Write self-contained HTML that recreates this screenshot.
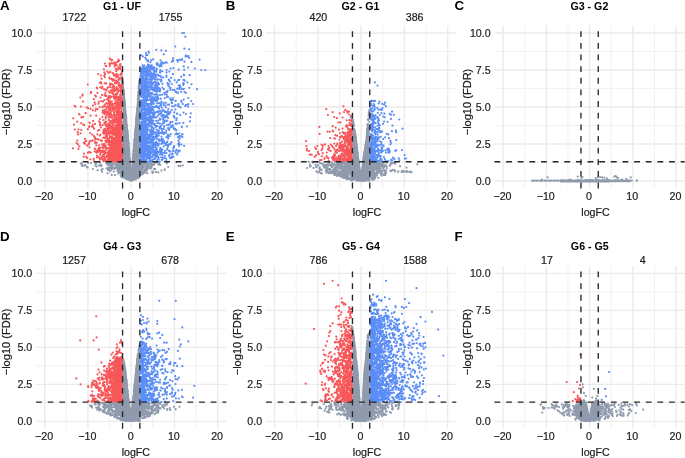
<!DOCTYPE html><html><head><meta charset="utf-8"><style>html,body{margin:0;padding:0;background:#fff;width:685px;height:458px;overflow:hidden}svg{display:block;will-change:transform;filter:blur(0.35px)}text{font-family:"Liberation Sans",sans-serif}</style></head><body>
<svg width="685" height="458" viewBox="0 0 685 458">
<rect width="685" height="458" fill="#fff"/>
<path d="M66.34 25.6V188.4M109.59 25.6V188.4M152.84 25.6V188.4M196.09 25.6V188.4M36.07 162.5H226.37M36.07 125.5H226.37M36.07 88.5H226.37M36.07 51.5H226.37" stroke="#EBEBEB" stroke-width="0.68" fill="none"/>
<path d="M44.72 25.6V188.4M87.97 25.6V188.4M131.22 25.6V188.4M174.47 25.6V188.4M217.72 25.6V188.4M36.07 181H226.37M36.07 144H226.37M36.07 107H226.37M36.07 70H226.37M36.07 33H226.37" stroke="#EBEBEB" stroke-width="1.35" fill="none"/>
<path d="M66.34 266V428.69M109.59 266V428.69M152.84 266V428.69M196.09 266V428.69M36.07 402.81H226.37M36.07 365.84H226.37M36.07 328.86H226.37M36.07 291.89H226.37" stroke="#EBEBEB" stroke-width="0.68" fill="none"/>
<path d="M44.72 266V428.69M87.97 266V428.69M131.22 266V428.69M174.47 266V428.69M217.72 266V428.69M36.07 421.3H226.37M36.07 384.32H226.37M36.07 347.35H226.37M36.07 310.38H226.37M36.07 273.4H226.37" stroke="#EBEBEB" stroke-width="1.35" fill="none"/>
<path d="M296.23 25.6V188.4M339.48 25.6V188.4M382.73 25.6V188.4M425.98 25.6V188.4M265.95 162.5H456.25M265.95 125.5H456.25M265.95 88.5H456.25M265.95 51.5H456.25" stroke="#EBEBEB" stroke-width="0.68" fill="none"/>
<path d="M274.6 25.6V188.4M317.85 25.6V188.4M361.1 25.6V188.4M404.35 25.6V188.4M447.6 25.6V188.4M265.95 181H456.25M265.95 144H456.25M265.95 107H456.25M265.95 70H456.25M265.95 33H456.25" stroke="#EBEBEB" stroke-width="1.35" fill="none"/>
<path d="M296.23 266V428.69M339.48 266V428.69M382.73 266V428.69M425.98 266V428.69M265.95 402.81H456.25M265.95 365.84H456.25M265.95 328.86H456.25M265.95 291.89H456.25" stroke="#EBEBEB" stroke-width="0.68" fill="none"/>
<path d="M274.6 266V428.69M317.85 266V428.69M361.1 266V428.69M404.35 266V428.69M447.6 266V428.69M265.95 421.3H456.25M265.95 384.32H456.25M265.95 347.35H456.25M265.95 310.38H456.25M265.95 273.4H456.25" stroke="#EBEBEB" stroke-width="1.35" fill="none"/>
<path d="M524.73 25.6V188.4M567.98 25.6V188.4M611.23 25.6V188.4M654.48 25.6V188.4M494.45 162.5H684.75M494.45 125.5H684.75M494.45 88.5H684.75M494.45 51.5H684.75" stroke="#EBEBEB" stroke-width="0.68" fill="none"/>
<path d="M503.1 25.6V188.4M546.35 25.6V188.4M589.6 25.6V188.4M632.85 25.6V188.4M676.1 25.6V188.4M494.45 181H684.75M494.45 144H684.75M494.45 107H684.75M494.45 70H684.75M494.45 33H684.75" stroke="#EBEBEB" stroke-width="1.35" fill="none"/>
<path d="M524.73 266V428.69M567.98 266V428.69M611.23 266V428.69M654.48 266V428.69M494.45 402.81H684.75M494.45 365.84H684.75M494.45 328.86H684.75M494.45 291.89H684.75" stroke="#EBEBEB" stroke-width="0.68" fill="none"/>
<path d="M503.1 266V428.69M546.35 266V428.69M589.6 266V428.69M632.85 266V428.69M676.1 266V428.69M494.45 421.3H684.75M494.45 384.32H684.75M494.45 347.35H684.75M494.45 310.38H684.75M494.45 273.4H684.75" stroke="#EBEBEB" stroke-width="1.35" fill="none"/>
<g><path d="M107.7 167.8h0M81.8 165.5h0M164.8 170.0h0M107.9 162.4h0M108.9 164.4h0M148.6 168.0h0M115.8 168.2h0M147.3 163.6h0M107.7 168.2h0M100.2 162.8h0M110.1 165.9h0M115.6 163.2h0M84.2 165.8h0M160.2 164.9h0M111.5 161.8h0M92.9 169.0h0M151.6 167.1h0M101.4 170.1h0M150.8 168.8h0M107.5 164.9h0M115.0 175.1h0M158.3 172.4h0M147.5 173.3h0M102.1 171.8h0M152.4 171.7h0M168.2 167.0h0M87.5 167.4h0M151.5 165.1h0M164.6 169.4h0M109.6 168.8h0M158.2 164.4h0M85.4 165.2h0M111.8 161.8h0M109.7 171.3h0M94.8 162.8h0M111.5 168.4h0M99.2 165.4h0M86.9 166.9h0M108.0 170.0h0M161.4 170.6h0M100.8 166.1h0M176.4 162.3h0M96.4 163.4h0M109.7 168.5h0M91.1 163.1h0M147.5 165.2h0M108.9 169.3h0M147.0 170.2h0M102.7 168.8h0M81.8 165.5h0M147.0 164.9h0M159.4 164.3h0M110.8 163.3h0M95.3 165.4h0M148.4 165.9h0M147.3 168.9h0M156.1 172.1h0M155.3 169.2h0M101.7 165.6h0M152.3 172.8h0M108.5 167.7h0M153.5 172.0h0M96.6 166.4h0M182.7 165.4h0M106.6 168.5h0M116.0 165.9h0M154.1 164.6h0M180.3 165.9h0M111.4 170.1h0M97.6 170.2h0M82.1 166.0h0M155.2 162.8h0M157.0 162.5h0M110.8 167.3h0M100.9 165.1h0M147.9 162.9h0M106.1 162.9h0M154.6 162.1h0M113.8 171.6h0M178.6 165.9h0M111.5 162.6h0M112.4 167.2h0M107.5 173.3h0M159.1 162.7h0M166.9 163.4h0M88.2 163.0h0M82.2 164.2h0M111.8 174.9h0M154.0 168.9h0M80.9 163.4h0" stroke="#8F9AAD" stroke-width="2.2" stroke-linecap="round" fill="none"/><path d="M125.7 177.7h0M121.8 171.5h0M128.5 169.7h0M141.5 171.2h0M124.3 168.7h0M129.4 174.4h0M129.5 179.4h0M136.0 162.5h0M128.8 168.0h0M130.4 176.6h0M141.7 165.5h0M146.2 163.6h0M143.7 173.1h0M107.3 163.9h0M129.9 167.6h0M130.3 170.9h0M136.3 177.8h0M134.3 178.9h0M126.4 166.6h0M134.4 172.5h0M127.6 164.8h0M127.1 178.8h0M126.3 178.7h0M137.9 176.4h0M151.7 165.6h0M127.8 169.2h0M127.9 172.9h0M120.4 170.5h0M110.6 165.4h0M143.0 171.5h0M127.0 167.4h0M141.3 172.4h0M129.3 167.0h0M137.3 168.3h0M124.1 175.3h0M136.2 166.8h0M142.1 164.9h0M130.0 178.0h0M141.7 166.2h0M132.4 167.7h0M129.4 173.9h0M132.4 171.5h0M135.0 162.9h0M139.4 171.6h0M129.2 163.1h0M129.6 165.5h0M119.6 169.3h0M141.0 174.8h0M133.1 168.6h0M123.0 164.4h0M124.4 169.6h0M128.2 168.2h0M132.9 170.8h0M128.2 170.7h0M129.2 163.8h0M126.7 174.8h0M147.7 167.8h0M140.5 168.1h0M153.7 164.8h0M146.1 164.2h0M135.3 171.5h0M133.4 175.9h0M109.4 163.0h0M126.8 164.9h0M156.1 162.0h0M149.5 167.6h0M123.6 174.3h0M129.0 178.0h0M122.9 177.5h0M145.2 169.1h0M133.2 171.8h0M135.8 165.1h0M129.4 170.4h0M119.9 171.8h0M125.6 173.6h0M128.2 169.4h0M128.4 174.0h0M138.7 177.9h0M116.2 163.1h0M133.4 166.8h0M148.3 168.2h0M143.9 171.5h0M137.5 174.4h0M130.9 180.0h0M127.4 162.1h0M142.7 167.5h0M137.1 163.4h0M128.4 162.1h0M130.5 177.7h0M134.6 167.6h0M114.0 164.6h0M144.0 165.9h0M152.0 164.0h0M137.9 176.1h0M142.1 169.9h0M140.9 172.2h0M133.2 164.6h0M135.0 168.5h0M150.8 166.8h0M120.2 168.2h0M147.8 164.5h0M127.9 177.8h0M130.5 171.6h0M127.0 163.9h0M127.4 177.6h0M128.7 162.9h0M123.3 173.4h0M144.5 169.7h0M139.2 177.1h0M141.6 173.0h0M124.2 166.0h0M148.6 163.7h0M143.4 161.9h0M132.0 178.0h0M139.5 171.4h0M128.0 170.7h0M112.8 168.4h0M126.8 168.8h0M136.0 162.5h0M138.2 162.7h0M133.4 166.6h0M132.5 179.0h0M116.8 164.4h0M125.0 165.3h0M130.7 180.7h0M132.1 172.3h0M118.0 170.8h0M127.8 173.5h0M134.9 176.6h0M146.7 170.6h0M118.5 172.1h0M125.6 176.0h0M118.2 171.6h0M125.6 170.6h0M133.6 173.4h0M123.7 176.5h0M126.8 176.3h0M135.1 175.9h0M113.0 168.2h0M130.3 173.8h0M134.4 178.3h0M126.5 167.2h0M132.2 170.9h0M142.5 174.2h0M124.7 169.0h0M152.7 163.5h0M136.3 167.0h0M122.1 168.0h0M127.8 173.2h0M123.2 177.7h0M139.7 166.3h0M136.1 174.1h0M130.0 177.2h0M132.8 164.7h0M136.9 162.9h0M126.7 167.0h0M121.7 169.0h0M120.8 168.5h0M131.8 174.2h0M128.7 167.0h0M131.0 173.1h0M120.9 172.4h0M139.4 162.2h0M129.2 164.1h0M140.7 173.9h0M127.1 167.1h0M127.8 162.5h0M129.0 166.7h0M134.9 175.8h0M140.3 172.3h0M120.7 175.7h0M127.0 164.5h0M126.9 164.4h0M112.4 166.4h0M123.3 170.7h0M128.8 172.8h0M139.6 168.5h0M132.9 173.1h0M137.8 170.1h0M135.9 163.2h0M133.0 172.2h0M126.8 163.3h0M136.4 165.2h0M125.6 171.4h0M141.3 173.1h0M138.1 169.4h0M125.5 172.4h0M118.2 165.8h0M135.4 178.9h0M127.7 165.9h0M124.9 169.5h0M137.8 168.9h0M121.5 163.1h0M135.9 169.3h0M128.4 169.3h0M129.5 178.1h0M121.5 176.4h0M123.8 174.1h0M133.4 169.5h0M132.6 165.1h0M119.7 170.2h0M118.5 169.2h0M118.4 173.7h0M120.4 170.5h0M136.4 174.1h0M135.8 175.1h0M127.4 171.1h0M118.1 168.6h0M132.5 165.0h0M116.1 163.8h0M132.3 169.7h0M115.4 162.9h0M127.1 169.8h0M132.8 161.9h0M125.9 167.6h0M132.4 170.9h0M133.3 170.0h0M128.5 168.3h0M118.8 168.6h0M130.5 176.7h0M121.6 172.6h0M116.8 166.2h0M118.7 171.7h0M130.5 172.1h0M112.4 162.1h0M125.8 168.4h0M125.6 168.6h0M128.8 174.2h0M132.7 167.6h0M126.9 177.7h0M126.5 173.5h0M132.9 172.6h0M127.9 178.0h0M132.7 178.4h0M133.2 177.3h0M128.9 162.8h0M119.4 166.1h0M129.6 178.1h0M132.1 180.5h0M140.2 164.9h0M129.2 170.3h0M114.4 167.7h0M129.8 165.7h0M135.5 171.9h0M133.6 172.6h0M121.2 167.3h0M130.4 174.9h0M126.9 170.2h0M126.4 172.3h0M146.1 167.2h0M126.5 170.1h0M143.7 163.5h0M134.2 163.6h0M136.2 167.3h0M130.1 177.8h0M135.5 168.2h0M150.2 165.9h0M140.9 173.8h0M146.7 161.8h0M114.9 167.8h0M150.3 163.7h0M122.1 177.4h0M126.4 162.7h0M137.7 171.3h0M136.3 163.4h0M127.7 164.0h0M126.9 173.6h0M114.5 169.0h0M132.0 180.3h0M131.9 177.5h0M136.0 176.9h0M125.1 174.1h0M132.5 165.3h0M136.1 166.2h0M134.3 170.0h0M128.6 176.7h0M140.2 171.1h0M133.7 178.8h0M129.0 178.3h0M128.8 166.6h0M128.6 167.5h0M121.5 171.2h0M129.8 170.9h0M125.8 166.9h0M141.2 164.6h0M112.0 164.7h0M128.6 169.5h0M118.8 165.3h0M108.6 163.8h0M136.2 175.9h0M127.9 166.5h0M130.0 175.6h0M144.9 163.6h0M128.9 170.0h0M144.7 171.2h0M143.0 163.3h0M135.4 167.3h0M134.4 170.0h0M132.5 176.8h0M135.3 177.9h0M136.6 174.0h0M118.7 173.1h0M128.2 170.3h0M128.3 176.2h0M136.6 172.5h0M140.8 173.5h0M134.5 173.3h0M139.5 167.4h0M134.3 178.1h0M136.1 173.0h0M135.8 164.5h0M121.5 176.9h0M136.2 162.3h0M142.4 169.7h0M138.8 177.7h0M116.4 166.2h0M125.9 171.0h0M127.7 172.4h0M132.9 161.8h0M124.3 166.9h0M129.9 173.0h0M126.6 171.1h0M132.3 173.2h0M139.6 168.8h0M129.4 162.5h0M123.9 177.4h0M143.0 171.8h0M123.0 171.6h0M128.6 173.5h0M139.6 173.1h0M122.0 174.0h0M147.1 167.2h0M129.0 165.8h0M145.4 167.3h0M138.1 173.9h0M128.8 169.5h0M126.0 174.2h0M124.4 174.0h0M139.1 165.1h0M121.0 171.5h0M135.3 164.2h0M126.1 165.5h0M138.3 171.5h0M126.0 178.4h0M133.3 168.5h0M111.5 166.4h0M116.3 167.7h0M129.4 164.2h0M117.3 171.0h0M145.7 172.6h0M126.7 172.3h0M127.4 168.8h0M133.0 169.0h0M133.7 168.8h0M112.7 164.1h0M132.5 176.4h0M130.0 176.1h0M140.4 173.0h0M123.5 165.0h0M136.3 164.3h0M134.3 172.3h0M132.7 162.8h0M126.8 165.8h0M107.8 164.2h0M146.4 169.4h0M133.8 171.1h0M134.8 162.1h0M146.0 170.4h0M122.4 173.0h0M122.7 165.5h0M138.8 175.7h0M117.9 170.0h0M134.5 165.9h0M143.7 163.3h0M121.2 166.1h0M136.8 163.3h0M130.0 177.6h0M130.8 173.8h0M129.6 165.4h0M133.7 167.6h0M133.7 177.4h0M116.4 168.1h0M139.5 167.4h0M137.3 168.1h0M137.0 161.8h0M135.1 164.2h0M151.4 163.0h0M138.0 177.0h0M113.1 162.3h0M126.1 173.7h0M122.2 167.5h0M111.7 162.9h0M127.6 166.3h0M143.1 165.9h0M130.1 168.8h0M139.8 166.3h0M126.5 179.0h0M141.1 167.5h0M116.9 166.8h0M132.6 175.0h0M141.5 173.1h0M122.6 172.7h0M128.5 163.9h0M133.8 177.8h0M129.6 178.4h0M134.9 164.3h0M119.6 168.6h0M126.3 174.1h0M135.9 162.1h0M127.2 169.8h0M127.9 178.6h0M132.8 177.5h0M134.5 166.3h0M122.5 168.2h0M125.2 165.7h0M127.4 167.3h0M133.6 169.5h0M125.5 164.6h0M128.8 166.0h0M135.0 173.5h0M136.4 171.3h0M135.8 167.0h0M146.5 167.7h0M128.7 161.8h0M134.8 175.1h0M148.3 163.8h0M133.7 174.7h0M137.9 163.1h0M137.3 163.2h0M119.5 165.3h0M140.3 170.0h0M118.6 167.6h0M126.2 178.5h0M145.4 163.6h0M133.4 166.4h0M134.1 171.5h0M121.4 172.6h0M127.7 177.4h0M128.6 176.6h0M144.9 171.0h0M129.6 170.3h0M126.5 170.5h0M132.0 179.8h0M146.8 166.3h0M122.7 162.0h0M123.7 166.2h0M131.0 176.0h0M129.3 171.3h0M129.2 175.6h0M129.9 172.3h0" stroke="#8F9AAD" stroke-width="2.2" stroke-linecap="round" fill="none"/><path d="M122.6 83.3L122.6 161.7L115.6 161.7L118.5 171.4L121.7 176.9L126.0 180.1L131.2 181.6L136.4 180.1L139.9 176.9L142.0 171.4L147.7 161.7L139.9 161.7L139.9 90.7L137.4 90.7L137.1 99.6L134.5 129.9L132.7 149.9L131.2 170.9L130.0 149.9L128.2 129.9L125.2 99.6L123.9 84.8L123.8 83.3Z" fill="#8F9AAD"/><path d="M124.0 103.6h0M129.2 166.5h0M129.5 164.1h0M124.5 117.2h0M129.2 152.3h0M129.0 158.2h0M124.9 113.5h0M129.1 158.6h0M126.1 129.5h0M129.3 169.8h0M125.1 110.2h0M127.0 131.5h0M127.1 137.2h0M128.7 156.9h0M123.7 95.0h0M125.7 124.7h0M128.8 151.3h0M125.5 131.0h0M128.6 168.1h0M122.3 78.2h0M124.9 104.9h0M126.7 127.8h0M123.3 96.5h0M121.7 74.0h0M124.3 108.7h0M129.4 159.9h0M127.8 143.5h0M126.9 129.0h0M122.5 82.6h0M123.4 95.5h0M121.9 76.7h0M122.9 83.0h0M122.9 92.0h0M128.9 148.1h0M129.7 166.8h0M128.0 156.1h0M122.1 80.9h0M122.5 85.5h0M124.3 101.3h0M128.1 136.5h0M125.1 113.3h0M127.7 145.7h0M128.7 150.9h0M128.9 146.5h0M129.2 159.7h0M125.8 127.2h0M125.9 115.6h0M129.2 170.0h0M124.8 113.5h0M127.8 146.3h0M127.7 140.7h0M125.0 110.5h0M126.3 118.2h0M129.9 165.8h0M129.9 168.1h0M128.4 154.7h0M123.4 95.0h0M124.7 101.5h0M125.1 107.0h0M125.7 125.5h0M129.1 149.3h0M121.8 87.5h0M128.3 153.9h0M128.7 143.4h0M126.3 124.6h0M121.5 81.1h0M124.0 93.9h0M125.3 110.2h0M121.0 86.1h0M124.5 109.9h0M122.8 87.9h0M130.3 170.1h0M124.1 106.1h0M129.6 158.8h0M125.0 106.8h0M126.2 126.8h0M124.2 98.8h0M121.9 82.2h0M127.7 134.3h0M123.9 92.9h0M124.6 110.6h0M123.6 92.5h0M127.7 131.8h0M127.6 133.9h0M122.2 87.4h0M127.0 137.4h0M123.2 93.2h0M123.4 90.2h0M125.9 115.0h0M124.5 101.6h0M125.7 115.9h0M128.3 146.2h0M124.2 106.2h0M127.1 134.0h0M129.5 160.8h0M125.7 114.7h0M127.1 138.6h0M129.4 154.1h0M122.2 80.1h0M125.6 117.5h0M124.2 108.7h0M126.7 126.6h0M128.8 161.0h0M123.9 104.8h0M128.0 143.8h0M128.6 157.6h0M123.7 90.7h0M122.3 81.7h0M123.5 90.8h0M122.8 81.6h0M127.1 131.4h0M129.8 160.2h0M124.9 107.6h0M129.9 170.9h0M123.5 90.4h0M129.5 163.8h0M129.3 163.3h0M123.2 90.9h0M127.5 131.2h0M127.0 131.9h0M123.8 93.1h0M128.1 136.4h0M124.6 101.8h0M128.4 164.3h0M120.7 74.1h0M128.2 152.1h0M126.5 128.6h0M126.7 125.0h0M122.3 81.8h0M124.9 103.5h0M126.6 126.9h0M129.6 162.1h0M127.9 135.0h0M127.6 131.3h0M124.2 101.6h0M122.9 100.6h0M122.1 81.1h0M125.6 115.9h0M129.4 165.0h0M122.5 90.8h0M128.3 139.7h0M129.2 158.3h0M127.8 145.8h0M123.3 98.2h0M126.2 131.0h0M129.6 157.8h0M125.4 121.3h0M125.4 116.1h0M126.8 126.2h0M129.9 169.4h0M122.3 90.9h0M123.3 92.2h0M124.6 107.8h0M123.2 99.5h0M127.2 137.3h0M122.7 94.6h0M129.2 161.5h0M129.8 169.4h0M122.1 81.3h0M124.0 96.9h0M122.8 84.0h0M124.5 115.0h0M124.5 100.3h0M121.8 84.6h0M134.5 151.7h0M138.0 95.9h0M138.9 86.4h0M139.1 104.4h0M136.9 123.5h0M139.0 88.1h0M133.9 144.2h0M133.1 159.4h0M138.7 87.3h0M139.4 107.9h0M139.2 83.3h0M139.4 89.2h0M138.6 92.3h0M134.5 143.7h0M134.9 145.7h0M137.1 115.9h0M136.0 122.0h0M137.0 108.9h0M135.3 131.7h0M135.5 131.4h0M134.1 153.9h0M137.6 114.0h0M133.2 169.4h0M133.6 158.3h0M134.7 141.2h0M138.4 101.3h0M133.7 155.1h0M139.3 84.1h0M134.0 144.5h0M137.5 114.4h0M137.6 118.4h0M138.0 101.0h0M136.9 117.4h0M133.4 155.7h0M136.1 119.6h0M135.3 133.0h0M138.4 98.4h0M136.4 119.2h0M140.7 82.2h0M136.3 118.3h0M133.9 151.5h0M134.3 152.6h0M139.1 94.9h0M132.7 166.7h0M136.4 118.0h0M139.1 87.7h0M135.9 136.2h0M137.4 108.6h0M133.1 163.9h0M138.6 101.6h0M134.5 144.7h0M136.6 115.3h0M136.9 116.5h0M139.6 81.8h0M134.1 152.0h0M134.0 151.2h0M136.7 118.1h0M138.5 105.4h0M137.4 112.9h0M135.0 143.6h0M134.8 134.2h0M133.2 158.6h0M132.9 169.0h0M138.4 100.3h0M135.7 147.5h0M136.7 115.6h0M139.7 84.7h0M137.1 112.3h0M133.6 151.4h0M135.5 128.4h0M133.3 169.9h0M137.7 112.3h0M134.8 135.7h0M132.3 168.8h0M138.9 100.5h0M139.1 101.8h0M138.3 107.3h0M133.8 156.8h0M135.0 138.1h0M137.3 129.2h0M135.7 129.7h0M136.0 121.6h0M138.0 100.1h0M138.5 103.8h0M139.1 89.3h0M137.9 106.5h0M139.5 81.8h0M133.3 154.7h0M136.2 118.2h0M134.6 144.5h0M135.5 141.4h0M132.8 160.7h0M135.7 149.5h0M137.6 110.7h0M138.7 100.1h0M133.4 164.9h0M136.0 122.2h0M138.2 98.2h0M134.6 159.5h0M134.7 140.2h0M133.2 168.3h0M137.2 113.2h0M132.3 167.0h0M136.4 123.5h0M132.5 169.5h0M133.9 146.5h0M134.0 152.7h0M137.0 125.0h0M134.3 141.4h0M133.1 169.0h0M139.1 102.1h0M133.6 153.8h0M139.5 81.5h0M135.9 128.4h0M138.2 107.6h0M134.6 143.2h0M134.3 139.6h0M132.9 159.4h0M134.9 138.3h0M136.2 134.8h0M139.7 79.9h0M137.0 117.8h0M134.1 148.6h0M135.2 130.7h0M133.9 149.7h0M134.8 140.3h0M133.4 157.4h0M136.3 121.9h0M133.8 158.0h0M135.8 147.6h0M137.9 112.8h0M133.9 157.0h0M132.6 164.8h0M138.6 86.6h0M136.0 137.5h0M135.3 139.5h0M137.4 108.6h0M137.0 118.2h0M139.1 96.5h0M133.5 156.8h0M138.6 88.9h0M139.8 80.3h0M133.6 153.9h0M134.7 142.6h0M139.0 84.7h0M139.1 90.9h0M133.8 165.4h0M137.8 99.1h0M134.6 144.0h0M136.5 127.3h0M132.8 169.2h0M136.5 115.7h0M139.2 88.2h0M139.2 81.4h0" stroke="#8F9AAD" stroke-width="2.2" stroke-linecap="round" fill="none"/><path d="M116.5 87.0h0M120.3 144.7h0M114.1 118.0h0M120.0 120.1h0M113.2 149.9h0M116.6 65.1h0M117.5 107.2h0M117.4 141.7h0M105.7 152.7h0M98.9 157.1h0M100.0 82.8h0M116.0 158.9h0M116.8 154.5h0M118.8 97.2h0M118.6 148.6h0M116.8 120.3h0M80.9 106.6h0M94.6 102.3h0M118.5 91.0h0M115.2 134.7h0M104.8 95.7h0M118.7 141.8h0M90.1 133.0h0M112.4 154.8h0M83.2 116.8h0M100.5 153.4h0M108.3 114.2h0M99.7 151.3h0M121.7 138.2h0M112.6 142.8h0M119.5 122.6h0M92.9 110.3h0M111.6 132.3h0M114.4 158.1h0M113.3 151.6h0M121.2 153.8h0M114.5 150.2h0M118.6 159.3h0M113.9 97.9h0M104.2 110.2h0M120.4 160.0h0M120.8 130.3h0M113.1 148.2h0M119.9 100.5h0M113.0 144.6h0M106.0 113.0h0M121.0 158.0h0M116.0 107.6h0M91.2 92.1h0M113.6 87.4h0M121.5 129.6h0M111.6 130.2h0M121.9 130.8h0M110.6 125.1h0M121.9 146.2h0M119.7 147.8h0M107.2 126.4h0M118.3 68.6h0M103.8 154.7h0M121.6 126.2h0M78.4 129.5h0M95.9 108.8h0M104.1 143.8h0M108.4 151.7h0M114.4 151.8h0M117.1 108.1h0M118.2 103.7h0M111.2 63.4h0M102.7 112.7h0M119.9 122.7h0M118.3 148.1h0M121.8 106.5h0M111.4 91.8h0M110.8 141.4h0M110.9 137.2h0M122.0 156.6h0M121.8 136.1h0M115.5 146.1h0M120.6 148.6h0M93.9 161.1h0M116.4 152.4h0M108.0 87.4h0M117.2 152.5h0M101.5 78.7h0M118.5 139.4h0M112.9 130.0h0M113.2 158.3h0M120.6 153.1h0M118.6 161.5h0M115.2 83.4h0M111.1 150.0h0M121.2 158.5h0M83.1 101.6h0M112.2 158.1h0M119.6 141.2h0M116.6 143.6h0M117.6 150.8h0M121.6 99.3h0M116.0 161.3h0M115.3 118.9h0M118.6 156.1h0M119.5 148.6h0M121.3 106.2h0M121.1 156.8h0M118.4 160.4h0M116.0 144.7h0M116.8 161.0h0M115.4 65.4h0M121.4 74.2h0M121.3 100.9h0M110.5 142.0h0M112.8 144.8h0M112.9 125.6h0M120.5 153.5h0M116.8 139.9h0M119.8 149.1h0M110.0 78.4h0M121.7 159.3h0M79.5 114.5h0M117.3 141.6h0M120.9 147.2h0M111.6 60.6h0M121.2 130.2h0M115.3 97.6h0M111.9 101.7h0M117.2 123.4h0M113.6 147.4h0M117.6 147.1h0M112.7 131.6h0M115.7 128.3h0M121.8 152.3h0M108.9 145.0h0M117.5 145.7h0M110.9 160.3h0M120.0 152.0h0M96.2 115.7h0M104.1 132.1h0M110.3 159.4h0M121.4 97.4h0M121.4 126.7h0M108.9 96.4h0M89.1 127.1h0M120.1 159.7h0M113.2 145.3h0M120.2 160.0h0M114.8 134.3h0M118.8 150.8h0M99.5 149.1h0M120.6 119.7h0M114.1 159.7h0M117.0 156.5h0M120.3 89.7h0M118.4 134.0h0M120.0 138.9h0M121.2 147.4h0M113.9 109.4h0M118.8 154.4h0M118.3 137.6h0M121.5 90.5h0M116.5 112.4h0M115.6 157.9h0M118.7 99.2h0M114.9 159.8h0M119.8 137.4h0M122.0 153.9h0M113.9 160.9h0M113.6 158.8h0M115.6 133.4h0M121.9 155.9h0M120.1 139.8h0M107.4 111.8h0M112.9 124.7h0M112.6 154.3h0M107.1 135.9h0M95.9 139.2h0M87.2 145.7h0M114.7 149.4h0M112.7 129.9h0M97.5 92.8h0M111.4 147.4h0M116.6 130.4h0M121.0 139.6h0M110.9 154.0h0M120.7 159.2h0M121.6 151.6h0M90.8 152.5h0M120.5 161.1h0M88.1 108.3h0M121.9 84.9h0M119.8 148.0h0M121.1 89.0h0M106.0 148.4h0M115.7 131.1h0M118.2 139.3h0M121.5 161.7h0M121.3 104.0h0M110.7 103.8h0M105.0 153.8h0M119.7 145.3h0M118.2 160.1h0M78.4 148.9h0M121.4 111.3h0M116.3 153.0h0M113.6 144.5h0M116.7 138.0h0M100.1 122.6h0M120.7 143.5h0M81.3 130.0h0M87.8 84.5h0M86.1 156.8h0M84.6 142.2h0M115.6 74.6h0M121.1 158.8h0M119.1 157.3h0M118.6 128.8h0M118.4 157.2h0M107.0 106.5h0M111.1 126.9h0M121.6 158.5h0M119.0 117.6h0M111.3 153.0h0M87.3 158.1h0M116.2 120.5h0M120.0 143.5h0M121.1 157.5h0M100.7 147.5h0M119.4 127.9h0M103.9 156.2h0M117.9 134.2h0M120.7 158.6h0M110.3 147.4h0M106.6 95.9h0M103.2 159.3h0M95.3 104.2h0M119.1 151.2h0M120.3 125.8h0M117.4 132.3h0M109.7 135.8h0M121.2 150.1h0M119.3 160.6h0M99.9 159.7h0M113.0 129.0h0M121.8 132.8h0M109.0 101.5h0M121.6 77.4h0M114.2 113.0h0M116.6 159.0h0M121.0 148.7h0M112.7 160.1h0M121.0 145.4h0M106.9 130.0h0M118.0 97.8h0M120.3 159.7h0M116.9 107.4h0M119.5 133.0h0M120.9 91.2h0M119.3 137.4h0M115.9 155.0h0M119.4 137.7h0M116.8 160.6h0M112.0 59.9h0M120.2 147.2h0M121.0 121.5h0M72.9 148.3h0M121.2 142.4h0M116.3 140.6h0M84.0 153.6h0M120.1 137.6h0M117.4 147.5h0M108.5 144.4h0M117.2 122.5h0M112.0 121.5h0M105.0 159.2h0M120.0 78.7h0M120.1 159.2h0M117.4 92.9h0M114.9 148.1h0M117.3 121.0h0M113.8 115.4h0M118.6 161.5h0M115.7 136.9h0M118.3 148.9h0M116.9 118.1h0M113.8 107.2h0M119.5 154.8h0M106.2 109.2h0M113.4 120.2h0M117.6 144.2h0M107.6 138.5h0M110.0 127.8h0M102.7 144.9h0M112.5 138.9h0M89.2 126.4h0M108.8 119.9h0M118.2 120.2h0M120.8 122.1h0M118.2 144.3h0M119.3 154.8h0M112.1 117.8h0M117.6 126.9h0M105.0 131.1h0M95.1 149.1h0M99.0 147.8h0M112.3 137.4h0M116.0 116.3h0M118.0 150.3h0M111.6 127.7h0M113.1 160.5h0M105.6 123.9h0M119.4 100.7h0M116.8 157.3h0M120.0 146.6h0M118.8 128.3h0M117.5 153.9h0M121.2 139.4h0M120.1 148.8h0M118.2 145.9h0M118.0 150.8h0M121.9 144.5h0M106.2 142.5h0M116.3 145.4h0M108.7 153.5h0M119.3 160.4h0M119.8 140.6h0M113.0 129.3h0M113.2 133.2h0M121.1 153.6h0M109.2 133.4h0M117.7 132.7h0M118.4 107.4h0M109.5 158.1h0M113.4 150.0h0M110.8 110.3h0M119.0 110.0h0M116.0 130.8h0M121.2 142.2h0M120.1 161.2h0M114.6 159.4h0M117.3 139.1h0M110.9 117.0h0M113.0 93.9h0M121.7 143.8h0M109.4 133.7h0M96.5 152.7h0M101.9 157.4h0M119.9 141.2h0M113.4 130.6h0M110.1 155.0h0M101.0 152.4h0M121.1 153.5h0M103.3 132.3h0M115.3 122.3h0M90.8 93.1h0M119.8 138.2h0M121.1 160.6h0M109.3 131.6h0M116.4 158.8h0M119.7 137.7h0M120.5 128.9h0M114.3 155.2h0M100.6 140.3h0M121.7 144.5h0M118.8 147.1h0M120.3 145.2h0M113.6 147.6h0M121.9 157.6h0M119.4 154.2h0M116.8 159.3h0M116.9 154.6h0M109.3 77.7h0M82.4 95.7h0M109.9 137.5h0M77.7 132.2h0M121.6 149.9h0M119.6 112.3h0M117.4 102.3h0M104.9 77.3h0M114.6 129.5h0M119.0 147.9h0M121.6 73.1h0M112.3 132.9h0M119.1 129.3h0M104.3 123.0h0M115.9 140.0h0M116.2 158.1h0M120.8 133.4h0M120.9 95.2h0M121.6 138.1h0M118.9 98.9h0M119.7 112.8h0M112.6 147.2h0M120.2 123.2h0M119.2 128.1h0M117.4 155.2h0M119.6 161.4h0M121.4 140.1h0M83.6 156.7h0M121.2 84.6h0M115.4 63.7h0M113.7 144.1h0M117.1 62.1h0M121.2 84.9h0M118.4 149.1h0M121.0 118.2h0M118.7 147.1h0M114.3 154.3h0M116.7 141.5h0M108.4 103.2h0M108.9 106.0h0M121.6 158.3h0M116.9 126.0h0M118.9 136.3h0M112.1 121.7h0M118.5 118.3h0M107.4 138.0h0M117.8 99.8h0M117.4 143.0h0M112.8 143.2h0M119.9 128.4h0M113.4 104.1h0M121.0 143.0h0M117.9 146.2h0M119.5 147.7h0M87.8 129.2h0M121.3 110.9h0M120.4 108.1h0M118.5 124.2h0M109.8 104.7h0M107.4 140.3h0M114.9 150.9h0M112.8 127.3h0M109.6 100.5h0M116.5 105.7h0M117.1 149.0h0M119.8 132.2h0M114.3 142.8h0M90.5 115.7h0M119.5 134.1h0M112.3 153.1h0M110.1 58.9h0M120.7 143.6h0M120.7 157.8h0M122.0 157.1h0M117.0 126.0h0M118.6 109.6h0M112.9 154.8h0M96.8 87.7h0M112.4 120.2h0M121.6 122.9h0M120.2 156.3h0M115.6 105.9h0M109.3 150.9h0M105.7 145.6h0M121.8 149.7h0M117.4 142.4h0M104.0 112.9h0M119.1 150.9h0M115.8 155.4h0M120.3 159.0h0M120.6 123.7h0M88.8 144.1h0M104.8 104.7h0M120.9 161.3h0M119.6 131.4h0M118.6 117.0h0M114.6 155.7h0M114.9 127.8h0M106.4 147.9h0M118.1 152.0h0M117.1 139.0h0M117.3 134.3h0M119.6 146.6h0M97.8 149.5h0M112.8 122.3h0M120.1 75.0h0M116.6 149.7h0M118.8 121.2h0M104.6 152.3h0M117.0 124.7h0M116.9 152.2h0M121.3 114.2h0M121.4 152.0h0M120.5 140.9h0M113.9 161.2h0M77.2 121.7h0M106.3 83.3h0M115.6 144.5h0M106.9 99.5h0M114.3 160.5h0M119.6 125.3h0M117.0 74.0h0M118.4 115.6h0M107.3 140.3h0M119.9 157.5h0M115.8 130.5h0M114.6 89.1h0M114.1 156.3h0M116.4 125.4h0M97.1 150.8h0M115.9 101.7h0M115.0 154.2h0M113.7 111.8h0M118.9 152.2h0M104.3 147.2h0M87.8 152.8h0M121.4 98.2h0M121.0 159.6h0M117.0 143.5h0M118.9 157.4h0M108.0 99.9h0M119.7 159.7h0M120.3 159.8h0M116.9 134.3h0M78.1 134.4h0M119.9 145.1h0M121.7 130.5h0M108.5 148.0h0M120.1 161.7h0M120.8 124.1h0M114.0 132.5h0M119.9 137.0h0M115.5 127.5h0M118.2 146.5h0M120.9 141.6h0M112.0 146.8h0M121.2 150.7h0M122.0 155.0h0M120.1 151.7h0M118.6 127.5h0M115.1 139.8h0M120.2 161.3h0M116.9 146.7h0M120.8 120.3h0M115.4 133.2h0M119.4 105.2h0M118.9 103.0h0M81.7 117.3h0M113.8 86.5h0M111.9 140.3h0M120.6 152.9h0M106.3 109.4h0M107.5 128.8h0M120.7 123.2h0M121.1 112.9h0M120.2 145.5h0M114.1 138.0h0M111.4 156.3h0M117.3 133.7h0M111.0 154.8h0M109.0 133.7h0M116.2 157.8h0M107.7 87.8h0M111.2 157.9h0M109.9 155.4h0M114.5 147.8h0M83.3 124.7h0M121.3 139.6h0M115.9 133.2h0M120.1 148.6h0M118.1 135.3h0M121.2 158.6h0M114.5 143.0h0M105.6 125.5h0M104.3 145.7h0M96.0 96.4h0M99.9 119.0h0M113.7 159.7h0M121.0 144.2h0M121.0 157.9h0M108.6 130.4h0M102.4 116.9h0M111.1 132.9h0M102.1 144.3h0M119.9 160.1h0M102.4 156.0h0M112.3 144.4h0M119.3 159.4h0M111.0 148.7h0M119.2 146.5h0M111.7 84.1h0M110.7 137.7h0M118.9 152.8h0M116.5 155.1h0M120.6 151.2h0M74.0 124.6h0M109.7 58.5h0M118.0 112.9h0M115.6 134.8h0M120.8 151.5h0M114.2 90.4h0M80.6 133.3h0M92.3 134.6h0M103.1 132.7h0M120.3 157.5h0M116.2 80.9h0M113.6 155.4h0M119.6 125.4h0M121.2 140.9h0M117.2 123.2h0M114.9 137.9h0M104.3 145.3h0M104.8 153.0h0M116.8 96.4h0M110.4 146.1h0M117.3 146.4h0M97.4 151.2h0M118.4 100.4h0M110.4 147.5h0M100.3 124.4h0M113.7 153.6h0M74.9 129.5h0M118.2 134.1h0M115.9 158.4h0M92.1 140.9h0M102.3 107.3h0M111.9 116.2h0M117.5 126.3h0M113.3 155.9h0M120.4 64.1h0M110.7 137.2h0M120.2 157.5h0M121.8 155.2h0M117.7 75.2h0M121.1 154.0h0M114.2 87.5h0M115.6 154.0h0M92.7 140.4h0M117.3 130.6h0M121.2 145.1h0M118.7 155.1h0M115.2 120.5h0M114.4 95.4h0M118.7 127.7h0M108.4 160.2h0M109.8 131.2h0M109.1 150.7h0M120.3 94.4h0M105.4 125.2h0M88.3 144.5h0M119.2 155.0h0M121.3 125.0h0M114.7 142.2h0M115.5 115.3h0M114.7 153.0h0M83.9 142.9h0M115.3 144.0h0M90.2 152.6h0M114.1 142.2h0M85.0 138.9h0M121.0 92.3h0M117.8 161.0h0M120.5 143.8h0M117.5 156.0h0M114.0 153.5h0M96.3 152.1h0M121.7 149.5h0M115.5 110.4h0M119.7 155.5h0M121.8 148.9h0M116.6 125.2h0M105.8 116.9h0M119.7 149.0h0M107.7 157.6h0M111.1 97.0h0M119.5 143.3h0M108.3 154.5h0M116.0 131.7h0M115.9 153.0h0M116.5 93.8h0M117.8 146.2h0M117.1 146.7h0M121.8 71.0h0M118.0 123.7h0M84.2 125.1h0M116.9 103.8h0M103.5 130.7h0M108.3 129.2h0M117.1 94.2h0M115.6 139.3h0M122.0 155.2h0M113.3 153.0h0M120.5 159.0h0M113.3 144.0h0M120.5 154.1h0M119.2 157.7h0M117.0 149.2h0M95.3 143.0h0M99.0 145.3h0M119.1 144.1h0M110.2 103.1h0M121.8 152.4h0M118.9 133.6h0M108.5 142.3h0M108.2 152.2h0M109.2 131.9h0M114.5 122.8h0M116.5 119.0h0M115.4 108.3h0M119.3 144.5h0M112.8 160.9h0M118.1 122.4h0M103.6 111.3h0M119.9 96.0h0M111.0 122.4h0M116.9 82.8h0M119.6 161.2h0M119.9 64.9h0M121.0 128.2h0M97.4 134.3h0M113.9 145.0h0M119.8 154.1h0M92.7 124.6h0M108.0 126.2h0M120.7 90.2h0M121.7 86.0h0M102.9 152.2h0M118.0 145.5h0M118.0 153.7h0M118.5 157.8h0M110.4 152.3h0M114.9 115.0h0M117.0 125.3h0M93.9 99.1h0M117.2 141.6h0M120.1 129.4h0M119.0 154.8h0M121.4 158.2h0M113.3 91.4h0M112.4 137.1h0M121.0 159.1h0M109.2 160.5h0M110.0 157.8h0M116.0 140.5h0M111.9 78.8h0M121.8 112.2h0M88.9 152.2h0M120.3 111.7h0M116.5 115.8h0M105.3 140.6h0M113.0 87.0h0M120.9 119.8h0M99.3 148.0h0M109.9 151.4h0M104.1 89.3h0M113.3 80.4h0M106.2 134.2h0M118.1 128.2h0M116.6 132.6h0M118.6 154.3h0M113.8 85.9h0M109.6 115.2h0M115.8 148.6h0M114.0 113.8h0M118.5 159.5h0M118.1 159.6h0M114.5 62.3h0M119.1 149.4h0M86.2 140.9h0M117.1 154.1h0M120.3 158.4h0M121.0 131.0h0M119.2 84.9h0M120.9 88.1h0M118.0 150.2h0M121.7 135.8h0M103.2 148.2h0M117.5 150.3h0M121.9 160.2h0M110.5 148.8h0M120.7 86.3h0M121.6 161.0h0M119.7 127.4h0M101.9 141.1h0M118.8 141.1h0M109.6 92.8h0M107.5 104.1h0M121.7 152.3h0M114.2 157.1h0M115.7 146.4h0M122.0 116.4h0M118.9 124.1h0M112.2 150.6h0M121.5 135.2h0M114.9 143.5h0M121.0 151.6h0M119.6 129.7h0M121.5 73.7h0M108.4 140.9h0M105.5 136.1h0M89.3 142.2h0M114.4 122.3h0M100.9 75.5h0M105.3 151.0h0M119.0 111.0h0M115.5 129.4h0M109.3 157.9h0M118.2 146.2h0M110.7 144.0h0M115.6 142.6h0M115.8 134.2h0M121.8 154.1h0M97.0 157.5h0M120.7 123.4h0M119.0 154.1h0M110.4 126.5h0M122.0 161.0h0M97.0 155.7h0M99.3 130.0h0M116.5 88.5h0M116.1 157.7h0M118.8 147.3h0M108.8 97.3h0M111.7 105.7h0M107.7 128.5h0M118.4 122.6h0M120.1 152.8h0M121.2 147.3h0M114.8 145.0h0M114.0 142.8h0M111.4 148.7h0M118.0 61.4h0M116.9 153.8h0M106.4 103.0h0M119.5 161.7h0M121.3 154.0h0M121.5 140.0h0M120.6 154.5h0M117.1 135.5h0M121.8 147.1h0M118.7 112.4h0M117.4 149.9h0M115.9 134.6h0M95.1 95.5h0M109.5 115.9h0M99.7 135.6h0M108.7 156.1h0M119.9 114.3h0M115.0 96.9h0M120.7 133.1h0M113.0 146.5h0M119.6 118.7h0M76.5 142.8h0M118.8 137.1h0M118.6 128.5h0M118.1 130.9h0M86.7 107.4h0M115.3 80.7h0M117.1 143.9h0M119.6 156.1h0M113.8 90.9h0M117.5 145.9h0M106.9 115.2h0M117.7 151.4h0M120.4 140.9h0M118.4 133.4h0M113.2 149.1h0M120.3 146.9h0M120.8 159.6h0M119.0 160.6h0M75.4 106.7h0M120.2 107.9h0M106.1 130.6h0M119.6 99.7h0M120.3 129.1h0M111.1 160.2h0M118.4 130.5h0M115.6 158.3h0M115.2 146.3h0M100.3 87.3h0M110.2 144.2h0M116.1 144.0h0M115.9 133.0h0M109.4 101.4h0M117.9 134.0h0M116.9 104.4h0M119.5 158.4h0M117.6 146.6h0M115.2 154.3h0M120.4 117.7h0M104.5 122.8h0M106.7 112.0h0M120.9 139.3h0M93.0 126.8h0M120.4 156.8h0M109.4 140.7h0M118.6 112.2h0M120.6 157.7h0M121.6 125.4h0M119.3 129.2h0M102.4 157.2h0M121.8 116.2h0M106.2 66.1h0M120.1 148.0h0M109.7 106.7h0M120.7 154.9h0M117.6 150.6h0M121.3 114.0h0M102.4 86.7h0M109.5 148.6h0M113.6 161.4h0M109.0 91.6h0M120.3 148.7h0M115.3 138.4h0M119.4 86.5h0M110.7 112.1h0M115.7 137.9h0M100.9 150.5h0M120.5 140.9h0M118.6 159.0h0M115.6 116.5h0M112.0 93.0h0M105.2 128.6h0M109.7 126.0h0M118.9 121.8h0M115.5 116.9h0M120.4 134.4h0M102.2 159.3h0M104.4 72.4h0M113.3 96.5h0M120.1 159.0h0M111.9 126.5h0M108.4 111.1h0M90.0 140.8h0M121.7 140.2h0M105.8 157.3h0M113.3 149.2h0M111.2 149.4h0M120.2 98.3h0M113.7 158.2h0M120.2 159.3h0M93.1 120.9h0M120.7 144.7h0M104.5 114.3h0M90.4 159.3h0M119.4 136.5h0M117.6 160.5h0M109.2 159.2h0M114.0 150.8h0M105.4 147.9h0M115.6 157.6h0M121.8 144.5h0M116.6 148.2h0M121.5 149.5h0M107.7 153.2h0M120.6 119.8h0M118.4 122.3h0M117.3 159.8h0M104.7 83.4h0M115.7 161.2h0M107.3 141.6h0M117.8 159.1h0M114.6 160.3h0M121.2 147.1h0M121.3 146.4h0M104.8 111.4h0M120.2 137.7h0M104.7 137.9h0M100.9 82.0h0M101.3 151.2h0M119.5 159.7h0M121.6 155.2h0M114.0 121.5h0M96.0 138.9h0M118.9 132.9h0M121.1 134.4h0M109.9 154.1h0M118.7 136.4h0M99.1 121.4h0M107.1 130.8h0M113.9 75.7h0M109.8 64.3h0M109.9 142.5h0M117.2 156.7h0M115.8 97.6h0M114.4 130.0h0M117.9 149.0h0M113.4 128.2h0M117.6 120.1h0M112.2 105.9h0M119.7 156.0h0M107.7 141.7h0M121.3 117.4h0M103.5 120.1h0M115.4 154.2h0M118.8 125.8h0M120.8 139.2h0M117.7 122.0h0M117.8 147.5h0M120.8 141.8h0M112.2 104.0h0M117.4 143.6h0M82.8 94.5h0M102.8 159.9h0M116.1 159.6h0M121.8 138.0h0M120.5 144.1h0M112.2 158.7h0M122.0 134.2h0M120.5 146.9h0M116.5 160.5h0M97.9 139.1h0M121.3 105.8h0M120.7 146.3h0M106.7 107.8h0M97.7 150.6h0M117.7 147.8h0M120.7 157.4h0M120.8 123.4h0M110.7 102.0h0M113.0 160.4h0M116.7 112.4h0M110.1 133.2h0M98.1 151.9h0M121.1 133.8h0M89.7 122.8h0M119.0 156.4h0M120.6 155.9h0M108.8 154.8h0M110.3 144.1h0M108.8 108.1h0M112.1 79.8h0M119.7 157.8h0M110.2 121.2h0M112.9 63.4h0M119.9 153.6h0M111.0 90.4h0M112.6 84.6h0M98.8 101.5h0M88.9 143.8h0M121.3 144.0h0M103.7 161.2h0M114.2 115.7h0M122.0 154.0h0M110.7 113.1h0M119.9 136.3h0M106.1 95.8h0M120.4 125.0h0M113.7 156.2h0M120.0 137.5h0M105.6 152.9h0M116.8 118.9h0M73.3 118.3h0M118.4 130.4h0M108.7 130.4h0M118.3 154.4h0M118.6 123.6h0M114.8 148.0h0M121.4 127.8h0M89.5 147.3h0M106.4 121.7h0M114.4 130.5h0M117.6 142.7h0M115.4 151.5h0M121.2 103.2h0M121.6 159.9h0M114.4 158.1h0M121.0 148.3h0M110.7 153.9h0M116.7 137.8h0M112.7 159.1h0M119.7 127.9h0M121.7 113.2h0M121.5 126.3h0M107.3 126.0h0M122.0 118.2h0M103.8 133.8h0M105.1 74.4h0M121.6 158.1h0M116.6 150.4h0M114.7 159.7h0M119.6 116.8h0M115.2 142.2h0M118.7 116.9h0M117.0 156.0h0M119.7 161.6h0M114.5 66.3h0M118.2 111.8h0M118.3 151.6h0M109.7 135.8h0M121.3 153.6h0M108.6 124.8h0M106.6 147.9h0M112.2 156.8h0M120.6 106.1h0M107.8 159.8h0M119.9 156.8h0M119.8 87.1h0M94.8 151.4h0M121.5 114.8h0M109.1 109.1h0M120.5 116.4h0M114.9 155.5h0M98.2 151.1h0M121.4 132.6h0M118.3 146.8h0M117.1 160.8h0M119.0 100.1h0M100.3 154.8h0M119.5 85.9h0M113.6 161.1h0M110.8 145.5h0M119.3 141.3h0M118.6 155.4h0M111.9 150.5h0M112.4 154.0h0M120.6 116.6h0M116.4 77.5h0M121.8 125.3h0M118.6 151.5h0M115.6 158.5h0M116.9 62.2h0M121.6 160.2h0M115.6 143.1h0M118.9 161.0h0M120.2 105.6h0M121.6 127.8h0M108.6 112.9h0M116.7 159.6h0M119.7 144.2h0M117.1 148.2h0M119.4 97.2h0M122.0 152.4h0M104.9 63.6h0M122.0 157.2h0M112.6 72.9h0M121.0 160.9h0M85.8 113.3h0M117.8 82.1h0M121.1 160.9h0M104.5 150.9h0M121.7 151.9h0M107.8 155.8h0M121.6 141.3h0M112.2 138.9h0M121.7 159.5h0M105.5 147.6h0M114.7 139.1h0M110.4 161.2h0M111.9 144.5h0M118.9 122.0h0M120.7 159.0h0M120.7 130.4h0M104.7 94.6h0M105.8 136.4h0M113.9 131.4h0M119.3 136.6h0M121.1 149.7h0M118.7 144.6h0M121.2 87.9h0M116.1 119.5h0M110.0 83.7h0M119.0 156.0h0M120.5 98.1h0M121.7 78.4h0M109.6 63.4h0M118.0 110.2h0M113.9 142.7h0M120.6 159.0h0M114.2 150.7h0M103.1 101.6h0M113.3 152.6h0M119.1 134.4h0M118.6 148.4h0M85.1 144.0h0M121.5 152.9h0M113.0 108.7h0M118.6 115.4h0M115.9 145.6h0M115.6 159.7h0M116.9 132.3h0M113.9 133.4h0M120.1 140.8h0M119.7 68.2h0M97.5 109.2h0M106.7 155.8h0M112.0 143.8h0M120.4 160.7h0M119.8 140.6h0M107.7 154.7h0M107.6 124.4h0M118.6 115.5h0M112.2 134.7h0M121.6 157.9h0M121.3 154.5h0M100.2 158.2h0M112.2 145.6h0M106.7 140.2h0M121.0 121.2h0M118.6 155.0h0M109.9 125.0h0M105.5 92.7h0M113.5 153.0h0M116.8 129.1h0M90.6 108.9h0M111.8 146.5h0M114.1 139.3h0M98.3 139.7h0M121.4 160.2h0M113.1 80.8h0M121.9 149.7h0M111.3 141.7h0M117.3 150.1h0M104.0 158.8h0M109.9 155.7h0M115.8 68.7h0M115.2 125.3h0M109.9 156.8h0M108.5 73.0h0M120.1 129.0h0M120.7 154.5h0M116.3 105.1h0M116.5 104.2h0M112.0 157.0h0M109.3 109.9h0M112.7 159.3h0M119.7 137.5h0M118.0 88.9h0M108.0 106.8h0M117.8 151.7h0M117.8 143.6h0M121.3 153.4h0M118.4 145.6h0M105.7 89.7h0M119.5 159.1h0M121.5 159.2h0M105.8 161.2h0M118.4 136.7h0M121.3 121.3h0M117.2 145.0h0M116.1 90.6h0M117.9 142.6h0M117.4 101.1h0M119.3 103.8h0M116.5 150.3h0M119.5 151.1h0M111.0 108.1h0M107.1 126.7h0M120.5 68.9h0M98.0 130.6h0M102.7 110.6h0M119.8 152.4h0M120.0 117.0h0M117.4 152.6h0M104.4 100.0h0M98.5 103.7h0M117.9 148.1h0M118.5 66.8h0M121.9 100.3h0M116.2 127.7h0M106.1 137.5h0M118.2 129.5h0M105.4 133.3h0M112.1 123.1h0M120.1 106.2h0M115.5 131.4h0M77.3 140.5h0M107.4 71.3h0M105.7 66.1h0M116.7 114.5h0M81.2 123.1h0M112.8 140.2h0M118.3 84.8h0M121.7 87.3h0M121.0 102.6h0M115.6 125.6h0M118.8 151.5h0M112.2 110.3h0M106.2 141.9h0M108.0 133.7h0M113.5 138.1h0M121.0 147.2h0M112.4 160.1h0M121.1 138.7h0M108.2 157.0h0M120.9 143.3h0M105.5 125.3h0M115.0 143.4h0M105.6 132.6h0M121.7 148.0h0M114.1 155.1h0M114.5 155.5h0M120.2 132.9h0M118.1 157.0h0M113.7 74.4h0M121.9 160.8h0M121.7 133.9h0M120.0 158.1h0M104.7 130.5h0M120.9 66.3h0M120.6 117.0h0M118.9 138.6h0M117.1 159.8h0M115.1 151.6h0M121.4 161.7h0M121.2 135.8h0M120.8 133.6h0M80.3 97.6h0M110.0 153.7h0M104.7 73.3h0M118.8 91.3h0M116.8 145.9h0M118.0 148.5h0M110.8 152.4h0M120.6 151.1h0M112.1 143.7h0M116.1 119.3h0M94.1 128.7h0M108.5 153.0h0M101.3 101.0h0M122.0 149.1h0M113.5 159.9h0M118.6 152.7h0M116.9 160.6h0M109.7 135.6h0M109.8 66.1h0M119.1 157.1h0M115.2 152.6h0M122.0 160.0h0M116.8 155.3h0M115.2 130.3h0M91.0 92.1h0M111.7 101.6h0M119.1 79.7h0M113.7 161.1h0M112.3 154.0h0M117.9 154.7h0M113.4 157.1h0M100.0 125.2h0M98.2 74.1h0M100.5 97.6h0M120.6 155.0h0M117.4 124.3h0M116.5 134.3h0M93.8 158.9h0M120.1 86.4h0M117.0 137.2h0M116.7 143.9h0M110.9 79.0h0M120.7 151.1h0M100.9 127.4h0M117.5 140.8h0M121.1 139.1h0M112.6 123.0h0M118.3 130.2h0M111.4 146.0h0M115.5 130.3h0M118.1 104.1h0M119.6 151.3h0M96.8 142.7h0M113.3 140.9h0M119.8 159.7h0M120.0 143.9h0M115.6 119.5h0M112.2 142.3h0M114.7 99.7h0M106.7 90.2h0M122.0 150.8h0M118.2 145.0h0M121.6 131.5h0M110.1 97.9h0M121.8 109.0h0M114.8 148.0h0M120.6 124.5h0M120.8 132.5h0M95.0 142.2h0M121.7 159.3h0M121.5 142.9h0M111.4 154.4h0M96.3 145.3h0M120.1 113.6h0M121.9 148.1h0M110.8 96.4h0M120.3 111.8h0M116.9 122.5h0M112.5 150.5h0M119.8 118.9h0M119.1 156.3h0M120.0 148.7h0M121.1 158.5h0M119.0 121.3h0M119.5 111.3h0M118.0 127.8h0M116.7 87.5h0M121.6 146.2h0M118.4 91.0h0M108.2 140.7h0M100.4 134.8h0M79.0 114.0h0M103.4 155.7h0M120.4 160.2h0M81.3 117.3h0M114.4 148.9h0M118.3 108.8h0M113.0 89.8h0M121.8 121.8h0M121.4 149.4h0M106.0 111.6h0M110.9 161.0h0M118.3 79.8h0M105.5 160.0h0M117.2 155.3h0M110.3 117.5h0M120.5 153.9h0M121.7 152.9h0M121.6 157.6h0M116.8 142.9h0M118.1 69.5h0M120.3 153.0h0M105.8 157.3h0M115.4 151.0h0M121.1 155.7h0M110.4 146.6h0M120.4 148.3h0M119.2 78.1h0M108.7 159.0h0M117.1 158.3h0M110.4 113.6h0M110.2 155.7h0M120.5 142.8h0M106.5 161.1h0M120.4 156.1h0M119.0 153.4h0M101.3 140.3h0M111.6 146.3h0M120.5 150.6h0M120.0 97.8h0M118.2 160.8h0M115.4 153.3h0M120.5 131.3h0M118.9 99.5h0M119.8 157.3h0M117.1 151.7h0M116.5 158.6h0M120.7 152.1h0M105.0 158.2h0M120.4 149.8h0M118.0 105.0h0M116.5 156.6h0M121.4 144.0h0M115.2 143.0h0M112.3 156.7h0M116.3 135.7h0M115.8 97.3h0M107.7 127.9h0M119.2 151.7h0M115.9 129.1h0M119.5 145.2h0M117.2 127.8h0M108.2 128.8h0M120.5 154.8h0M120.5 159.4h0M114.3 135.1h0M121.2 160.5h0M121.2 145.8h0M120.4 141.5h0M115.6 151.4h0M117.1 161.7h0M121.5 156.9h0M113.6 104.6h0M110.8 156.0h0M121.4 144.5h0M116.6 156.4h0M109.0 123.3h0M116.1 76.1h0M112.9 134.1h0M79.4 146.4h0M95.2 139.6h0M121.0 106.8h0M120.8 152.6h0M119.3 120.0h0M121.6 141.8h0M119.1 82.9h0M121.1 122.4h0M89.4 122.5h0M121.0 154.2h0M110.4 147.7h0M120.6 153.3h0M113.6 128.8h0M115.0 119.0h0M121.3 146.4h0M118.4 157.9h0M103.2 137.7h0M110.2 128.1h0M115.3 153.3h0M110.3 71.9h0M105.3 121.9h0M119.0 150.6h0M121.9 151.8h0M119.9 156.7h0M110.1 109.9h0M117.2 140.0h0M118.2 150.2h0M119.2 134.9h0M121.8 154.6h0M111.3 128.1h0M112.5 149.4h0M114.2 91.3h0M102.9 150.5h0M120.2 118.3h0M121.4 140.4h0M116.1 158.4h0M117.3 155.5h0M121.8 70.9h0M114.8 83.0h0M119.3 146.9h0M115.2 127.2h0M121.1 154.9h0M112.9 127.2h0M120.5 146.8h0M102.0 95.1h0M103.1 154.9h0M118.4 129.6h0M119.4 137.2h0M116.1 145.5h0M121.1 154.4h0M115.8 159.6h0M120.0 161.1h0M115.5 120.5h0M121.8 104.4h0M110.6 155.4h0M116.5 69.7h0M120.5 120.8h0M115.6 160.2h0M119.3 124.0h0M119.6 120.2h0M95.0 123.9h0M120.0 149.0h0M121.5 158.0h0M121.5 149.9h0M121.8 138.3h0M107.8 153.1h0M116.0 141.4h0M112.9 147.6h0M115.9 153.9h0M110.8 130.5h0M115.6 94.2h0M118.3 133.4h0M110.7 150.6h0M108.4 117.3h0M117.2 129.1h0M122.0 151.2h0M103.9 69.3h0M118.1 153.0h0M122.0 131.7h0M120.0 159.7h0M121.1 156.8h0M118.9 159.7h0M122.0 132.3h0M120.3 144.2h0M120.8 124.5h0M120.7 126.8h0M115.1 154.9h0M110.2 85.4h0M115.2 125.4h0M120.3 141.5h0M119.2 60.7h0M108.9 100.8h0M115.9 153.0h0M117.0 160.9h0M74.6 105.8h0M120.6 155.5h0M116.7 98.4h0M118.5 143.1h0M121.6 151.9h0M99.6 150.6h0M109.6 114.1h0M118.2 151.0h0M110.1 153.7h0M94.1 136.2h0M120.9 160.3h0M122.0 149.8h0M119.5 150.3h0M115.3 134.3h0M118.5 59.7h0M121.3 74.2h0M112.7 153.1h0M111.5 105.2h0M115.9 146.7h0M109.4 153.3h0M116.9 138.4h0M119.6 121.4h0M118.0 129.8h0M93.0 105.5h0M94.4 136.9h0M119.3 139.2h0M115.4 139.9h0M116.2 71.1h0M121.7 149.4h0M115.8 133.1h0M119.6 147.4h0M111.6 114.9h0M121.6 134.2h0M112.1 87.8h0M120.9 130.4h0M112.7 107.2h0M114.3 148.9h0M114.7 159.4h0M115.1 131.0h0M119.8 124.8h0M121.3 158.8h0M121.5 147.3h0M120.1 135.7h0M113.2 127.6h0M121.8 158.2h0M121.0 145.2h0M115.8 156.4h0M110.0 87.0h0M101.3 83.6h0M106.6 137.7h0M118.4 154.2h0M103.4 160.6h0M104.8 106.4h0M118.1 151.6h0M121.8 152.7h0M114.5 63.9h0M117.3 113.5h0M121.8 77.4h0M116.8 146.1h0M116.0 129.5h0M122.0 160.7h0M117.5 155.5h0M103.8 129.6h0M116.4 96.8h0M115.7 150.1h0M85.5 113.1h0M119.3 158.9h0M120.0 160.3h0M103.5 106.3h0M106.7 149.4h0M118.5 141.2h0M119.6 133.5h0M109.6 96.1h0M110.8 159.4h0M119.0 145.5h0M120.6 147.4h0M109.6 128.2h0M111.8 136.8h0M119.8 96.7h0M111.4 122.9h0M120.4 156.9h0M108.0 125.2h0M117.0 110.5h0M119.1 159.2h0M108.1 97.9h0M117.8 150.9h0M112.7 129.7h0M104.7 106.5h0M119.9 161.3h0M121.0 148.1h0M119.5 148.2h0M109.7 125.5h0M102.1 88.3h0M113.7 79.3h0M119.5 146.9h0M116.9 111.8h0M117.2 145.5h0M118.2 156.7h0M119.5 155.5h0M120.8 160.4h0M117.7 103.6h0M113.6 144.0h0M120.4 123.5h0M119.5 147.3h0M120.6 137.6h0M119.3 157.0h0M109.2 138.7h0M111.7 146.5h0M114.7 160.8h0M114.9 103.0h0M117.1 161.6h0M102.7 125.2h0M118.9 152.8h0M117.9 130.2h0M117.8 76.7h0M116.7 154.4h0M118.2 119.9h0M120.9 143.6h0M121.1 142.9h0M105.7 118.6h0M115.2 144.2h0M110.0 125.0h0M116.4 155.4h0M117.2 74.7h0M108.8 141.3h0M120.2 139.0h0M112.5 127.7h0M121.7 134.4h0M104.2 75.8h0M117.4 134.6h0M95.0 137.9h0M117.3 90.0h0M99.6 107.0h0M95.5 110.8h0M112.3 153.8h0M119.7 152.7h0M119.3 124.1h0M119.2 134.6h0M120.6 102.4h0M102.8 147.4h0M120.1 123.1h0M121.2 137.8h0M120.2 131.7h0M78.0 144.3h0M122.0 71.6h0M118.1 136.3h0M107.5 112.6h0M120.2 130.0h0M120.8 117.7h0M115.3 154.2h0M118.5 135.2h0M91.7 126.6h0M120.8 134.5h0M94.7 148.5h0M114.5 152.0h0M121.7 155.1h0M120.7 136.4h0M118.1 149.4h0M97.2 88.5h0M118.6 114.5h0M116.7 151.8h0M107.4 132.8h0M120.7 153.5h0" stroke="#F8575A" stroke-width="2.2" stroke-linecap="round" fill="none"/><path d="M144.6 67.8h0M141.8 131.5h0M152.4 157.1h0M168.1 85.1h0M143.1 126.3h0M141.3 124.7h0M145.3 97.1h0M189.1 57.9h0M167.8 111.3h0M175.7 152.7h0M143.8 134.4h0M143.2 73.4h0M161.5 151.1h0M149.9 67.4h0M152.9 144.4h0M181.2 100.9h0M144.7 148.0h0M156.0 117.5h0M151.2 152.2h0M141.1 139.3h0M157.2 97.8h0M153.5 76.8h0M140.8 136.7h0M168.2 138.5h0M152.3 149.1h0M145.1 149.4h0M166.5 121.1h0M171.2 126.9h0M154.3 139.0h0M171.3 157.3h0M146.2 93.4h0M148.7 92.3h0M141.1 143.0h0M176.5 149.8h0M145.1 69.4h0M179.8 150.8h0M141.6 122.4h0M143.7 126.9h0M160.3 105.5h0M152.1 107.0h0M144.2 140.8h0M158.8 130.8h0M145.2 121.7h0M142.3 135.1h0M141.7 73.4h0M152.3 160.1h0M141.0 139.1h0M145.7 153.8h0M158.4 131.3h0M143.5 115.5h0M148.9 86.7h0M143.4 157.7h0M141.9 117.6h0M177.3 123.5h0M146.4 148.8h0M187.4 82.3h0M156.8 137.0h0M155.6 86.6h0M156.5 143.9h0M152.5 142.4h0M143.6 153.4h0M146.0 77.1h0M142.0 116.5h0M156.8 84.6h0M150.0 121.6h0M141.7 135.8h0M166.4 137.2h0M149.7 154.6h0M146.5 100.5h0M157.8 103.3h0M143.7 66.9h0M148.0 60.4h0M145.0 107.9h0M154.0 113.7h0M142.7 122.3h0M144.4 65.5h0M152.2 77.7h0M151.4 110.4h0M172.9 151.1h0M143.4 88.7h0M148.5 88.0h0M141.1 85.0h0M163.3 123.1h0M141.4 121.9h0M151.2 102.1h0M153.3 88.8h0M142.8 115.7h0M156.0 153.2h0M155.6 85.9h0M165.3 105.6h0M143.8 130.2h0M157.7 65.2h0M143.2 155.0h0M172.8 157.2h0M149.6 149.7h0M145.6 99.5h0M154.9 79.4h0M146.4 130.3h0M179.3 144.3h0M141.3 139.9h0M150.0 76.0h0M163.0 119.7h0M155.5 90.2h0M160.3 147.8h0M151.6 139.4h0M157.4 154.5h0M143.3 160.7h0M151.1 133.1h0M145.2 153.2h0M148.7 155.3h0M170.3 151.7h0M164.9 98.1h0M153.8 155.0h0M178.1 106.1h0M153.8 75.1h0M142.2 77.3h0M157.8 79.7h0M142.9 160.0h0M143.7 141.8h0M156.5 64.1h0M153.8 87.5h0M141.5 81.4h0M150.8 135.5h0M144.5 110.7h0M143.1 97.1h0M144.4 155.4h0M143.9 119.5h0M169.5 128.3h0M168.1 146.4h0M157.1 143.0h0M184.6 80.6h0M162.4 71.3h0M141.0 90.5h0M141.6 161.4h0M150.4 79.1h0M182.1 134.0h0M167.1 149.5h0M147.2 141.8h0M143.2 125.0h0M147.0 68.6h0M141.7 102.2h0M161.4 101.6h0M146.1 105.6h0M184.0 75.3h0M155.0 151.5h0M155.5 155.8h0M153.7 139.8h0M152.0 69.2h0M141.3 75.2h0M143.1 67.7h0M141.4 117.5h0M146.4 91.4h0M177.9 92.3h0M146.3 137.6h0M151.8 74.1h0M148.5 107.4h0M149.1 154.4h0M142.9 139.5h0M141.4 126.4h0M143.8 150.2h0M169.3 71.6h0M160.0 89.4h0M148.5 104.1h0M169.4 80.6h0M144.4 140.0h0M146.2 140.1h0M147.6 68.3h0M178.5 104.1h0M188.1 67.5h0M148.8 74.6h0M148.1 79.8h0M142.2 141.0h0M148.5 90.3h0M142.6 70.3h0M144.9 161.5h0M144.2 107.9h0M148.5 126.4h0M140.6 155.0h0M161.6 107.4h0M141.4 138.1h0M178.4 140.5h0M140.6 133.9h0M153.0 145.8h0M155.7 101.4h0M149.1 110.3h0M146.9 138.8h0M146.8 157.2h0M173.0 61.1h0M144.8 127.7h0M141.4 128.7h0M191.4 61.9h0M149.4 135.0h0M149.8 65.7h0M144.6 71.7h0M150.9 147.9h0M146.3 156.2h0M141.4 75.4h0M140.6 112.9h0M149.7 161.7h0M152.4 145.5h0M152.5 74.3h0M150.9 100.7h0M146.4 87.1h0M145.5 154.0h0M161.2 112.9h0M156.9 86.4h0M170.5 87.8h0M143.8 70.6h0M143.3 130.2h0M150.8 86.1h0M148.4 124.2h0M145.9 98.1h0M147.9 151.5h0M149.2 83.6h0M145.8 101.7h0M169.1 155.9h0M152.0 79.8h0M164.3 92.9h0M152.5 131.4h0M171.0 126.4h0M150.5 117.0h0M142.7 101.2h0M153.6 147.6h0M156.3 74.7h0M149.6 79.2h0M153.3 132.8h0M149.1 104.6h0M156.2 112.0h0M143.4 84.7h0M152.1 123.0h0M162.2 142.2h0M183.4 79.8h0M142.1 153.9h0M157.1 103.5h0M147.6 113.8h0M145.3 136.1h0M142.0 109.7h0M149.4 158.4h0M143.8 83.7h0M158.7 135.7h0M144.4 124.1h0M141.1 148.8h0M167.6 135.1h0M152.8 73.9h0M146.5 90.7h0M165.7 102.7h0M152.6 87.5h0M175.6 151.7h0M161.5 66.2h0M152.1 102.8h0M160.3 148.9h0M151.6 79.7h0M174.7 80.0h0M163.6 103.1h0M142.4 145.7h0M179.0 137.7h0M153.5 117.7h0M145.9 128.6h0M181.8 89.1h0M182.4 137.1h0M150.6 130.9h0M158.6 112.2h0M159.9 123.7h0M160.9 126.0h0M151.8 116.1h0M141.8 105.8h0M145.0 86.0h0M181.9 126.9h0M149.3 120.2h0M143.8 141.4h0M157.9 98.6h0M147.1 131.1h0M140.7 157.5h0M170.2 111.9h0M156.6 148.6h0M154.7 123.8h0M176.9 113.5h0M141.2 76.8h0M153.2 133.8h0M175.7 100.9h0M141.8 133.2h0M147.1 90.2h0M174.1 146.0h0M151.8 87.1h0M148.6 66.6h0M156.4 100.2h0M142.5 78.9h0M147.7 151.8h0M145.5 131.2h0M150.5 158.0h0M141.7 124.9h0M164.2 132.4h0M154.8 90.6h0M140.5 131.0h0M145.7 126.1h0M141.0 68.8h0M171.3 157.9h0M152.4 108.5h0M149.6 94.4h0M140.9 126.3h0M143.0 121.2h0M145.0 138.8h0M142.3 127.1h0M152.3 126.9h0M144.2 107.9h0M169.8 88.0h0M152.4 122.8h0M165.6 117.4h0M151.1 110.1h0M143.1 67.5h0M141.7 114.7h0M142.1 153.5h0M143.0 132.6h0M154.1 154.7h0M165.8 145.1h0M178.5 85.5h0M142.5 80.4h0M171.7 100.3h0M156.8 106.1h0M140.5 155.5h0M146.0 137.0h0M154.4 73.5h0M166.4 143.0h0M152.5 147.1h0M187.0 126.5h0M144.0 106.7h0M152.0 122.9h0M142.5 115.3h0M168.1 117.8h0M147.4 71.1h0M153.9 82.3h0M141.0 141.1h0M156.1 149.6h0M143.7 145.2h0M142.4 160.4h0M146.0 148.3h0M148.7 72.7h0M140.9 137.2h0M147.1 98.4h0M143.1 149.4h0M148.6 51.6h0M142.4 81.2h0M145.4 102.9h0M156.2 142.0h0M147.9 155.3h0M147.5 142.7h0M151.4 92.9h0M143.1 142.2h0M151.7 106.0h0M151.7 129.4h0M143.3 136.3h0M148.3 110.2h0M142.7 117.2h0M167.7 137.5h0M145.0 147.0h0M142.2 138.4h0M158.2 84.8h0M151.4 144.1h0M154.0 147.1h0M149.8 76.6h0M143.8 98.9h0M156.6 152.4h0M184.1 145.8h0M151.8 130.0h0M142.0 76.7h0M143.4 158.8h0M144.8 126.1h0M145.3 102.0h0M162.2 152.3h0M144.1 151.4h0M146.8 95.0h0M160.0 79.6h0M185.1 106.0h0M145.5 80.4h0M153.3 152.7h0M140.7 155.6h0M158.4 112.2h0M166.8 94.5h0M155.9 145.4h0M158.7 106.9h0M155.0 154.0h0M166.8 112.3h0M146.4 129.6h0M159.9 95.0h0M140.8 113.3h0M156.5 94.2h0M175.7 123.7h0M145.4 145.8h0M151.3 97.4h0M150.9 131.6h0M141.1 93.4h0M146.4 119.0h0M141.3 123.3h0M155.9 85.0h0M149.5 146.3h0M146.0 117.8h0M182.6 134.3h0M150.5 117.1h0M141.9 87.7h0M167.6 90.8h0M140.7 76.2h0M159.6 66.5h0M140.7 71.3h0M149.3 136.4h0M152.2 88.6h0M150.9 77.3h0M141.5 117.3h0M146.4 138.3h0M166.9 96.4h0M148.9 70.5h0M155.9 125.6h0M169.5 136.2h0M145.8 89.8h0M140.4 81.5h0M141.7 100.5h0M146.7 125.3h0M150.8 89.4h0M174.1 147.0h0M144.5 69.7h0M141.6 153.5h0M142.0 118.9h0M144.2 96.0h0M147.8 96.9h0M150.2 135.9h0M165.0 112.2h0M150.6 156.8h0M145.0 113.0h0M145.7 101.3h0M148.2 150.1h0M146.1 86.9h0M141.7 141.3h0M144.5 155.4h0M145.7 101.7h0M157.4 116.3h0M141.0 82.8h0M147.2 119.8h0M150.0 96.0h0M148.1 154.6h0M147.2 146.2h0M167.4 83.1h0M188.3 98.0h0M142.5 71.0h0M164.2 152.8h0M156.1 149.8h0M153.5 159.4h0M157.3 136.1h0M171.8 84.0h0M148.7 123.0h0M153.0 137.4h0M172.9 74.2h0M145.4 127.5h0M155.2 99.8h0M140.7 153.8h0M149.7 137.1h0M165.5 116.2h0M166.0 62.3h0M159.8 88.6h0M159.8 140.0h0M141.5 113.7h0M185.8 92.9h0M153.5 134.0h0M152.8 110.2h0M144.3 141.3h0M166.8 62.7h0M145.7 121.1h0M157.8 82.7h0M152.1 122.2h0M182.1 60.0h0M141.1 122.8h0M147.5 95.7h0M146.6 144.1h0M141.3 148.1h0M140.8 85.9h0M150.2 130.9h0M144.6 128.7h0M140.4 154.7h0M141.3 148.0h0M160.3 140.4h0M154.4 90.8h0M179.3 89.2h0M151.0 79.3h0M147.7 107.9h0M144.6 90.2h0M179.0 88.4h0M142.6 65.4h0M170.5 122.2h0M154.8 117.1h0M140.5 84.0h0M143.4 148.4h0M170.0 98.6h0M152.5 139.8h0M142.7 117.1h0M144.3 129.6h0M142.8 160.1h0M145.2 136.6h0M157.0 98.0h0M150.1 154.5h0M142.3 137.2h0M146.7 109.2h0M151.8 148.0h0M143.6 140.5h0M142.5 137.2h0M140.8 131.6h0M155.7 132.3h0M146.9 153.5h0M151.7 86.0h0M180.6 87.3h0M159.7 118.7h0M142.6 150.9h0M151.4 132.2h0M150.5 146.5h0M149.1 71.3h0M148.2 158.7h0M144.0 157.9h0M148.7 110.9h0M157.5 144.1h0M151.4 74.5h0M159.8 128.7h0M147.0 97.7h0M182.0 59.2h0M140.8 88.4h0M145.1 90.0h0M141.1 132.5h0M147.8 75.6h0M144.0 80.4h0M156.2 154.9h0M147.3 109.9h0M142.5 118.1h0M148.6 138.7h0M185.6 56.4h0M176.5 130.3h0M143.5 161.1h0M151.2 142.6h0M147.9 86.9h0M184.7 80.5h0M163.3 122.1h0M145.8 159.5h0M166.3 159.0h0M158.7 144.7h0M176.7 82.3h0M153.9 128.4h0M146.9 119.3h0M143.0 148.5h0M140.8 153.1h0M143.0 147.0h0M142.4 113.0h0M160.5 154.3h0M152.8 114.1h0M166.9 116.5h0M150.9 112.2h0M146.4 137.8h0M158.0 122.9h0M153.7 112.1h0M144.0 100.1h0M143.6 133.9h0M142.7 132.4h0M169.0 104.7h0M160.1 72.7h0M143.9 135.7h0M160.7 63.9h0M146.2 77.6h0M143.4 152.6h0M155.2 81.9h0M177.1 60.0h0M161.3 105.1h0M140.4 69.1h0M141.0 108.5h0M148.7 109.0h0M140.6 136.5h0M155.1 90.6h0M153.5 113.1h0M142.1 136.2h0M141.2 75.1h0M148.4 88.5h0M144.0 136.6h0M156.9 98.7h0M158.0 133.3h0M142.3 138.4h0M144.5 87.5h0M155.0 147.3h0M157.6 63.0h0M142.7 148.5h0M140.7 143.1h0M140.7 131.0h0M144.6 151.1h0M145.6 70.4h0M141.8 123.9h0M150.2 141.3h0M150.7 112.8h0M170.9 100.1h0M167.1 114.7h0M140.6 82.9h0M142.2 151.9h0M147.2 81.9h0M147.9 158.4h0M156.7 138.8h0M142.3 139.4h0M160.0 154.5h0M157.7 130.5h0M145.9 119.3h0M140.5 75.5h0M148.3 114.0h0M145.3 115.7h0M143.7 98.0h0M153.7 89.1h0M143.2 70.0h0M188.3 104.2h0M146.6 137.6h0M144.9 119.2h0M141.7 134.6h0M153.8 70.3h0M143.0 122.5h0M176.2 130.2h0M145.7 121.4h0M186.7 56.4h0M170.5 68.6h0M153.4 83.5h0M146.5 158.5h0M142.8 68.3h0M150.6 156.0h0M141.9 108.5h0M143.8 121.8h0M152.8 100.7h0M149.2 129.8h0M160.8 98.7h0M154.9 85.7h0M140.7 108.4h0M156.1 141.8h0M148.7 141.9h0M158.4 157.1h0M150.8 125.7h0M141.3 95.3h0M152.0 120.2h0M179.0 146.0h0M147.4 158.2h0M150.3 133.1h0M143.6 128.6h0M155.7 76.1h0M145.8 126.4h0M141.2 96.9h0M142.2 71.3h0M146.2 98.8h0M157.3 156.3h0M148.0 110.3h0M185.9 114.0h0M157.3 126.0h0M156.3 49.8h0M154.6 78.3h0M142.8 159.8h0M144.8 122.2h0M157.4 107.2h0M140.6 131.5h0M155.6 106.8h0M145.4 140.9h0M156.1 120.8h0M146.0 53.0h0M140.8 104.9h0M155.8 77.2h0M150.6 111.6h0M168.9 86.1h0M162.0 140.9h0M142.1 157.6h0M144.5 89.9h0M140.5 150.0h0M144.6 132.3h0M148.4 136.1h0M143.5 142.4h0M183.6 89.1h0M143.7 160.4h0M147.9 83.7h0M153.0 147.6h0M142.5 136.7h0M147.8 154.5h0M148.8 117.4h0M164.9 156.0h0M163.6 63.4h0M143.3 76.7h0M141.6 107.1h0M145.7 125.2h0M157.1 87.0h0M144.8 74.9h0M147.1 146.1h0M155.8 135.1h0M141.7 160.6h0M159.5 127.2h0M156.2 152.8h0M153.6 131.6h0M144.3 80.0h0M164.0 140.8h0M156.0 91.7h0M143.0 149.7h0M145.9 153.5h0M150.2 87.0h0M150.7 142.2h0M166.6 116.1h0M146.8 117.8h0M142.8 139.3h0M164.9 94.3h0M155.8 71.2h0M150.9 153.6h0M162.5 87.6h0M160.6 153.0h0M144.9 148.4h0M151.2 119.0h0M141.8 78.3h0M140.6 139.8h0M151.2 72.9h0M152.5 108.1h0M147.0 156.7h0M148.0 64.5h0M142.8 115.2h0M141.3 125.4h0M140.6 131.5h0M177.2 113.9h0M144.0 115.8h0M146.5 138.4h0M168.8 79.6h0M146.7 133.4h0M145.1 145.0h0M146.9 78.0h0M162.9 143.1h0M152.1 87.8h0M145.8 81.9h0M148.4 66.4h0M149.1 161.4h0M144.6 152.7h0M143.9 136.3h0M170.5 89.9h0M170.5 143.5h0M153.7 144.7h0M143.7 93.7h0M183.8 74.6h0M149.6 126.1h0M162.1 129.0h0M145.2 93.0h0M183.7 99.7h0M148.1 95.3h0M143.5 145.1h0M147.4 149.1h0M171.8 110.1h0M146.1 115.1h0M142.4 135.0h0M143.4 135.9h0M152.4 137.5h0M159.6 151.6h0M154.5 77.9h0M143.5 116.8h0M153.6 133.6h0M142.3 148.5h0M147.8 119.1h0M157.6 111.4h0M155.9 156.9h0M144.6 81.6h0M150.1 160.3h0M150.3 150.5h0M142.9 103.6h0M143.9 69.3h0M140.7 142.9h0M145.4 89.4h0M145.5 67.8h0M150.3 108.5h0M155.0 106.9h0M141.8 72.3h0M145.9 128.5h0M161.4 102.8h0M140.7 119.2h0M164.1 115.3h0M184.2 69.8h0M144.3 142.9h0M146.9 69.2h0M153.6 115.1h0M142.8 89.1h0M172.8 90.0h0M169.8 113.6h0M144.0 78.7h0M142.7 71.6h0M151.7 86.9h0M147.8 139.5h0M144.4 156.0h0M140.4 118.7h0M166.4 152.9h0M168.5 136.2h0M144.2 65.5h0M141.0 105.1h0M146.3 156.0h0M146.9 71.1h0M145.8 113.6h0M158.1 74.8h0M143.0 71.5h0M177.8 61.7h0M143.3 151.7h0M150.3 131.5h0M158.3 108.0h0M143.8 79.8h0M191.3 101.0h0M151.7 112.9h0M153.8 150.1h0M163.8 105.0h0M173.2 156.5h0M144.4 147.2h0M151.9 117.5h0M150.0 149.5h0M156.0 90.1h0M145.5 121.7h0M149.5 116.9h0M156.1 71.8h0M140.9 135.1h0M145.1 137.1h0M142.8 89.6h0M154.7 112.9h0M147.7 111.0h0M151.3 77.8h0M143.8 140.1h0M143.2 129.5h0M160.7 128.1h0M142.8 86.1h0M157.0 153.3h0M146.6 141.4h0M141.5 95.8h0M148.4 124.2h0M145.1 143.4h0M144.1 129.2h0M145.2 137.3h0M158.3 98.4h0M147.9 111.2h0M141.5 145.4h0M143.7 109.3h0M141.9 131.0h0M158.8 114.5h0M176.3 120.2h0M141.7 131.4h0M178.3 104.8h0M175.2 128.8h0M145.3 144.2h0M144.2 134.9h0M145.7 140.6h0M145.3 126.2h0M151.1 110.6h0M148.1 119.2h0M141.5 71.1h0M160.6 132.8h0M158.5 157.2h0M146.6 114.7h0M157.4 79.0h0M149.3 138.9h0M160.8 152.8h0M165.4 144.7h0M150.7 124.5h0M166.7 125.1h0M147.6 73.2h0M141.6 144.6h0M168.0 128.2h0M165.0 150.8h0M142.5 124.2h0M183.2 83.2h0M142.5 79.0h0M146.9 117.7h0M149.4 92.5h0M142.1 148.3h0M149.7 151.7h0M161.1 149.1h0M154.6 98.3h0M142.6 92.1h0M159.0 108.4h0M142.4 116.8h0M151.9 161.1h0M147.3 129.3h0M149.3 86.8h0M189.3 87.8h0M143.9 95.6h0M149.3 154.5h0M175.4 109.5h0M142.5 129.7h0M146.0 80.1h0M144.4 160.7h0M143.2 103.5h0M140.9 139.9h0M172.8 100.0h0M165.8 111.6h0M151.8 65.3h0M161.5 116.1h0M151.2 160.9h0M153.4 140.5h0M151.9 141.7h0M164.3 122.6h0M152.1 143.0h0M141.9 70.5h0M141.9 105.9h0M161.6 139.0h0M144.6 153.9h0M161.9 94.7h0M151.2 73.0h0M162.2 116.4h0M141.1 105.1h0M171.2 77.9h0M167.3 96.9h0M167.8 137.1h0M143.3 146.5h0M165.6 133.0h0M141.2 146.6h0M147.8 152.8h0M142.0 142.2h0M144.7 146.5h0M141.0 93.1h0M148.1 134.9h0M148.5 120.8h0M174.7 117.8h0M161.8 63.8h0M150.6 125.0h0M158.9 139.3h0M147.3 114.0h0M151.7 94.6h0M189.7 75.2h0M157.2 160.4h0M146.6 128.6h0M148.1 120.4h0M140.7 126.5h0M146.4 161.6h0M153.3 120.9h0M174.1 116.7h0M153.3 131.0h0M145.1 91.7h0M147.6 90.9h0M147.4 83.9h0M149.6 122.1h0M142.5 157.1h0M148.4 149.4h0M141.4 133.2h0M178.7 69.7h0M174.2 106.2h0M144.6 133.4h0M152.5 110.1h0M145.1 141.9h0M145.2 96.4h0M146.6 111.6h0M148.9 145.6h0M179.2 142.5h0M172.9 60.1h0M142.2 102.7h0M145.8 109.7h0M141.6 111.7h0M159.0 84.1h0M143.3 104.8h0M143.7 145.9h0M141.2 80.9h0M160.7 154.1h0M160.1 90.6h0M146.6 140.1h0M142.2 124.9h0M148.7 119.1h0M144.4 119.0h0M148.8 73.7h0M146.7 85.8h0M143.4 133.5h0M152.9 154.9h0M146.4 141.1h0M155.7 71.3h0M143.8 120.1h0M166.5 62.5h0M161.4 143.9h0M143.7 157.3h0M143.2 66.2h0M158.4 87.8h0M141.0 84.0h0M168.7 84.0h0M143.5 76.9h0M150.2 140.9h0M151.8 99.2h0M166.2 92.1h0M142.1 128.4h0M171.6 102.8h0M144.1 136.4h0M152.9 149.8h0M151.1 142.8h0M141.3 71.2h0M150.2 134.8h0M142.4 86.0h0M143.4 68.9h0M190.8 113.3h0M175.3 46.5h0M140.8 156.2h0M148.9 142.0h0M153.1 130.6h0M142.4 68.6h0M148.9 143.5h0M142.6 88.4h0M143.0 70.2h0M147.4 97.5h0M153.4 137.0h0M147.0 66.6h0M141.6 69.7h0M145.2 82.9h0M162.6 152.8h0M141.1 142.9h0M179.2 59.8h0M145.5 85.4h0M140.7 117.8h0M141.6 134.8h0M140.7 100.4h0M149.8 81.6h0M150.4 62.3h0M146.9 86.3h0M143.7 140.5h0M148.6 86.1h0M147.4 103.9h0M149.9 134.8h0M141.0 115.1h0M163.8 134.0h0M145.3 69.1h0M147.6 90.2h0M147.5 110.8h0M148.3 91.7h0M141.0 125.5h0M179.5 136.2h0M153.9 67.2h0M147.0 142.2h0M145.1 141.3h0M176.9 118.3h0M140.8 73.2h0M145.3 57.6h0M147.9 135.6h0M146.0 150.8h0M172.0 106.3h0M142.2 68.2h0M146.9 143.4h0M178.2 144.0h0M143.9 118.3h0M146.3 68.5h0M146.9 95.8h0M151.9 67.0h0M141.4 105.6h0M147.3 72.3h0M143.0 136.9h0M145.1 83.4h0M146.2 55.2h0M152.8 101.4h0M155.8 127.0h0M146.5 75.2h0M155.6 156.5h0M141.6 152.5h0M154.7 113.8h0M143.5 116.7h0M142.3 143.7h0M143.3 146.4h0M141.8 112.8h0M162.8 139.1h0M144.6 87.6h0M142.7 113.6h0M156.0 125.5h0M140.9 94.6h0M140.5 145.2h0M140.6 160.1h0M173.4 68.1h0M145.5 141.4h0M148.5 112.8h0M156.2 106.0h0M141.7 124.3h0M153.9 71.8h0M153.4 116.4h0M144.1 96.8h0M142.4 100.6h0M172.1 103.1h0M141.7 96.6h0M182.8 104.1h0M146.0 73.3h0M152.2 93.0h0M141.5 110.9h0M144.8 125.8h0M142.1 132.0h0M162.5 83.8h0M140.7 138.4h0M183.7 66.4h0M153.2 59.4h0M154.7 98.6h0M151.6 82.5h0M146.8 88.4h0M148.0 105.7h0M144.6 142.6h0M144.3 136.7h0M159.2 140.9h0M162.0 132.4h0M155.0 71.5h0M142.5 121.4h0M148.9 142.2h0M164.2 126.8h0M145.3 110.4h0M173.3 150.4h0M141.5 125.8h0M142.2 76.2h0M150.8 97.4h0M144.5 86.5h0M156.6 147.8h0M141.0 141.6h0M143.8 157.0h0M141.2 102.7h0M150.0 103.9h0M149.3 111.7h0M156.5 129.6h0M161.2 112.9h0M142.7 128.2h0M179.8 138.6h0M153.9 147.2h0M150.8 83.6h0M144.1 150.8h0M150.9 131.9h0M183.5 112.6h0M162.2 114.9h0M147.4 99.7h0M181.1 136.0h0M145.6 124.8h0M165.9 50.8h0M145.0 113.7h0M144.5 106.5h0M165.7 107.3h0M142.2 106.3h0M170.0 81.6h0M154.0 94.6h0M141.3 123.3h0M157.2 161.4h0M157.4 91.1h0M167.3 145.0h0M142.9 117.2h0M153.4 103.6h0M141.9 107.9h0M164.6 157.9h0M173.8 128.8h0M146.2 144.4h0M184.4 48.7h0M180.5 107.4h0M154.9 144.6h0M158.4 98.8h0M150.2 153.5h0M141.2 111.0h0M163.4 119.5h0M148.9 52.8h0M163.3 77.3h0M142.8 158.9h0M154.4 152.2h0M143.1 147.2h0M147.4 71.6h0M145.5 116.9h0M152.2 161.0h0M143.3 70.0h0M151.0 60.3h0M152.8 99.0h0M155.8 85.2h0M172.4 122.0h0M156.1 157.2h0M150.3 68.4h0M144.7 152.5h0M152.6 147.2h0M173.7 115.9h0M147.4 140.8h0M142.2 153.2h0M190.0 121.3h0M151.2 108.3h0M147.7 146.5h0M141.2 113.3h0M158.3 152.3h0M141.7 69.2h0M143.4 143.4h0M146.7 161.0h0M170.8 134.1h0M140.4 111.5h0M140.9 95.3h0M184.5 92.0h0M143.5 161.0h0M148.4 124.0h0M148.4 137.0h0M146.2 133.0h0M163.7 128.9h0M145.2 78.6h0M151.7 135.9h0M153.5 138.6h0M161.6 80.2h0M150.7 161.5h0M145.3 97.1h0M145.4 85.4h0M145.6 149.6h0M159.3 103.1h0M144.3 90.8h0M178.8 106.4h0M160.0 65.3h0M154.4 152.2h0M143.6 86.8h0M177.1 88.7h0M146.5 155.0h0M158.3 120.6h0M143.2 136.2h0M147.0 94.7h0M155.7 89.4h0M141.9 101.9h0M162.7 110.3h0M143.6 131.3h0M153.1 136.9h0M164.6 62.8h0M143.5 67.6h0M152.3 77.0h0M153.2 150.9h0M149.9 86.4h0M156.7 69.7h0M141.6 125.2h0M148.5 105.5h0M172.0 61.7h0M140.6 115.9h0M145.2 86.6h0M154.5 113.5h0M152.7 78.8h0M145.0 102.2h0M153.6 152.8h0M164.2 110.9h0M176.5 133.4h0M153.5 109.8h0M142.1 129.3h0M141.5 76.8h0M146.6 72.1h0M167.3 120.5h0M146.7 134.4h0M145.4 110.0h0M147.4 129.3h0M144.6 105.1h0M140.8 143.5h0M144.8 161.4h0M184.5 61.7h0M166.5 77.0h0M141.3 88.0h0M142.8 56.4h0M177.2 154.4h0M148.1 156.3h0M152.1 76.4h0M144.3 148.5h0M143.4 100.2h0M142.7 104.3h0M140.9 115.8h0M157.8 96.7h0M180.2 115.1h0M162.4 133.4h0M166.6 70.0h0M145.4 87.9h0M157.4 154.1h0M143.2 84.3h0M149.7 106.6h0M150.7 121.2h0M160.0 114.1h0M150.2 160.7h0M144.3 87.0h0M151.1 103.2h0M146.7 127.6h0M173.3 126.9h0M163.9 63.0h0M186.4 105.2h0M144.3 137.8h0M150.7 68.2h0M143.2 151.1h0M173.7 116.4h0M178.5 150.7h0M141.3 140.7h0M178.0 137.1h0M142.0 153.2h0M147.3 140.8h0M168.6 135.0h0M154.3 143.1h0M167.9 96.9h0M155.6 81.7h0M149.4 115.4h0M142.4 134.2h0M140.8 111.1h0M141.0 95.1h0M143.0 154.8h0M141.5 141.8h0M149.8 112.9h0M145.2 133.4h0M150.0 99.7h0M163.3 117.9h0M140.7 69.2h0M147.8 89.7h0M148.5 156.1h0M169.9 123.8h0M141.9 148.5h0M161.1 81.6h0M188.4 56.1h0M154.4 124.7h0M145.3 108.1h0M158.7 144.1h0M180.0 85.3h0M146.3 79.4h0M151.5 127.7h0M142.5 91.8h0M141.8 111.9h0M150.2 138.0h0M146.2 77.4h0M140.4 161.7h0M141.2 124.8h0M149.1 157.0h0M168.6 125.2h0M145.0 108.6h0M150.3 97.3h0M147.4 148.5h0M147.6 77.0h0M171.7 157.1h0M152.0 83.0h0M169.2 80.4h0M145.5 155.5h0M167.4 148.2h0M166.2 153.3h0M160.8 104.3h0M151.1 121.8h0M155.3 157.7h0M160.3 70.1h0M157.4 161.4h0M151.4 143.9h0M167.7 96.7h0M150.3 70.9h0M152.2 148.6h0M155.6 86.1h0M148.3 112.7h0M156.0 82.9h0M172.5 153.7h0M173.3 150.7h0M142.9 148.1h0M179.6 123.0h0M153.1 99.2h0M168.0 128.3h0M152.6 136.2h0M157.4 123.1h0M183.3 85.1h0M167.7 104.5h0M143.4 103.4h0M141.4 78.9h0M142.5 158.7h0M146.0 95.5h0M152.9 123.9h0M145.0 135.4h0M148.2 96.6h0M160.5 75.8h0M145.9 70.2h0M140.5 152.7h0M172.6 125.1h0M164.6 142.6h0M153.0 90.2h0M143.3 73.6h0M141.9 122.9h0M141.6 161.7h0M141.9 104.5h0M148.7 121.4h0M152.7 143.7h0M141.2 125.9h0M151.8 134.2h0M142.8 83.2h0M143.7 156.1h0M142.1 151.6h0M144.2 149.0h0M141.6 106.7h0M145.5 101.1h0M147.8 147.4h0M150.2 136.2h0M145.9 103.1h0M150.6 84.3h0M152.9 97.2h0M148.7 67.7h0M160.6 153.2h0M190.2 117.2h0M147.5 125.1h0M143.0 145.6h0M148.7 91.6h0M140.9 55.2h0M147.5 128.4h0M156.0 106.6h0M161.5 136.7h0M158.8 143.6h0M143.4 124.7h0M147.1 84.4h0M183.9 88.8h0M146.5 95.5h0M144.9 91.9h0M143.5 79.1h0M173.0 58.0h0M147.5 61.3h0M141.5 130.2h0M142.5 124.8h0M149.8 120.7h0M162.4 154.9h0M150.8 149.9h0M191.5 84.3h0M140.9 154.7h0M142.2 77.5h0M151.7 142.8h0M140.9 90.0h0M150.8 103.7h0M166.6 72.4h0M141.3 81.5h0M141.8 111.7h0M167.0 142.5h0M143.6 117.4h0M144.3 131.1h0M157.5 98.1h0M140.6 104.6h0M142.2 110.5h0M143.1 106.6h0M152.5 99.9h0M141.7 110.3h0M153.3 155.8h0M143.7 149.0h0M157.4 95.1h0M147.6 147.1h0M144.9 88.0h0M143.1 95.0h0M145.1 151.5h0M151.5 123.2h0M147.5 99.4h0M141.2 129.0h0M142.2 118.0h0M162.2 130.7h0M146.3 147.2h0M141.6 128.3h0M151.7 99.8h0M145.6 122.4h0M168.3 109.1h0M142.8 93.4h0M166.2 161.0h0M144.2 129.2h0M151.9 116.7h0M142.0 90.1h0M149.1 70.2h0M149.3 145.8h0M152.2 77.4h0M141.1 141.0h0M181.1 91.8h0M151.3 135.3h0M142.1 126.3h0M163.8 54.3h0M168.4 145.0h0M141.6 94.0h0M181.2 76.7h0M168.6 114.3h0M163.9 89.2h0M152.5 151.5h0M169.2 150.8h0M171.1 99.6h0M148.0 157.7h0M147.9 88.0h0M155.2 143.1h0M155.5 136.9h0M151.1 123.3h0M145.4 145.5h0M144.1 112.7h0M152.6 84.5h0M160.4 118.8h0M147.8 89.8h0M140.7 91.9h0M155.5 96.6h0M141.7 94.7h0M149.7 65.4h0M143.9 126.9h0M188.1 106.6h0M153.3 103.5h0M174.3 112.3h0M151.3 148.6h0M144.5 82.4h0M167.3 91.8h0M147.2 129.6h0M147.9 61.4h0M141.8 110.9h0M169.9 157.8h0M154.8 99.4h0M157.7 91.3h0M154.2 68.5h0M160.0 149.8h0M142.1 137.5h0M157.3 100.8h0M150.2 121.1h0M161.2 157.3h0M161.7 149.8h0M152.4 130.2h0M181.3 144.5h0M157.1 88.8h0M158.0 159.2h0M168.2 85.6h0M156.5 154.2h0M143.4 138.4h0M143.1 148.1h0M145.0 107.7h0M146.2 130.8h0M158.6 132.0h0M147.4 55.0h0M148.9 121.5h0M153.4 68.1h0M164.9 120.5h0M144.2 158.3h0M141.1 71.9h0M168.7 113.2h0M150.0 153.2h0M144.2 112.9h0M154.9 75.2h0M144.3 134.0h0M143.4 104.4h0M143.5 153.6h0M143.5 68.0h0M142.0 73.6h0M157.2 151.4h0M150.3 141.4h0M141.2 104.6h0M152.6 140.3h0M163.7 146.5h0M153.9 107.1h0M163.5 117.3h0M152.6 147.7h0M144.1 94.8h0M147.2 73.7h0M151.7 109.5h0M141.3 150.1h0M171.7 102.5h0M141.9 128.1h0M161.6 111.7h0M145.5 73.0h0M151.7 139.5h0M144.0 76.1h0M150.3 152.3h0M161.7 159.8h0M160.3 119.6h0M151.5 80.8h0M166.4 76.8h0M145.8 113.2h0M150.1 130.7h0M159.7 91.5h0M143.6 114.6h0M157.2 150.7h0M141.2 92.5h0M152.7 146.7h0M163.3 115.3h0M157.6 112.1h0M153.9 103.8h0M147.6 138.0h0M144.1 76.0h0M157.0 99.7h0M144.3 145.1h0M142.4 104.5h0M141.6 124.9h0M174.6 90.2h0M179.1 133.5h0M150.7 121.9h0M148.3 79.8h0M146.0 124.5h0M142.5 130.0h0M144.2 90.7h0M145.3 91.9h0M154.8 136.9h0M141.9 71.0h0M155.0 132.5h0M144.5 100.1h0M149.9 87.1h0M175.8 134.3h0M160.2 71.7h0M149.5 74.1h0M156.0 87.0h0M178.1 80.3h0M143.9 76.4h0M140.9 81.2h0M161.4 77.4h0M140.8 85.9h0M169.6 154.7h0M141.5 152.7h0M141.2 111.9h0M141.2 155.2h0M140.9 159.9h0M169.2 130.0h0M151.0 139.3h0M144.2 74.5h0M147.0 105.1h0M145.8 149.2h0M153.7 68.1h0M151.0 140.2h0M173.1 148.0h0M149.7 121.8h0M155.2 155.5h0M158.5 139.7h0M162.1 124.0h0M140.8 122.3h0M155.4 125.4h0M172.7 98.0h0M142.5 144.0h0M141.8 115.9h0M159.3 133.3h0M162.6 159.6h0M160.4 60.3h0M142.4 102.2h0M145.1 81.8h0M146.8 84.3h0M146.0 154.0h0M150.2 67.7h0M140.6 128.9h0M140.6 161.3h0M151.4 65.5h0M166.3 130.4h0M154.4 100.3h0M147.4 132.4h0M150.4 117.6h0M141.8 78.8h0M142.3 156.2h0M149.3 109.1h0M154.3 77.8h0M152.6 76.2h0M179.2 79.8h0M142.2 116.1h0M167.4 141.5h0M151.0 77.5h0M142.3 132.3h0M149.9 149.2h0M151.5 104.3h0M149.7 134.8h0M149.7 114.1h0M185.9 105.2h0M141.2 123.0h0M163.9 126.0h0M151.7 142.4h0M160.1 90.9h0M141.3 154.3h0M183.9 83.6h0M146.2 105.7h0M142.2 122.3h0M146.6 71.0h0M143.6 103.5h0M175.7 105.0h0M150.5 120.2h0M142.9 104.0h0M148.3 92.9h0M171.9 154.3h0M155.8 94.3h0M148.3 135.7h0M158.6 90.3h0M149.8 118.0h0M157.0 133.0h0M171.5 142.0h0M181.6 101.9h0M156.3 144.3h0M151.6 132.5h0M142.4 121.3h0M146.2 59.3h0M146.0 122.8h0M141.5 108.5h0M145.9 122.8h0M148.5 155.2h0M157.2 79.4h0M140.6 88.5h0M156.6 68.4h0M144.6 153.6h0M145.3 153.5h0M148.8 147.4h0M148.8 113.0h0M161.4 50.4h0M140.4 105.7h0M142.3 140.3h0M140.7 127.7h0M175.9 91.9h0M178.2 152.1h0M151.6 67.6h0M146.6 91.2h0M154.2 114.7h0M145.9 112.8h0M148.1 123.7h0M145.5 143.3h0M148.8 152.1h0M141.6 70.3h0M155.0 158.8h0M180.2 86.9h0M141.1 84.9h0M144.2 148.1h0M144.8 128.4h0M147.0 114.9h0M185.9 55.3h0M144.5 102.5h0M144.6 152.1h0M158.7 159.1h0M150.1 96.4h0M159.7 161.6h0M146.2 96.7h0M166.5 75.6h0M161.8 62.2h0M154.3 70.6h0M155.3 88.6h0M177.7 134.3h0M140.6 146.3h0M154.0 154.3h0M143.8 154.0h0M140.6 126.5h0M158.1 145.7h0M167.9 111.9h0M161.3 151.5h0M146.0 156.4h0M150.2 110.6h0M162.3 149.7h0M141.0 104.2h0M147.6 82.0h0M177.6 93.2h0M143.7 85.9h0M150.3 120.8h0M149.1 90.7h0M141.0 85.6h0M152.4 97.5h0M143.5 133.7h0M165.6 144.0h0M183.4 122.9h0M149.8 73.8h0M147.7 82.1h0M149.0 106.2h0M166.3 132.5h0M180.0 59.9h0M144.3 120.2h0M143.7 109.8h0M141.2 70.3h0M168.9 150.8h0M141.7 124.7h0M162.6 157.5h0M162.7 109.6h0M144.8 148.7h0M157.9 64.9h0M148.9 73.7h0M149.6 121.8h0M170.4 144.3h0M158.6 75.9h0M142.8 131.9h0M141.7 154.2h0M147.1 75.6h0M142.6 136.8h0M157.2 134.1h0M169.3 144.3h0M141.2 78.9h0M147.0 69.4h0M157.4 79.7h0M141.0 143.3h0M144.3 110.6h0M142.2 130.6h0M143.5 109.5h0M150.5 123.2h0M143.7 83.8h0M141.9 83.1h0M140.5 79.7h0M141.2 85.6h0M159.9 110.7h0M143.4 155.0h0M145.8 156.5h0M148.5 100.2h0M147.3 137.4h0M156.9 63.4h0M143.3 117.0h0" stroke="#5A8DF5" stroke-width="2.2" stroke-linecap="round" fill="none"/><path d="M194.8 68.5h0M205.2 70.0h0M201.3 70.0h0M189.2 49.3h0M185.3 36.7h0M184.0 33.0h0M182.3 33.0h0M197.0 89.2h0M193.1 104.0h0M199.6 59.6h0" stroke="#5A8DF5" stroke-width="2.2" stroke-linecap="round" fill="none"/></g>
<g><path d="M112.5 411.2h0M109.2 406.7h0M95.5 404.5h0M117.7 407.8h0M104.8 407.0h0M110.8 403.8h0M111.3 415.4h0M98.1 404.1h0M98.9 407.6h0M112.0 404.5h0M114.6 414.5h0M112.4 404.6h0M111.0 409.8h0M90.3 405.8h0M98.4 403.8h0M115.9 414.4h0M91.9 405.8h0M103.9 411.1h0M104.5 410.7h0M115.1 407.1h0M110.6 414.8h0M97.3 409.8h0M110.1 402.4h0M96.2 407.7h0M115.1 405.6h0M116.5 412.5h0M111.8 407.2h0M90.0 405.6h0M98.8 409.2h0M98.4 402.1h0M106.2 407.6h0M114.8 411.0h0M103.2 402.5h0M98.9 404.7h0M92.1 407.6h0M111.6 409.8h0M98.6 404.1h0M117.8 418.5h0M102.2 410.3h0M97.8 409.3h0M100.6 409.0h0M117.9 409.0h0M90.6 406.3h0M108.5 407.5h0M107.9 412.0h0M116.4 409.8h0M108.1 410.2h0M99.6 410.7h0M114.2 404.5h0M105.7 404.5h0M117.0 402.2h0M117.1 418.2h0M114.5 404.1h0M116.7 402.9h0M99.7 405.3h0M109.0 411.8h0M114.4 416.9h0M112.2 412.5h0M112.6 414.8h0M116.7 411.5h0M116.6 414.2h0M106.7 405.4h0M103.2 412.2h0M113.8 407.0h0M114.7 417.2h0M98.2 407.2h0M116.4 409.0h0M101.8 402.9h0M114.0 402.1h0M91.0 405.9h0M110.6 405.6h0M113.6 415.1h0M97.7 404.0h0M114.1 403.5h0M117.7 414.9h0M108.0 407.5h0M115.5 407.9h0M117.6 410.5h0M106.8 413.7h0M110.7 408.1h0M113.8 403.3h0M116.5 413.5h0M108.8 405.7h0M116.0 402.4h0M108.6 413.7h0M110.8 402.8h0M94.6 403.9h0M97.8 404.2h0M110.7 405.7h0M94.8 404.3h0" stroke="#8F9AAD" stroke-width="2.2" stroke-linecap="round" fill="none"/><path d="M175.5 409.0h0M147.8 415.1h0M144.6 411.8h0M152.9 406.0h0M162.5 406.7h0M158.6 407.5h0M157.6 411.4h0M151.2 412.8h0M146.3 416.7h0M149.6 414.2h0M147.9 404.6h0M155.2 402.8h0M153.1 402.5h0M144.3 410.8h0M147.3 414.7h0M157.0 405.7h0M158.6 403.6h0M147.6 412.1h0M151.9 408.2h0M144.5 416.0h0M175.7 409.3h0M151.8 402.9h0M160.4 408.1h0M146.3 413.2h0M163.6 407.1h0M145.6 408.1h0M160.2 404.0h0M157.6 408.7h0M148.1 414.1h0M146.2 403.7h0M148.2 403.5h0M170.3 409.8h0M167.3 408.8h0M151.1 412.1h0M150.7 412.4h0M148.2 416.6h0M146.5 414.1h0M179.5 406.8h0M145.3 417.3h0M173.9 406.8h0M144.9 406.8h0M147.7 408.2h0M159.9 402.9h0M148.3 403.4h0M152.1 410.8h0M157.3 408.7h0M144.6 417.6h0M151.8 406.6h0M148.8 412.3h0M144.9 413.5h0M149.8 412.3h0M148.8 406.6h0M166.7 404.7h0M156.7 404.7h0M153.9 410.8h0M170.0 409.9h0M167.2 404.1h0M145.1 411.8h0M160.1 403.4h0M144.6 402.8h0M153.0 409.8h0M148.2 408.5h0M160.1 408.7h0M155.0 405.2h0M156.3 407.3h0M157.1 406.8h0M163.6 406.5h0M153.0 407.4h0M167.1 409.8h0M169.8 408.2h0" stroke="#8F9AAD" stroke-width="2.2" stroke-linecap="round" fill="none"/><path d="M137.6 417.9h0M151.5 406.3h0M129.9 421.2h0M115.7 412.9h0M116.8 402.9h0M132.0 417.8h0M149.7 406.4h0M138.7 413.7h0M132.8 417.5h0M132.4 415.2h0M151.3 409.7h0M122.1 407.8h0M143.4 414.9h0M103.1 407.1h0M115.3 405.8h0M143.8 414.3h0M156.9 405.0h0M125.4 415.1h0M119.2 414.9h0M155.1 408.9h0M137.7 419.2h0M139.2 419.6h0M126.8 407.2h0M148.8 412.3h0M117.9 403.0h0M120.6 420.0h0M122.0 408.6h0M128.3 404.5h0M139.5 410.2h0M127.7 407.6h0M146.1 410.8h0M145.8 406.4h0M141.2 416.1h0M132.0 411.8h0M125.5 403.9h0M134.6 405.9h0M135.6 412.1h0M138.5 406.1h0M143.8 408.2h0M134.7 404.8h0M145.7 412.5h0M144.8 404.2h0M142.3 403.5h0M121.7 409.3h0M118.6 414.3h0M117.3 412.8h0M143.2 412.1h0M146.0 412.0h0M105.0 403.6h0M132.4 416.2h0M127.9 408.9h0M138.1 412.7h0M153.3 405.8h0M115.1 405.3h0M134.0 420.0h0M134.3 405.3h0M143.3 410.6h0M149.1 404.3h0M137.7 402.9h0M127.3 406.6h0M138.8 415.7h0M108.4 403.9h0M128.9 420.3h0M128.7 418.8h0M110.6 406.1h0M146.9 406.0h0M126.2 404.4h0M134.3 415.1h0M120.3 403.8h0M145.0 414.2h0M127.2 405.3h0M136.0 408.5h0M128.9 404.9h0M117.3 403.1h0M136.2 415.8h0M118.2 413.0h0M149.6 416.2h0M131.8 411.5h0M147.4 403.8h0M138.6 415.0h0M125.1 414.3h0M153.9 403.0h0M127.8 402.2h0M125.6 414.9h0M103.3 406.3h0M133.4 418.5h0M122.4 420.2h0M111.2 406.9h0M133.0 405.1h0M110.5 403.7h0M125.4 409.4h0M158.3 411.6h0M118.7 407.8h0M127.3 415.3h0M125.6 414.4h0M120.6 417.4h0M116.9 408.1h0M136.5 406.1h0M125.2 417.9h0M138.8 415.8h0M104.4 404.2h0M118.7 413.7h0M151.3 406.8h0M125.7 404.8h0M112.8 411.2h0M136.3 414.7h0M127.7 406.8h0M164.3 404.5h0M131.9 416.0h0M116.9 409.6h0M126.0 417.3h0M134.9 419.2h0M116.4 407.6h0M111.7 402.1h0M127.5 413.2h0M117.2 406.0h0M138.7 412.5h0M142.2 402.3h0M128.5 409.0h0M154.1 403.8h0M125.3 413.5h0M120.5 406.3h0M130.2 415.3h0M140.1 415.7h0M127.8 410.5h0M156.9 412.2h0M128.4 405.7h0M114.1 414.5h0M154.5 414.2h0M120.5 407.3h0M133.0 404.0h0M130.3 413.4h0M125.2 411.7h0M124.6 404.5h0M142.1 415.3h0M133.3 407.3h0M122.0 406.9h0M127.4 404.7h0M143.7 418.2h0M133.4 403.7h0M116.0 414.7h0M138.9 415.0h0M119.3 409.7h0M120.1 412.5h0M137.2 411.8h0M137.6 404.1h0M132.7 403.0h0M110.1 414.8h0M135.3 406.5h0M120.7 414.3h0M135.1 413.9h0M147.3 406.2h0M135.1 415.1h0M132.1 410.1h0M122.4 408.7h0M121.5 405.2h0M133.5 416.4h0M105.1 405.5h0M136.6 406.6h0M114.5 415.2h0M140.2 413.6h0M135.2 418.3h0M142.1 405.1h0M108.5 404.7h0M117.8 414.2h0M132.3 410.8h0M130.2 415.9h0M136.7 418.3h0M146.7 412.7h0M136.7 416.6h0M133.6 416.4h0M121.1 402.5h0M141.1 409.3h0M124.6 404.5h0M131.1 414.1h0M141.4 405.4h0M140.4 406.8h0M139.8 418.7h0M126.9 417.4h0M138.9 402.5h0M119.2 412.1h0M123.7 408.2h0M119.6 402.6h0M132.2 417.9h0M103.7 411.2h0M121.3 408.1h0M116.3 404.2h0M127.3 410.0h0M131.7 417.6h0M118.3 417.5h0M126.5 419.8h0M129.6 415.5h0M130.1 412.3h0M123.9 416.3h0M134.1 409.0h0M131.1 418.3h0M135.5 402.5h0M99.6 404.1h0M140.1 406.5h0M118.6 410.4h0M128.9 414.8h0M108.4 402.7h0M114.6 414.6h0M133.4 408.1h0M143.7 413.4h0M126.4 416.3h0M135.9 417.4h0M126.8 407.0h0M142.8 408.7h0M149.2 403.3h0M118.0 412.4h0M136.1 417.6h0M124.3 409.1h0M132.3 410.2h0M136.3 413.0h0M121.6 417.1h0M143.9 402.5h0M140.1 404.7h0M150.6 414.4h0M126.7 406.6h0M131.7 413.3h0M128.9 410.2h0M141.0 413.0h0M125.3 411.8h0M145.8 407.3h0M144.8 411.8h0M140.7 412.9h0M119.7 405.6h0M162.4 405.4h0M134.5 406.2h0M148.2 404.9h0M116.1 407.0h0M120.9 408.5h0M123.0 410.1h0M146.7 403.1h0M134.2 411.9h0M121.9 408.3h0M147.0 406.2h0M120.4 418.9h0M134.5 411.3h0M123.0 405.2h0M144.6 402.1h0M144.6 409.7h0M124.5 420.6h0M148.1 409.7h0M147.0 413.2h0M116.8 416.0h0M126.8 403.3h0M121.4 420.0h0M132.9 408.7h0M120.3 407.1h0M121.1 414.5h0M144.3 403.8h0M128.5 412.6h0M103.0 403.7h0M126.5 413.4h0M130.8 417.8h0M125.2 420.0h0M128.9 420.4h0M131.4 419.8h0M133.4 419.4h0M127.6 408.6h0M124.1 410.3h0M121.6 406.4h0M138.9 409.6h0M127.7 417.7h0M134.4 415.3h0M152.2 406.3h0M137.0 420.4h0M136.0 411.3h0M114.6 411.1h0M112.6 403.9h0M128.1 420.5h0M133.5 420.1h0M141.1 411.1h0M125.6 421.1h0M115.1 404.2h0M129.2 415.2h0M121.7 411.4h0M100.1 403.2h0M139.1 417.0h0M135.5 412.3h0M141.1 403.1h0M143.5 405.5h0M158.4 410.1h0M134.5 416.3h0M139.6 417.2h0M121.2 415.7h0M131.1 420.2h0M125.4 409.6h0M124.6 405.6h0M115.4 416.2h0M136.1 412.8h0M135.9 404.3h0M106.3 402.2h0M146.8 405.6h0M138.2 409.9h0M136.9 408.2h0M111.8 414.6h0M114.9 414.6h0M145.7 412.5h0M123.4 417.8h0M137.5 413.0h0M138.2 415.9h0M128.7 413.1h0M130.1 418.8h0M134.2 413.5h0M151.6 403.2h0M132.3 408.7h0M137.7 403.0h0M104.6 409.7h0M141.9 402.8h0M136.9 409.7h0M121.3 406.3h0M134.4 403.2h0M133.0 405.1h0M129.8 411.5h0M119.4 410.2h0M125.5 410.7h0M134.8 415.5h0M129.8 417.8h0M117.7 409.6h0M120.5 415.3h0M122.6 411.0h0M105.2 402.3h0M117.2 418.3h0M115.4 407.5h0M109.0 408.5h0M131.6 411.6h0M128.7 415.9h0M127.3 412.6h0M126.8 420.8h0M104.8 408.2h0M124.5 402.6h0M149.8 414.5h0M151.2 409.6h0M128.2 412.0h0M124.6 410.6h0M123.8 419.2h0M129.5 420.5h0M129.2 413.5h0M145.3 405.8h0M134.2 408.1h0M131.7 413.3h0M136.2 412.7h0M122.9 402.4h0M150.7 409.1h0M136.0 416.2h0M158.4 406.2h0M114.8 411.0h0M134.5 412.9h0M121.3 404.9h0M126.5 405.4h0M104.8 406.4h0M110.3 413.4h0M145.7 406.9h0M135.9 412.5h0M137.0 407.7h0M112.8 410.4h0M125.6 415.4h0M112.3 402.9h0M136.1 420.3h0M137.5 415.9h0M135.3 406.7h0M116.7 417.5h0M114.6 403.9h0M129.3 411.7h0M123.3 404.4h0M109.6 409.2h0M129.8 417.1h0M142.7 410.9h0M142.2 418.0h0M110.4 414.8h0M138.7 412.7h0M140.6 405.1h0M133.1 419.3h0M120.0 408.2h0M123.5 418.0h0M128.8 421.0h0M105.2 408.3h0M149.1 408.2h0M138.8 421.2h0M158.0 412.8h0M121.6 402.7h0M132.8 407.0h0M123.5 413.6h0M143.1 411.9h0M154.9 410.2h0M118.3 417.9h0M135.3 406.4h0M126.7 405.0h0M152.4 412.2h0M133.5 413.5h0M124.1 404.0h0M123.0 409.1h0M120.0 417.8h0M133.0 406.7h0M124.1 410.5h0M131.3 418.1h0M134.9 410.6h0M164.2 408.5h0M120.5 411.3h0M140.0 420.6h0M136.2 412.1h0M136.9 405.8h0M122.8 420.2h0M116.2 403.2h0M125.9 417.3h0M122.4 403.6h0M136.1 411.4h0M111.8 407.6h0M128.6 405.6h0M138.7 404.6h0M144.0 416.8h0M107.5 406.2h0M133.0 410.8h0M131.9 419.1h0M116.2 403.9h0M132.4 420.0h0M138.2 402.1h0M137.1 418.6h0M140.4 413.6h0M136.1 414.8h0M135.5 418.2h0M137.7 410.3h0M133.3 420.1h0M141.6 403.0h0M136.3 408.4h0M127.7 419.9h0M122.2 417.0h0M134.8 408.1h0M115.1 413.3h0M131.0 415.7h0M123.7 402.4h0M133.8 414.4h0M140.8 403.5h0M136.3 409.0h0M138.5 417.2h0M127.1 407.6h0M118.2 405.1h0M140.1 414.1h0M147.8 403.4h0M99.3 408.8h0M138.6 410.6h0M125.6 421.1h0M137.5 404.0h0M165.8 405.5h0M135.0 412.2h0M104.3 409.7h0M118.0 412.9h0M127.7 417.0h0M119.3 414.5h0M133.4 420.6h0M137.6 411.5h0M138.0 421.0h0M121.7 417.4h0M119.7 419.0h0M135.7 419.5h0M133.1 408.0h0M128.1 408.6h0M120.8 406.3h0M136.3 405.2h0M138.8 420.2h0M137.6 404.1h0M136.3 406.6h0M133.7 419.0h0M134.9 406.4h0M135.3 411.9h0M127.7 414.6h0M128.3 418.5h0M135.2 409.8h0M149.6 407.0h0M139.7 406.5h0M103.3 406.4h0M111.4 404.5h0M132.9 407.4h0M104.8 412.4h0M127.6 403.8h0M121.5 404.9h0M136.3 416.1h0M112.2 409.8h0M119.7 410.1h0M127.7 420.0h0M135.2 402.6h0M124.0 406.3h0M120.6 414.1h0M156.6 410.8h0M128.4 408.9h0M131.9 413.8h0M134.4 419.3h0M126.9 417.6h0M122.1 405.1h0M131.0 416.5h0M131.0 414.3h0M122.9 404.6h0M146.8 407.8h0M105.6 412.6h0M126.1 412.0h0M135.6 409.1h0M126.1 411.7h0M120.3 405.7h0M133.2 405.5h0M129.9 413.1h0M122.4 409.0h0M148.1 406.8h0M165.6 402.6h0M135.0 404.0h0M142.4 403.8h0M130.2 413.3h0M128.4 409.4h0M153.4 403.7h0M124.3 407.6h0M127.7 403.4h0M147.4 407.5h0M115.0 406.2h0M132.7 406.0h0M134.3 412.3h0M134.0 412.1h0M127.6 419.0h0M130.2 415.6h0M142.7 412.5h0M113.7 411.8h0M116.5 413.9h0M127.1 412.0h0M136.1 416.0h0M133.4 402.7h0M104.3 406.2h0M125.4 402.5h0M121.2 416.4h0M142.7 411.1h0M141.2 402.2h0M130.0 421.2h0M133.2 411.3h0M135.5 406.3h0M128.9 420.2h0M129.6 417.8h0M123.9 403.2h0M126.6 405.9h0M125.0 413.4h0M135.2 408.4h0M121.4 404.4h0M135.0 414.5h0M145.3 413.6h0M138.0 408.1h0M125.4 420.4h0M118.9 402.5h0M128.1 420.6h0M127.1 402.4h0M113.8 404.6h0M157.3 407.0h0M131.8 413.3h0M154.9 405.3h0M131.3 416.7h0M126.4 404.6h0M136.8 404.9h0M139.7 406.4h0M134.4 413.1h0M152.2 413.1h0M126.0 414.5h0M132.7 409.4h0M127.5 407.6h0M134.6 405.6h0M134.8 412.5h0M148.4 413.7h0M157.7 412.5h0M115.3 407.7h0M138.6 416.9h0M155.3 413.4h0M138.2 402.1h0M119.3 410.5h0M137.5 417.1h0M116.8 416.1h0M122.6 409.8h0M128.0 411.4h0M109.5 411.1h0M114.9 415.4h0M126.5 417.1h0M130.9 414.7h0M122.4 408.0h0M130.8 413.2h0M145.0 409.0h0M137.4 402.9h0M133.2 419.0h0M120.5 411.8h0M126.5 402.9h0M110.8 414.1h0M133.5 415.8h0M137.7 417.3h0M126.7 420.3h0M139.2 411.1h0M141.5 404.5h0M145.7 412.3h0M125.1 414.1h0M126.5 404.8h0M129.5 414.9h0M143.3 405.3h0M140.0 410.4h0M141.1 410.8h0M127.7 417.3h0M134.4 421.1h0" stroke="#8F9AAD" stroke-width="2.2" stroke-linecap="round" fill="none"/><path d="M122.6 366.6L122.6 402.1L116.1 402.1L117.8 412.4L121.7 419.1L125.3 421.3L131.2 421.9L136.2 421.3L139.9 419.1L142.9 413.9L145.1 402.1L139.9 402.1L139.9 354.7L136.9 354.7L136.6 357.7L136.0 362.7L134.2 380.2L132.7 395.6L132.1 401.0L131.2 410.9L129.4 401.0L129.0 395.6L127.3 380.2L125.6 366.6Z" fill="#8F9AAD"/><path d="M127.3 386.2h0M127.4 397.1h0M128.6 407.5h0M125.2 381.6h0M125.7 376.4h0M122.3 364.3h0M128.2 406.3h0M124.1 365.9h0M121.4 358.1h0M124.6 369.0h0M124.8 377.2h0M127.7 394.3h0M124.9 373.8h0M126.0 378.4h0M124.8 373.3h0M126.6 390.5h0M127.9 405.6h0M126.4 384.4h0M128.0 399.3h0M125.9 377.7h0M127.2 401.1h0M127.4 394.3h0M127.2 391.1h0M129.4 410.1h0M125.0 374.0h0M125.0 370.2h0M123.9 369.9h0M127.7 404.5h0M125.6 376.9h0M123.6 365.4h0M124.0 362.5h0M129.3 408.1h0M123.2 361.3h0M126.7 388.0h0M128.6 408.7h0M125.4 374.8h0M126.0 385.7h0M125.9 384.2h0M128.1 403.4h0M123.7 366.1h0M123.0 359.4h0M129.4 407.4h0M124.7 370.1h0M128.3 401.0h0M126.9 392.5h0M129.5 410.3h0M126.7 388.3h0M128.6 399.3h0M127.7 401.8h0M128.0 399.2h0M127.2 393.7h0M127.0 388.0h0M123.8 365.6h0M125.1 370.3h0M126.5 385.8h0M128.6 407.0h0M127.0 388.4h0M124.8 374.9h0M128.5 406.2h0M126.6 389.9h0M129.5 409.3h0M126.8 384.8h0M127.1 397.8h0M126.3 384.0h0M123.6 367.9h0M125.0 372.1h0M123.1 362.3h0M129.4 408.4h0M125.4 374.6h0M126.2 381.6h0M127.9 401.8h0M123.4 359.5h0M127.3 397.6h0M127.0 386.6h0M126.5 381.8h0M128.5 407.6h0M124.9 371.2h0M123.3 360.5h0M128.9 405.5h0M126.6 381.9h0M123.8 365.9h0M128.8 408.1h0M124.6 369.0h0M124.8 375.8h0M124.5 368.1h0M129.3 409.2h0M126.6 384.8h0M127.7 397.3h0M122.9 361.1h0M123.6 361.2h0M124.6 368.8h0M125.1 368.4h0M125.1 370.8h0M127.4 395.6h0M125.2 371.3h0M127.3 396.2h0M127.9 405.8h0M126.8 386.6h0M127.8 400.8h0M122.3 360.1h0M127.2 396.2h0M126.5 386.2h0M123.9 362.3h0M126.0 378.3h0M125.6 376.0h0M122.8 361.3h0M128.4 405.8h0M125.1 378.1h0M125.2 369.6h0M129.1 403.8h0M124.3 364.1h0M127.7 399.1h0M125.8 375.5h0M128.7 400.1h0M128.9 405.1h0M124.1 369.4h0M125.2 369.4h0M125.2 371.5h0M124.8 368.4h0M128.7 404.1h0M125.6 381.4h0M126.7 381.6h0M128.0 399.9h0M127.0 389.4h0M128.0 399.3h0M128.5 403.9h0M124.5 378.2h0M126.7 382.0h0M122.0 357.7h0M125.8 385.6h0M124.0 375.1h0M126.0 383.9h0M128.8 409.8h0M128.7 402.0h0M123.9 363.0h0M128.6 399.3h0M127.8 390.9h0M124.3 364.6h0M125.5 371.5h0M124.8 374.3h0M125.1 375.9h0M126.7 383.6h0M125.8 375.5h0M125.6 375.3h0M124.2 362.6h0M126.3 389.8h0M127.9 403.5h0M123.6 365.5h0M127.1 388.2h0M125.4 384.8h0M127.9 398.6h0M124.3 366.2h0M128.0 394.6h0M126.5 379.7h0M123.1 360.5h0M125.6 373.0h0M124.8 367.3h0M124.6 374.4h0M126.8 385.5h0M127.9 396.3h0M128.6 409.7h0M129.4 407.3h0M123.1 365.2h0M127.1 398.4h0M126.9 385.6h0M128.1 394.6h0M122.7 360.7h0M124.6 365.2h0M125.5 381.4h0M126.7 392.5h0M125.2 369.3h0M128.4 400.4h0M125.4 384.7h0M123.5 365.0h0M138.0 363.5h0M138.4 350.7h0M134.3 388.7h0M134.6 397.4h0M134.3 387.5h0M137.0 366.8h0M139.6 347.9h0M138.8 353.8h0M133.0 406.6h0M133.6 405.0h0M133.8 401.2h0M133.6 398.7h0M138.8 349.2h0M139.1 345.9h0M134.8 396.7h0M132.1 409.3h0M137.0 362.7h0M135.7 380.6h0M137.6 355.2h0M132.7 403.4h0M138.3 354.7h0M137.9 361.6h0M134.3 399.2h0M134.3 391.7h0M133.7 399.6h0M134.7 388.4h0M136.1 369.9h0M137.1 377.5h0M134.7 387.0h0M140.1 347.5h0M137.2 375.9h0M132.4 410.6h0M134.9 381.0h0M135.7 387.1h0M138.3 353.1h0M134.7 397.5h0M133.6 397.4h0M136.9 370.2h0M135.2 397.4h0M139.0 352.1h0M134.1 391.9h0M134.1 394.2h0M135.1 386.7h0M133.6 404.6h0M134.0 404.9h0M134.1 388.5h0M133.3 398.4h0M138.7 349.5h0M132.5 407.6h0M137.6 368.2h0M136.5 368.7h0M139.9 345.8h0M131.9 410.2h0M138.4 354.4h0M136.4 366.3h0M137.0 361.3h0M135.5 375.4h0M133.6 403.7h0M132.4 407.3h0M134.3 392.8h0M133.0 401.5h0M137.1 359.0h0M135.3 382.1h0M135.5 380.4h0M134.2 394.0h0M135.8 378.0h0M136.3 374.7h0M139.9 345.1h0M134.1 391.7h0M134.7 383.8h0M136.0 375.8h0M138.2 362.4h0M134.3 386.0h0M134.5 385.1h0M132.8 401.9h0M134.6 395.4h0M140.1 345.3h0M135.8 373.8h0M138.7 348.5h0M133.2 403.6h0M135.6 388.9h0M136.6 373.4h0M133.8 391.4h0M135.0 383.6h0M135.6 380.8h0M133.3 398.4h0M137.9 357.5h0M139.5 347.9h0M139.3 348.4h0M132.9 400.7h0M134.9 386.5h0M137.4 362.7h0M134.0 399.1h0M136.1 375.9h0M136.8 374.8h0M138.1 354.7h0M137.8 357.8h0M134.0 390.7h0M135.0 383.0h0M134.6 387.8h0M138.7 353.1h0M137.2 366.6h0M133.5 396.7h0M136.0 372.4h0M137.2 363.6h0M134.0 406.0h0M136.3 373.4h0M134.4 387.3h0M134.9 391.0h0M136.8 374.7h0M133.7 398.7h0M133.6 398.4h0M132.4 405.0h0M136.1 381.3h0M134.5 397.4h0M136.4 372.5h0M133.1 405.4h0M133.1 405.3h0M133.9 397.2h0M139.3 348.4h0M138.5 355.2h0M138.6 350.7h0M138.0 358.4h0M139.9 346.0h0M138.6 353.0h0M136.3 368.8h0M134.7 388.4h0M135.2 381.7h0M137.6 361.6h0M133.9 398.8h0M138.9 351.6h0M136.6 366.2h0M135.4 380.6h0M131.9 410.8h0M137.4 360.3h0M134.6 387.6h0M134.0 392.5h0M137.9 356.0h0M137.8 355.6h0M136.5 366.0h0M134.8 383.3h0M135.0 384.5h0M133.7 402.3h0M137.2 367.4h0M134.1 393.7h0M135.3 379.6h0M135.0 388.8h0M138.2 354.2h0M134.0 390.4h0M134.6 383.5h0M140.0 345.3h0M133.0 402.9h0M138.7 354.5h0M135.1 381.8h0M135.0 392.3h0M135.0 393.9h0M133.3 402.0h0M134.7 385.5h0" stroke="#8F9AAD" stroke-width="2.2" stroke-linecap="round" fill="none"/><path d="M95.8 381.0h0M120.5 385.7h0M115.9 382.2h0M119.9 396.7h0M119.9 386.3h0M119.0 395.8h0M118.3 381.7h0M99.6 372.3h0M121.7 394.3h0M103.6 379.1h0M116.4 368.5h0M105.4 395.7h0M116.0 380.6h0M118.3 364.8h0M109.5 389.7h0M118.3 392.9h0M117.1 364.2h0M120.7 366.9h0M118.0 358.1h0M117.6 359.2h0M120.5 386.7h0M121.0 384.0h0M119.9 391.5h0M120.9 369.2h0M117.0 393.4h0M109.0 390.3h0M119.3 380.5h0M120.3 375.1h0M114.2 399.9h0M116.6 399.5h0M121.2 397.0h0M113.3 358.2h0M113.4 389.2h0M116.3 397.8h0M118.1 352.1h0M111.1 369.0h0M120.1 388.4h0M122.0 399.2h0M117.8 397.3h0M119.5 349.4h0M112.0 368.7h0M118.5 388.7h0M109.5 381.7h0M121.6 392.6h0M115.4 380.4h0M115.9 381.1h0M121.0 397.1h0M111.6 383.4h0M119.4 399.6h0M120.8 366.2h0M88.1 386.1h0M112.4 393.3h0M117.8 382.3h0M117.2 385.9h0M120.1 375.5h0M118.4 392.5h0M120.6 397.5h0M112.4 400.9h0M113.4 390.8h0M116.0 360.0h0M107.0 371.0h0M119.1 372.8h0M112.9 392.4h0M121.4 385.4h0M114.0 396.4h0M122.0 381.9h0M114.8 398.0h0M105.5 395.9h0M119.8 359.0h0M107.9 374.8h0M121.8 382.0h0M113.4 381.1h0M119.8 372.1h0M121.4 398.1h0M117.9 367.2h0M115.0 372.1h0M121.4 365.5h0M119.3 398.9h0M117.6 366.1h0M94.2 400.9h0M120.0 390.2h0M118.9 382.5h0M113.9 399.6h0M114.3 384.6h0M117.8 384.0h0M119.9 358.9h0M120.0 398.1h0M121.5 398.7h0M120.8 388.5h0M115.2 377.2h0M121.8 387.0h0M112.8 400.5h0M115.6 401.0h0M114.5 400.6h0M105.8 371.4h0M100.2 394.5h0M101.8 374.3h0M121.1 393.1h0M116.5 391.7h0M121.7 398.0h0M119.4 380.4h0M115.5 392.6h0M115.7 382.8h0M121.0 401.0h0M118.9 373.1h0M121.2 364.9h0M108.2 372.0h0M120.3 370.7h0M92.4 384.8h0M121.7 358.5h0M120.5 370.6h0M120.3 401.4h0M108.4 394.5h0M119.7 360.6h0M120.7 389.6h0M116.9 395.7h0M103.3 395.2h0M121.4 389.8h0M114.2 396.5h0M108.3 370.8h0M115.5 397.9h0M118.5 366.3h0M114.4 397.6h0M118.5 376.3h0M114.5 367.6h0M119.9 371.3h0M117.9 380.1h0M118.1 375.2h0M116.6 370.2h0M120.1 389.3h0M113.0 372.0h0M120.6 360.9h0M121.7 396.0h0M107.1 389.3h0M111.7 384.2h0M121.2 396.1h0M113.9 394.4h0M120.1 392.7h0M117.3 383.3h0M116.0 379.1h0M121.3 400.7h0M116.4 385.0h0M99.9 394.7h0M116.9 371.0h0M114.1 398.6h0M110.1 390.3h0M121.7 364.6h0M115.7 370.3h0M119.4 374.5h0M120.7 359.3h0M120.7 359.1h0M119.2 392.1h0M119.1 393.2h0M116.5 351.4h0M112.3 374.7h0M119.8 379.3h0M119.9 366.7h0M119.9 376.2h0M112.5 382.8h0M121.8 360.3h0M110.1 400.0h0M108.5 395.9h0M121.1 396.1h0M121.3 364.0h0M114.9 376.3h0M119.0 388.7h0M115.1 393.2h0M120.7 382.1h0M101.7 396.0h0M109.0 387.2h0M109.9 388.2h0M95.4 386.2h0M109.1 386.7h0M121.6 391.1h0M117.7 399.7h0M121.8 361.1h0M118.6 374.4h0M118.5 360.7h0M113.5 380.6h0M119.4 397.4h0M94.3 402.0h0M114.0 368.1h0M120.5 384.7h0M116.0 401.5h0M118.9 367.7h0M120.1 399.3h0M91.6 401.9h0M111.2 380.3h0M121.5 360.9h0M117.3 399.3h0M118.8 378.4h0M113.8 398.2h0M118.7 364.1h0M121.3 369.7h0M117.2 362.7h0M120.2 394.8h0M115.8 400.1h0M114.7 389.1h0M120.5 398.7h0M118.7 395.6h0M109.9 373.1h0M119.7 362.3h0M117.6 372.3h0M117.2 365.5h0M98.4 388.8h0M115.5 358.5h0M118.0 400.8h0M121.8 369.7h0M117.2 395.1h0M114.9 391.1h0M117.9 364.1h0M117.6 395.2h0M106.9 373.5h0M101.8 394.9h0M118.1 394.6h0M111.6 375.0h0M101.4 362.4h0M99.9 382.9h0M119.5 382.7h0M119.7 398.5h0M116.7 378.5h0M121.5 383.3h0M119.3 368.6h0M120.7 383.4h0M106.8 369.0h0M116.8 400.9h0M117.7 374.8h0M118.1 384.8h0M113.5 385.4h0M115.0 390.3h0M117.4 381.7h0M107.4 383.5h0M116.2 388.8h0M116.0 371.5h0M118.5 367.0h0M119.0 362.6h0M119.9 392.9h0M117.2 377.8h0M95.8 398.8h0M120.4 384.0h0M115.4 361.8h0M120.7 395.2h0M120.4 395.1h0M119.7 391.1h0M116.6 386.9h0M115.7 398.3h0M115.5 400.4h0M121.9 399.3h0M115.0 376.0h0M117.3 391.5h0M119.4 377.1h0M121.1 372.9h0M109.5 372.9h0M120.9 400.7h0M94.2 395.8h0M109.0 376.8h0M105.5 394.8h0M120.5 378.8h0M116.9 379.6h0M119.7 384.5h0M110.1 371.4h0M121.2 399.3h0M111.8 398.8h0M120.3 393.2h0M109.4 370.0h0M118.0 371.8h0M118.5 394.5h0M120.9 401.5h0M104.0 384.7h0M115.5 391.2h0M116.2 363.5h0M114.7 390.2h0M116.2 395.8h0M112.5 397.2h0M120.6 390.8h0M121.6 368.8h0M113.7 398.4h0M117.5 391.5h0M119.9 370.8h0M116.2 379.5h0M92.2 400.3h0M120.8 359.9h0M121.5 384.2h0M116.3 369.6h0M113.1 400.9h0M120.9 369.4h0M118.4 377.5h0M120.3 382.8h0M121.2 381.6h0M119.0 395.8h0M121.5 384.2h0M118.0 383.8h0M104.0 375.2h0M111.6 386.5h0M114.9 388.3h0M110.0 401.9h0M100.0 390.2h0M118.0 401.5h0M121.7 369.9h0M114.2 389.1h0M119.0 377.8h0M118.8 375.0h0M120.7 390.0h0M121.9 386.9h0M119.6 400.8h0M93.5 399.9h0M121.2 364.4h0M106.6 378.5h0M120.6 365.5h0M116.9 383.6h0M103.2 382.6h0M92.6 396.3h0M116.2 383.9h0M118.3 385.2h0M108.4 377.4h0M121.9 395.5h0M117.7 364.8h0M109.9 398.6h0M121.9 359.2h0M117.8 388.6h0M119.8 389.5h0M121.0 340.1h0M104.4 386.7h0M107.2 380.1h0M119.2 399.2h0M113.8 392.8h0M121.2 392.8h0M118.5 391.7h0M111.2 377.9h0M112.2 364.8h0M118.8 364.9h0M119.8 372.6h0M116.4 367.4h0M93.8 381.5h0M120.9 387.1h0M121.7 397.8h0M122.0 375.3h0M119.4 388.6h0M121.9 370.3h0M96.2 387.8h0M120.5 395.1h0M120.3 396.5h0M119.5 376.9h0M119.9 374.8h0M109.9 378.5h0M121.8 389.2h0M119.1 399.2h0M111.8 384.6h0M107.3 376.4h0M113.8 366.9h0M120.1 362.1h0M94.4 398.5h0M119.2 372.7h0M119.6 370.8h0M121.5 363.4h0M115.6 386.8h0M99.6 377.5h0M120.9 359.7h0M115.3 367.4h0M121.6 397.9h0M118.6 392.8h0M115.8 370.8h0M115.2 367.3h0M121.0 373.9h0M121.6 366.6h0M118.3 400.3h0M95.4 381.0h0M121.5 386.8h0M93.0 398.6h0M119.3 385.4h0M114.7 400.3h0M119.8 365.7h0M120.6 373.8h0M121.3 391.7h0M116.4 368.6h0M114.3 386.3h0M121.1 380.2h0M117.4 361.9h0M116.8 394.7h0M88.2 386.9h0M118.5 395.9h0M120.2 361.5h0M110.2 398.2h0M113.7 385.2h0M114.1 397.1h0M116.7 390.5h0M119.1 375.8h0M115.2 377.2h0M121.4 367.7h0M121.4 358.2h0M120.2 370.8h0M117.5 393.1h0M115.6 354.6h0M121.7 385.9h0M91.5 387.3h0M121.5 359.8h0M110.4 395.1h0M116.4 373.5h0M119.0 379.9h0M121.5 368.3h0M115.8 392.6h0M120.4 383.1h0M121.1 375.2h0M119.5 379.9h0M121.5 359.4h0M92.0 394.9h0M120.1 363.5h0M120.6 358.8h0M121.2 389.5h0M112.9 397.7h0M119.7 396.1h0M120.6 398.6h0M113.3 384.4h0M111.4 354.6h0M120.6 395.1h0M107.7 395.9h0M120.7 357.8h0M120.6 360.5h0M121.2 398.1h0M119.4 378.2h0M120.0 373.6h0M104.1 400.0h0M121.6 381.1h0M104.1 386.5h0M120.7 397.2h0M116.6 363.6h0M120.3 371.8h0M120.2 373.6h0M109.1 389.0h0M121.0 386.6h0M119.6 360.8h0M118.8 373.1h0M121.8 388.7h0M119.1 351.8h0M118.2 366.8h0M119.3 395.3h0M116.3 372.7h0M121.2 380.0h0M115.5 360.1h0M111.8 376.5h0M121.4 372.1h0M120.2 377.1h0M117.9 401.1h0M117.9 361.1h0M121.2 376.0h0M121.5 366.8h0M111.8 390.5h0M119.5 389.1h0M117.9 364.2h0M116.1 373.0h0M118.5 387.7h0M116.6 394.2h0M120.0 400.8h0M112.0 394.6h0M119.7 400.2h0M121.3 369.1h0M118.2 379.1h0M112.5 397.0h0M121.5 387.5h0M117.2 379.3h0M119.6 399.4h0M121.1 352.8h0M109.4 382.4h0M105.5 390.1h0M120.4 359.2h0M115.0 378.2h0M119.6 362.9h0M118.3 399.1h0M122.0 343.8h0M121.0 366.1h0M102.6 385.5h0M119.4 382.7h0M115.3 367.7h0M121.8 380.4h0M120.6 394.6h0M113.2 388.2h0M94.8 384.3h0M120.3 377.6h0M113.8 377.6h0M110.0 372.1h0M110.9 364.1h0M109.1 363.5h0M119.6 390.2h0M118.7 359.8h0M120.0 373.0h0M121.3 390.4h0M110.7 399.9h0M92.4 401.0h0M108.2 377.5h0M107.6 398.2h0M112.7 374.4h0M112.6 382.3h0M120.5 383.8h0M118.2 378.5h0M113.5 397.3h0M120.7 388.3h0M117.9 398.2h0M119.6 394.7h0M121.3 397.5h0M103.7 392.8h0M118.9 372.4h0M107.4 389.5h0M114.4 367.3h0M119.4 370.0h0M104.7 374.8h0M121.1 400.6h0M120.9 398.6h0M120.5 394.1h0M121.1 374.2h0M122.0 384.2h0M115.7 392.4h0M122.0 382.0h0M112.1 362.6h0M121.9 401.2h0M119.6 374.1h0M116.9 397.8h0M120.2 374.9h0M114.3 371.0h0M118.1 371.0h0M113.2 388.0h0M105.0 402.0h0M121.2 357.9h0M115.6 365.7h0M120.9 357.8h0M119.8 370.3h0M110.4 379.7h0M117.5 383.3h0M122.0 392.5h0M114.4 379.5h0M117.4 396.7h0M118.4 393.0h0M116.8 389.6h0M114.0 371.6h0M119.9 368.9h0M119.0 382.1h0M119.8 366.6h0M120.8 390.0h0M120.1 401.5h0M107.8 392.7h0M113.8 367.1h0M117.0 384.5h0M107.3 378.4h0M92.2 383.9h0M109.4 365.4h0M120.7 376.5h0M118.8 395.6h0M115.4 371.3h0M110.1 398.7h0M97.1 384.7h0M120.9 377.4h0M121.5 402.0h0M119.3 350.4h0M121.2 372.8h0M121.5 398.0h0M117.3 382.2h0M117.7 353.3h0M118.5 376.2h0M120.7 372.4h0M119.8 366.2h0M118.3 400.2h0M104.1 398.6h0M115.0 374.5h0M117.7 398.1h0M110.8 364.9h0M99.1 389.4h0M120.7 382.0h0M117.2 369.4h0M117.9 366.7h0M121.0 401.5h0M113.9 364.8h0M101.4 392.2h0M120.4 381.0h0M118.6 388.2h0M115.5 401.6h0M116.4 389.8h0M88.5 400.9h0M119.2 371.3h0M90.6 395.7h0M119.8 383.0h0M120.0 358.5h0M117.7 388.0h0M117.9 372.1h0M120.4 389.3h0M117.3 399.7h0M118.5 373.2h0M117.8 376.2h0M103.0 383.8h0M112.3 367.6h0M98.0 378.8h0M119.4 364.1h0M104.9 388.8h0M117.8 394.0h0M119.1 401.8h0M121.8 386.9h0M115.8 384.1h0M106.9 390.8h0M114.1 392.7h0M120.5 364.9h0M120.2 357.5h0M115.4 383.6h0M118.2 390.8h0M122.0 392.7h0M102.6 378.5h0M120.0 399.6h0M110.2 379.2h0M118.9 380.3h0M106.9 375.7h0M117.1 365.3h0M112.2 387.3h0M113.6 390.3h0M107.1 381.3h0M116.3 387.7h0M117.2 373.8h0M122.0 398.3h0M112.7 364.4h0M121.2 360.1h0M121.8 397.0h0M121.2 362.0h0M120.6 388.6h0M117.9 360.5h0M122.0 392.4h0M117.4 368.2h0M104.3 374.5h0M117.0 376.6h0M121.8 399.7h0M121.2 398.7h0M113.6 376.0h0M116.9 358.0h0M121.0 399.6h0M118.4 361.3h0M118.1 385.2h0M116.9 382.2h0M116.6 378.2h0M92.3 391.4h0M120.3 399.3h0M115.9 396.8h0M105.7 393.5h0M121.2 365.6h0M120.8 365.7h0M118.5 401.4h0M114.9 361.8h0M117.9 394.3h0M115.7 399.3h0M122.0 367.0h0M115.8 391.4h0M113.2 392.4h0M121.2 365.3h0M118.2 386.1h0M104.1 370.6h0M105.6 401.6h0M109.6 368.2h0M115.6 398.0h0M117.4 383.1h0M98.7 390.9h0M111.4 398.9h0M119.4 384.0h0M121.0 397.3h0M118.6 398.9h0M96.7 382.3h0M115.7 395.0h0M116.0 377.6h0M121.0 371.7h0M119.4 362.2h0M115.1 376.2h0M121.9 395.8h0M121.7 382.1h0M121.2 375.0h0M120.5 361.5h0M121.3 393.1h0M119.7 371.8h0M112.6 388.7h0M92.0 382.8h0M108.4 374.7h0M120.8 386.5h0M121.6 370.8h0M111.9 377.0h0M119.7 358.3h0M121.9 393.0h0M116.5 395.0h0M120.5 398.8h0M115.6 364.1h0M110.6 369.4h0M121.7 360.7h0M118.9 395.5h0M110.4 376.6h0M106.7 395.0h0M113.4 395.9h0M120.3 393.5h0M120.2 384.8h0M117.7 384.9h0M116.3 379.3h0M115.4 360.7h0M115.2 380.9h0M120.8 380.0h0M107.4 380.5h0M113.0 364.2h0M120.3 381.4h0M117.2 367.7h0M118.1 367.3h0M119.3 359.6h0M117.4 380.8h0M119.8 374.7h0M112.0 378.1h0M114.5 393.2h0M121.9 388.4h0M115.4 386.2h0M121.0 373.0h0M121.4 392.4h0M121.6 400.1h0M118.1 387.1h0M96.0 386.9h0M102.6 379.6h0M118.1 395.7h0M120.7 396.2h0M114.0 367.1h0M114.0 376.7h0M121.4 385.4h0M120.5 378.3h0M114.0 361.9h0M118.1 386.6h0M118.8 373.8h0M114.4 363.0h0M97.6 400.7h0M121.7 401.2h0M120.4 396.3h0M120.3 398.8h0M95.8 401.4h0M111.6 385.8h0M120.7 399.1h0M118.3 358.4h0M119.6 392.6h0M114.1 399.7h0M118.4 395.5h0M114.0 356.5h0M116.3 394.3h0M118.3 380.3h0M119.5 352.5h0M113.1 373.6h0M101.5 374.5h0M114.2 388.2h0M120.2 366.2h0M112.7 387.1h0M121.4 395.9h0M121.7 401.5h0M117.3 365.1h0M120.2 387.8h0M116.2 385.8h0M98.0 394.4h0M112.6 368.0h0M116.9 364.9h0M115.5 371.9h0M116.2 396.5h0M115.5 374.0h0M120.3 393.5h0M113.2 379.9h0M111.0 387.6h0M117.4 359.8h0M94.4 401.8h0M120.3 389.6h0M105.5 378.8h0M121.2 365.0h0M115.9 400.4h0M121.9 371.5h0M116.7 382.3h0M121.5 400.8h0M114.0 379.1h0M121.8 399.3h0M121.6 399.8h0M116.8 392.0h0M120.5 400.1h0M120.3 398.5h0M116.7 378.0h0M91.7 385.3h0M118.9 396.6h0M120.6 364.8h0M109.6 382.9h0M117.6 389.5h0M110.5 387.1h0M121.4 401.9h0M121.1 359.4h0M117.6 387.2h0M121.8 388.1h0M118.1 358.6h0M117.8 400.9h0M121.8 376.0h0M122.0 367.9h0M111.3 382.2h0M115.5 391.9h0M120.5 358.2h0M120.6 388.7h0M116.0 385.1h0M121.3 381.3h0M121.7 391.2h0M117.4 394.6h0M120.0 399.1h0M114.7 389.3h0M114.5 389.7h0M115.9 401.2h0M118.4 371.1h0M115.5 365.7h0M120.7 383.7h0M111.1 394.5h0M121.0 372.8h0M115.5 391.4h0M117.4 386.4h0M101.2 391.0h0M117.4 370.5h0M118.6 370.9h0M121.9 384.0h0M116.0 365.2h0M115.7 363.4h0M115.9 367.3h0M105.9 377.2h0M121.4 396.0h0M121.8 376.9h0M119.3 372.5h0M110.0 377.7h0M111.9 388.5h0M107.8 401.2h0M119.2 376.2h0M115.5 385.2h0M116.6 386.0h0M117.4 381.4h0M101.6 378.8h0M94.2 399.5h0M117.5 389.0h0M116.4 378.8h0M118.9 371.9h0M118.8 393.2h0M119.5 373.7h0M119.1 381.0h0M115.3 396.3h0M121.4 400.4h0M118.2 390.5h0M92.9 383.0h0M120.2 399.8h0M118.6 383.7h0M121.1 385.7h0M115.6 381.3h0M118.7 369.9h0M116.4 393.7h0M121.8 377.3h0M108.1 398.5h0M121.0 374.3h0M108.7 366.4h0M106.7 373.0h0M116.6 383.4h0M118.4 385.6h0M102.5 395.5h0M118.9 364.4h0M118.4 386.5h0M118.2 386.4h0M119.4 362.1h0M117.7 393.9h0M121.3 385.5h0M122.0 389.9h0M110.1 368.6h0M115.3 394.8h0M119.9 387.6h0M114.3 375.1h0M116.6 348.1h0M117.7 369.8h0M105.0 397.9h0M121.5 398.9h0M116.7 365.8h0M118.8 383.4h0M119.0 395.9h0M98.1 396.6h0M104.5 390.3h0M114.8 382.3h0M121.3 398.1h0M119.3 395.2h0M113.2 388.9h0M112.9 382.5h0M115.1 361.0h0M116.4 371.6h0M121.9 374.9h0M121.2 392.5h0M117.5 381.9h0M117.6 393.7h0M111.9 363.1h0M119.3 383.8h0M121.6 363.9h0M120.6 390.9h0M117.0 393.1h0M109.0 387.6h0M121.7 398.4h0M117.2 398.6h0M112.5 400.9h0M122.0 359.7h0M120.3 358.5h0M112.2 394.8h0M121.7 395.2h0M120.4 399.8h0M120.4 377.3h0M121.6 385.9h0M121.3 388.8h0M119.6 383.5h0M115.8 393.2h0M119.2 351.0h0M118.7 394.7h0M119.4 379.0h0M120.6 365.8h0M105.8 398.0h0M117.4 366.9h0M116.9 359.5h0M113.4 387.2h0M102.2 377.4h0M121.3 391.6h0M114.4 387.3h0M119.1 400.8h0M113.2 397.2h0M120.9 397.3h0M119.2 391.7h0M118.0 369.1h0M107.8 388.0h0M111.1 386.6h0M119.9 379.7h0M114.4 370.2h0M120.7 384.2h0M120.3 392.3h0M97.7 396.0h0M118.5 394.6h0M116.2 379.7h0M121.7 389.9h0M112.7 386.7h0M116.8 375.0h0M120.5 379.7h0M114.5 362.9h0M121.8 370.6h0M109.5 374.4h0M114.6 400.7h0M113.3 396.5h0M103.8 366.6h0M121.5 380.1h0M121.7 397.9h0M112.3 400.0h0M121.9 401.3h0M120.6 373.2h0M114.0 396.0h0M111.2 387.8h0M107.4 389.1h0M121.6 392.2h0M117.3 374.0h0M114.3 391.7h0M121.2 385.9h0M120.7 398.6h0M120.8 363.5h0M119.1 398.7h0M120.1 376.9h0M94.3 402.0h0M114.2 364.7h0M118.0 379.7h0M114.4 384.1h0M99.5 380.2h0M119.0 371.7h0M120.4 377.0h0M119.8 363.1h0M111.6 375.5h0M117.0 353.8h0M117.8 388.8h0M121.2 391.2h0M118.2 377.2h0M119.8 394.3h0M119.7 358.1h0M121.5 379.9h0M121.3 363.2h0M119.1 376.4h0M118.2 375.4h0M110.9 373.2h0M114.9 372.1h0M121.0 371.3h0M112.3 388.5h0M120.4 396.8h0M116.9 394.5h0M118.7 387.1h0M121.3 341.7h0M110.6 400.1h0M119.2 395.0h0M117.5 347.1h0M108.2 389.5h0M121.5 396.9h0M119.8 385.8h0M120.6 377.0h0M112.7 373.3h0M121.9 372.7h0M98.5 386.9h0M111.6 382.5h0M112.3 382.8h0M113.5 400.7h0M112.0 392.5h0M109.6 395.0h0M115.6 374.2h0M116.5 361.5h0M107.2 384.2h0M119.2 386.1h0M104.5 387.0h0M121.7 383.2h0M118.7 380.3h0M115.8 377.5h0M108.8 399.5h0M119.5 381.3h0M105.2 386.3h0M122.0 401.7h0M120.5 393.4h0M121.8 388.6h0M118.9 377.1h0M121.5 401.6h0M104.9 375.4h0M119.6 362.8h0M116.5 365.3h0M118.7 400.8h0M99.9 388.6h0M108.6 386.0h0M117.4 383.6h0M120.4 390.7h0M117.8 390.3h0M93.3 380.6h0M121.6 398.6h0M117.6 384.1h0M112.0 401.3h0M121.0 381.0h0M113.4 376.9h0M113.9 387.9h0M118.9 386.2h0M93.7 384.8h0M118.5 369.1h0M112.0 400.1h0M121.0 392.1h0M120.9 391.1h0M119.9 342.7h0M119.9 382.8h0M100.2 398.1h0M121.7 390.8h0M114.9 374.2h0M114.0 367.2h0M108.7 399.0h0M117.0 392.1h0M120.3 378.6h0M121.1 400.5h0M120.3 358.4h0M97.5 374.4h0M93.1 401.0h0M120.0 369.7h0M120.6 390.1h0M111.0 397.5h0M121.4 390.7h0M111.8 364.5h0M120.4 382.4h0M113.7 369.5h0M117.5 364.8h0M102.3 394.1h0M120.8 386.2h0M119.4 370.8h0M121.1 359.1h0M110.0 374.8h0M117.8 389.9h0M121.8 356.6h0M119.3 377.2h0M120.8 401.1h0M118.4 384.5h0M121.4 389.2h0M120.0 390.9h0M121.4 394.1h0M118.9 399.8h0M116.2 361.0h0M116.7 367.3h0M108.9 387.2h0M117.0 397.5h0M119.7 376.2h0M120.2 383.1h0M119.4 377.5h0M109.4 365.3h0M120.8 388.8h0M111.7 399.9h0M121.8 376.1h0M118.2 387.0h0M101.7 395.2h0M117.6 364.5h0M121.2 398.1h0M115.9 360.8h0M111.4 399.5h0M108.6 375.1h0M119.3 366.9h0M109.9 369.8h0M102.1 392.1h0M116.5 357.1h0M107.0 368.7h0M115.5 397.3h0M120.8 368.5h0M117.9 398.2h0M99.1 397.1h0M121.6 377.3h0M101.7 378.6h0M121.9 383.2h0M114.0 391.4h0M116.9 344.3h0M119.9 362.7h0M117.6 362.6h0M118.1 367.6h0M121.4 382.6h0M117.9 388.7h0M121.1 372.9h0M118.9 382.9h0M104.4 381.9h0M116.9 390.6h0M105.7 391.4h0M120.4 396.1h0M121.2 378.8h0M117.4 358.5h0M113.9 379.1h0M119.8 393.6h0M116.3 389.0h0M120.7 395.5h0M119.8 373.8h0M120.7 379.8h0M97.8 378.4h0M113.4 372.1h0M121.2 386.9h0M121.8 401.2h0M116.5 373.9h0M116.2 399.3h0M116.6 398.4h0M121.1 384.6h0M113.1 376.9h0M119.5 400.9h0M117.5 364.6h0M113.4 401.1h0M113.0 379.6h0M114.4 383.1h0M120.0 370.5h0M122.0 398.5h0M119.2 392.3h0M120.2 383.3h0M116.5 363.4h0M118.9 382.7h0M121.3 399.0h0M117.7 401.8h0M118.3 402.0h0M117.3 385.0h0M112.5 362.6h0M119.1 388.4h0M113.4 383.3h0M120.6 385.5h0M118.9 400.4h0M119.6 397.6h0M119.9 377.8h0M104.7 366.2h0M111.7 391.0h0M116.6 369.0h0M119.1 359.6h0M109.7 398.2h0M116.6 363.1h0M114.4 397.0h0M111.3 371.3h0M118.2 393.9h0M121.8 385.0h0M121.5 392.9h0M121.8 382.0h0M120.7 382.8h0M96.6 383.2h0M112.2 383.9h0M119.7 377.8h0M100.8 388.0h0M121.5 365.8h0M115.5 377.8h0M113.6 396.4h0M118.0 383.8h0M117.4 384.2h0M108.1 394.4h0M118.1 398.5h0M121.4 359.1h0M118.6 397.4h0M112.9 396.2h0M117.7 370.9h0M119.6 382.1h0M121.9 366.1h0M120.3 385.1h0M122.0 365.0h0M117.4 401.6h0M116.9 388.7h0M121.1 364.0h0M120.5 395.9h0M120.8 401.8h0M120.5 399.0h0M106.7 382.3h0M119.9 391.4h0M115.2 397.9h0M121.7 393.4h0M99.3 383.6h0M121.8 358.3h0M119.1 399.6h0M110.0 360.7h0M117.1 359.5h0M106.5 394.9h0M120.2 370.1h0M122.0 400.0h0M96.8 385.9h0M117.7 375.7h0M109.2 388.4h0M118.1 368.4h0M121.4 392.6h0M120.7 400.1h0M120.3 373.8h0M117.7 357.4h0M118.0 378.3h0M119.6 369.2h0M119.8 396.4h0M98.5 369.6h0M119.5 398.5h0M118.4 361.9h0M120.7 395.2h0M96.7 387.5h0M118.1 360.1h0M112.7 352.6h0M108.2 393.3h0M103.6 400.1h0M116.7 401.2h0M117.1 371.2h0M121.6 401.7h0M121.6 396.4h0M120.6 400.7h0M102.2 399.8h0M119.7 381.2h0M120.6 364.8h0M118.1 376.4h0M111.4 391.7h0M109.8 368.8h0M117.2 364.7h0M114.5 363.6h0M115.8 382.3h0M120.6 370.1h0M120.3 357.8h0M113.6 393.7h0M119.4 390.2h0M104.8 387.3h0M116.9 373.1h0M121.7 381.6h0M110.3 382.4h0M118.8 396.9h0M114.9 367.8h0M121.8 369.6h0M121.4 388.6h0M120.6 393.7h0M120.2 390.7h0M112.5 388.5h0M120.9 374.5h0M120.7 358.7h0M115.2 376.4h0M117.6 386.2h0" stroke="#F8575A" stroke-width="2.2" stroke-linecap="round" fill="none"/><path d="M96.2 316.3h0M96.6 337.4h0M93.6 340.4h0M80.2 340.4h0M98.8 349.6h0M76.3 378.4h0M80.6 384.3h0" stroke="#F8575A" stroke-width="2.2" stroke-linecap="round" fill="none"/><path d="M142.8 385.8h0M146.9 367.1h0M145.3 384.2h0M140.6 355.4h0M157.2 366.3h0M151.6 360.6h0M149.1 373.4h0M140.5 371.9h0M148.1 373.0h0M155.3 362.0h0M140.5 362.3h0M179.9 346.5h0M157.6 372.3h0M150.2 374.5h0M140.5 350.3h0M154.5 369.6h0M141.2 399.1h0M157.3 333.3h0M155.8 362.2h0M142.5 343.7h0M143.0 375.8h0M173.2 401.0h0M143.4 361.7h0M171.4 372.5h0M145.2 391.7h0M155.9 387.4h0M143.5 350.6h0M140.4 400.2h0M143.8 350.3h0M150.9 351.9h0M149.2 358.4h0M148.9 393.2h0M162.3 359.7h0M140.8 320.8h0M145.9 349.7h0M154.0 367.4h0M142.4 353.0h0M155.9 381.8h0M148.7 402.0h0M154.1 394.2h0M148.2 350.1h0M165.0 383.6h0M152.0 382.4h0M148.0 376.1h0M152.3 388.5h0M143.0 365.8h0M145.3 377.4h0M141.0 342.0h0M144.7 394.6h0M141.3 381.0h0M140.9 389.0h0M144.4 381.1h0M159.8 350.6h0M141.7 387.1h0M144.0 343.8h0M157.7 398.4h0M147.1 369.2h0M143.6 360.0h0M150.0 363.6h0M146.6 398.7h0M155.8 365.3h0M150.1 393.1h0M141.5 366.3h0M141.0 360.8h0M150.5 395.8h0M140.8 356.8h0M140.4 399.3h0M153.8 366.4h0M143.5 350.1h0M143.7 400.5h0M146.8 382.6h0M176.0 398.3h0M143.2 343.4h0M141.6 355.7h0M165.2 390.5h0M141.5 362.5h0M144.0 398.7h0M156.4 401.3h0M166.5 359.3h0M150.2 378.1h0M144.4 396.4h0M154.1 400.2h0M175.0 394.5h0M150.8 362.5h0M141.4 400.4h0M147.7 380.9h0M142.7 397.7h0M164.2 383.7h0M167.0 387.9h0M141.5 382.9h0M151.7 389.6h0M141.8 389.4h0M143.1 382.0h0M141.6 348.3h0M151.3 366.6h0M143.9 349.6h0M142.8 396.6h0M145.9 395.6h0M143.9 378.7h0M151.1 353.8h0M144.6 370.5h0M149.4 400.0h0M151.4 359.4h0M147.7 348.3h0M145.8 384.1h0M143.5 382.3h0M144.7 389.6h0M154.9 357.6h0M154.6 364.8h0M142.6 395.3h0M153.9 395.7h0M148.4 399.2h0M173.9 396.1h0M153.5 352.6h0M140.6 391.1h0M141.1 352.4h0M143.8 390.8h0M150.8 389.6h0M151.7 372.8h0M160.1 338.1h0M151.2 398.7h0M142.0 366.8h0M142.6 383.6h0M166.2 383.2h0M146.1 392.5h0M145.4 384.9h0M148.6 394.7h0M157.1 399.6h0M145.7 370.2h0M140.8 348.7h0M142.6 371.0h0M150.2 347.2h0M164.7 401.7h0M144.1 390.6h0M142.5 380.6h0M140.9 315.2h0M140.5 386.8h0M141.7 380.8h0M142.1 392.8h0M153.5 399.4h0M143.7 398.2h0M149.4 355.1h0M152.1 380.8h0M142.6 380.4h0M153.4 359.9h0M145.0 389.5h0M157.6 362.6h0M153.8 391.6h0M142.7 338.7h0M172.0 396.7h0M146.8 353.2h0M144.6 385.8h0M140.9 380.0h0M155.9 390.4h0M147.8 388.8h0M151.8 398.7h0M173.7 365.5h0M152.6 378.0h0M144.2 387.4h0M143.1 348.8h0M145.6 381.4h0M140.6 373.6h0M145.8 374.8h0M154.2 357.7h0M148.4 375.2h0M141.8 378.4h0M145.0 391.8h0M154.3 395.4h0M161.1 387.5h0M159.2 332.7h0M175.5 384.1h0M148.6 356.0h0M159.4 362.1h0M146.3 343.6h0M146.0 400.4h0M146.4 359.9h0M144.0 396.8h0M170.0 394.2h0M147.2 385.9h0M175.5 363.0h0M143.1 389.6h0M141.3 392.7h0M143.5 376.3h0M152.0 394.7h0M142.5 400.9h0M143.7 368.6h0M165.4 378.5h0M143.1 391.6h0M147.0 338.0h0M142.6 377.1h0M165.4 371.4h0M149.4 363.0h0M145.7 366.3h0M141.8 397.7h0M140.6 400.2h0M147.8 348.6h0M157.3 321.1h0M178.9 377.6h0M166.7 398.4h0M162.2 372.8h0M146.0 400.9h0M148.8 359.0h0M141.8 399.8h0M144.1 323.0h0M146.7 379.7h0M141.4 366.0h0M142.1 368.1h0M179.3 339.6h0M143.2 387.3h0M141.1 396.3h0M141.5 353.9h0M147.9 363.0h0M142.2 396.1h0M142.0 351.9h0M145.4 391.3h0M148.5 360.2h0M140.7 373.6h0M143.1 371.2h0M156.6 345.5h0M141.1 382.4h0M140.6 390.7h0M142.6 363.5h0M146.0 401.2h0M147.3 351.8h0M165.1 379.5h0M160.6 369.9h0M153.9 353.6h0M142.2 344.6h0M144.2 377.4h0M146.5 330.2h0M145.0 379.5h0M162.4 369.0h0M154.8 375.0h0M156.6 388.7h0M142.9 316.8h0M147.9 369.1h0M152.5 393.6h0M144.9 369.2h0M152.1 378.1h0M144.8 392.7h0M152.4 380.3h0M148.8 386.0h0M145.1 371.0h0M174.1 363.0h0M155.9 361.9h0M164.3 350.4h0M141.3 401.8h0M148.6 398.9h0M165.8 392.8h0M157.2 323.8h0M151.5 381.2h0M145.9 400.4h0M151.9 399.2h0M143.1 371.8h0M145.6 373.3h0M158.2 394.8h0M143.0 355.1h0M141.6 386.8h0M143.2 330.1h0M159.6 396.8h0M145.6 384.3h0M140.8 347.7h0M165.6 352.9h0M154.5 355.5h0M182.1 396.7h0M142.1 368.4h0M160.6 390.5h0M155.2 399.5h0M142.7 370.1h0M145.9 364.5h0M141.0 351.6h0M145.7 370.3h0M142.6 374.4h0M142.0 394.4h0M141.6 384.6h0M145.3 401.6h0M142.4 361.6h0M146.6 362.8h0M140.6 356.8h0M145.7 363.2h0M142.8 379.8h0M155.3 379.6h0M145.4 380.9h0M151.4 387.9h0M153.6 371.9h0M146.4 328.5h0M171.8 392.3h0M177.9 350.9h0M144.4 353.7h0M146.1 339.1h0M164.4 394.6h0M145.8 392.4h0M159.2 360.2h0M146.1 398.7h0M142.5 332.5h0M143.0 398.3h0M149.4 349.2h0M150.9 383.9h0M142.9 320.0h0M142.6 358.6h0M142.4 395.6h0M149.5 333.9h0M157.6 352.6h0M153.8 383.3h0M153.5 383.2h0M148.2 389.6h0M150.3 388.0h0M157.2 399.5h0M142.0 399.1h0M142.3 362.3h0M143.9 368.5h0M143.7 358.8h0M147.4 375.1h0M147.5 363.2h0M143.0 393.9h0M143.0 378.3h0M170.3 363.9h0M144.9 383.5h0M144.0 400.4h0M154.6 388.1h0M182.4 366.2h0M163.5 373.5h0M144.4 394.3h0M144.4 348.6h0M149.1 376.2h0M155.7 357.6h0M142.2 366.4h0M144.7 347.7h0M143.4 375.0h0M141.8 352.4h0M140.9 395.3h0M141.9 343.7h0M142.7 349.8h0M151.8 356.8h0M166.7 358.9h0M145.2 352.2h0M161.9 365.5h0M152.1 338.5h0M140.4 341.8h0M164.9 389.2h0M151.8 382.9h0M177.5 379.4h0M148.8 349.8h0M149.9 380.2h0M153.7 395.3h0M145.1 395.7h0M145.3 390.2h0M162.5 366.1h0M149.9 398.2h0M142.1 369.7h0M151.1 374.0h0M140.9 382.2h0M157.2 371.3h0M142.7 399.8h0M145.9 345.6h0M145.0 396.1h0M156.5 399.1h0M143.0 384.7h0M141.4 370.8h0M152.5 359.9h0M140.6 370.7h0M160.0 379.8h0M140.5 347.5h0M164.2 361.5h0M151.3 384.6h0M158.3 364.6h0M142.7 394.8h0M141.6 372.9h0M141.8 360.4h0M158.8 394.6h0M145.2 378.6h0M158.9 393.1h0M160.3 382.5h0M147.8 334.1h0M141.4 391.3h0M145.3 397.4h0M142.5 353.3h0M150.4 388.9h0M142.5 364.4h0M148.8 389.8h0M144.9 377.0h0M141.1 394.8h0M145.5 384.8h0M144.7 378.2h0M143.5 389.3h0M152.3 368.7h0M162.6 388.6h0M141.8 324.4h0M143.0 371.3h0M140.7 400.0h0M156.1 374.4h0M142.2 331.7h0M175.4 392.8h0M148.2 363.0h0M179.0 398.5h0M148.4 372.8h0M182.0 389.8h0M149.6 363.8h0M140.4 345.2h0M146.5 322.6h0M141.5 361.1h0M141.1 359.8h0M148.4 366.5h0M144.2 374.9h0M140.6 362.3h0M143.6 376.7h0M147.9 360.6h0M143.4 377.8h0M148.6 362.1h0M142.0 341.9h0M146.7 401.6h0M141.5 364.0h0M142.5 396.8h0M143.8 399.4h0M141.4 348.7h0M146.8 382.6h0M140.4 399.0h0M165.3 369.4h0M163.7 399.1h0M175.7 379.0h0M143.0 396.1h0M144.8 391.4h0M140.8 347.4h0M150.2 388.1h0M150.8 380.3h0M142.3 378.8h0M140.5 345.8h0M141.1 357.7h0M146.8 372.3h0M140.4 345.6h0M152.1 374.2h0M141.8 354.0h0M180.8 344.3h0M142.6 378.2h0M154.3 379.5h0M158.7 382.5h0M154.5 353.7h0M157.1 390.0h0M148.5 321.5h0M143.1 397.1h0M152.7 396.9h0M175.2 376.2h0M151.5 400.3h0M147.1 362.0h0M167.6 372.2h0M162.5 349.9h0M143.8 346.7h0M140.8 336.8h0M158.4 401.0h0M151.5 371.0h0M152.6 379.9h0M179.8 358.7h0M146.2 375.9h0M169.3 385.7h0M153.7 372.1h0M161.0 357.0h0M142.6 368.9h0M143.1 400.8h0M144.8 377.3h0M162.5 394.7h0M141.3 360.0h0M143.7 393.2h0M162.4 355.7h0M147.2 395.2h0M143.0 395.5h0M172.0 393.4h0M154.4 369.6h0M145.0 365.5h0M153.8 382.8h0M142.5 393.4h0M152.1 398.8h0M143.0 396.8h0M163.7 362.4h0M141.0 348.0h0M143.1 372.2h0M146.7 323.4h0M147.5 318.6h0M142.6 361.7h0M146.6 380.5h0M145.1 385.3h0M142.8 366.9h0M146.0 350.2h0M149.5 377.1h0M140.4 348.9h0M172.1 388.1h0M143.8 396.5h0M147.5 356.6h0M141.3 345.8h0M146.4 395.0h0M155.1 355.9h0M167.0 351.8h0M141.3 352.0h0M143.3 387.0h0M143.8 388.6h0M141.4 383.4h0M173.4 370.8h0M154.2 357.8h0M143.6 348.0h0M144.5 381.3h0M151.0 349.1h0M143.6 387.8h0M152.3 401.3h0M144.0 370.0h0M141.1 365.8h0M154.0 356.2h0M141.2 396.1h0M143.7 387.9h0M165.5 359.0h0M166.9 387.2h0M169.1 364.1h0M141.9 399.3h0M158.8 351.0h0M142.9 360.0h0M146.1 381.2h0M140.8 390.1h0M142.4 361.6h0M146.4 379.2h0M182.7 397.2h0M143.7 353.3h0M147.3 368.7h0M148.1 348.7h0M141.3 388.7h0M145.0 345.0h0M144.0 361.7h0M148.8 400.5h0M142.6 391.7h0M152.3 384.5h0M155.5 400.2h0M140.4 378.6h0M144.2 382.7h0M166.9 394.6h0M144.8 399.1h0M170.4 362.1h0M155.2 399.4h0M143.7 389.8h0M161.3 401.9h0M143.4 349.7h0M146.4 376.3h0M147.3 389.7h0M170.0 380.1h0M154.7 389.7h0M146.1 379.6h0M177.1 365.9h0M146.3 401.4h0M148.1 352.9h0M158.1 382.2h0M162.3 334.9h0M143.4 367.9h0M144.1 378.9h0M149.0 352.9h0M156.2 376.7h0M151.5 396.7h0M147.6 384.3h0M164.8 391.4h0M148.4 336.6h0M141.1 388.3h0M146.2 400.6h0M144.6 353.1h0M142.5 353.8h0M159.8 396.7h0M172.4 381.1h0M141.6 366.7h0M150.3 380.5h0M154.9 370.5h0M141.1 351.5h0M156.8 365.9h0M150.9 393.5h0M153.9 401.4h0M144.2 331.7h0M146.7 386.6h0M143.2 386.0h0M149.3 387.0h0M142.2 376.9h0M149.7 337.2h0M141.8 341.6h0M142.1 387.9h0M154.7 376.6h0M146.3 346.8h0M172.6 389.7h0M150.1 386.0h0M145.6 358.6h0M144.7 389.2h0M143.5 368.6h0M152.2 378.4h0M142.8 363.7h0M143.6 386.4h0M145.0 356.0h0M157.0 387.3h0M144.0 353.2h0M157.5 349.5h0M142.9 379.0h0M144.7 344.5h0M148.3 402.1h0M141.7 363.6h0M142.9 356.2h0M140.6 385.5h0M168.1 382.6h0M147.2 364.3h0M140.5 385.6h0M147.0 381.8h0M141.0 392.1h0M145.2 355.6h0M142.7 342.9h0M170.1 385.6h0M156.5 364.3h0M143.0 370.4h0M160.2 390.6h0M148.8 394.9h0M156.3 362.2h0M157.8 374.4h0M145.6 392.0h0M143.2 377.6h0M150.1 383.8h0M178.4 390.4h0M142.2 384.8h0M149.6 392.4h0M140.5 367.9h0M166.9 392.2h0M142.0 377.1h0M144.5 375.7h0M140.9 389.7h0M143.8 389.6h0M154.9 359.0h0M156.3 355.3h0M166.4 377.1h0M144.1 359.7h0M163.7 384.1h0M157.9 377.3h0M152.6 402.1h0M141.4 377.8h0M143.9 356.1h0M149.5 394.0h0M140.4 376.8h0M144.9 395.2h0M144.4 370.8h0M143.7 342.3h0M142.5 349.6h0M143.8 365.3h0M145.1 358.6h0M141.3 398.0h0M147.5 396.8h0M168.7 349.2h0M147.2 362.6h0M151.7 401.1h0M152.9 357.5h0M163.4 360.5h0M142.5 384.5h0M149.6 381.0h0M172.4 370.1h0M142.4 360.6h0M142.4 381.7h0M145.3 347.3h0M153.3 386.3h0M142.4 386.7h0M140.4 324.1h0M145.5 380.3h0M157.6 374.4h0M142.6 351.1h0M147.8 381.5h0M142.1 363.7h0M166.7 342.7h0M164.2 342.7h0M141.1 396.9h0M154.7 356.5h0M151.9 394.1h0M164.0 382.7h0M143.1 374.5h0M147.6 332.8h0M142.1 345.2h0M152.6 397.7h0" stroke="#5A8DF5" stroke-width="2.2" stroke-linecap="round" fill="none"/><path d="M159.3 300.8h0M175.8 300.8h0M174.5 319.2h0M182.3 327.4h0M188.3 341.4h0M194.4 385.8h0M193.1 397.6h0" stroke="#5A8DF5" stroke-width="2.2" stroke-linecap="round" fill="none"/></g>
<g><path d="M330.0 162.1h0M336.8 171.6h0M331.9 163.2h0M321.8 173.4h0M337.3 167.2h0M346.3 178.9h0M329.2 172.4h0M336.4 170.3h0M337.3 171.5h0M340.3 175.3h0M342.5 166.1h0M337.2 176.0h0M344.4 171.8h0M346.4 175.2h0M321.9 173.5h0M338.4 165.4h0M324.0 162.5h0M326.5 165.2h0M340.9 173.3h0M328.7 173.1h0M320.6 173.2h0M330.0 165.1h0M339.1 173.4h0M344.9 161.8h0M337.7 174.9h0M334.5 171.4h0M331.3 166.2h0M345.5 164.5h0M317.5 162.0h0M340.2 164.9h0M345.9 174.3h0M339.8 176.1h0M317.9 172.5h0M347.6 170.1h0M338.2 171.7h0M335.6 173.6h0M343.0 163.2h0M319.3 168.3h0M338.1 161.8h0M312.8 162.3h0M337.1 161.8h0M335.0 162.1h0M340.7 164.0h0M334.1 169.1h0M343.8 168.7h0M324.9 167.7h0M341.7 164.9h0M341.9 161.8h0M345.8 172.8h0M312.2 161.9h0M335.9 168.2h0M331.1 162.6h0M315.5 164.7h0M331.3 165.4h0M340.6 174.0h0M335.0 174.9h0M340.8 165.8h0M347.6 163.6h0M310.8 166.1h0M325.9 166.1h0M333.3 173.1h0M345.8 176.2h0M322.8 164.7h0M326.9 169.3h0M346.8 162.8h0M345.9 167.1h0M341.6 163.6h0M345.6 167.4h0M323.4 165.0h0M340.9 175.0h0M347.3 169.1h0M346.7 165.6h0M340.1 172.5h0M341.4 161.9h0M346.8 176.8h0M344.0 175.6h0M336.9 164.0h0M344.4 166.0h0M335.5 165.3h0M346.2 172.9h0M340.8 168.1h0M342.2 176.4h0M327.1 171.5h0M331.0 172.0h0M339.8 176.2h0M309.6 166.6h0M339.3 164.5h0M343.7 166.2h0M308.8 161.8h0M346.4 179.1h0M347.3 166.9h0M341.8 167.5h0M321.7 163.6h0M336.4 166.3h0M347.5 171.0h0M330.2 169.3h0M319.9 170.2h0M334.5 168.1h0M340.5 171.9h0M334.2 165.3h0M317.4 162.1h0M342.0 175.6h0M332.4 172.8h0M347.9 175.9h0M325.9 170.9h0M337.7 163.4h0M328.7 163.3h0M340.7 168.3h0M335.7 170.9h0M345.1 169.3h0M332.6 166.6h0M347.4 177.4h0M331.7 167.2h0M330.3 171.7h0M346.2 177.6h0M313.5 167.9h0M342.1 168.2h0M342.5 174.6h0M327.2 165.4h0M335.7 172.6h0M333.9 169.8h0M326.8 167.8h0M318.4 165.0h0M337.8 171.3h0M347.0 169.1h0M342.3 163.9h0M346.9 163.8h0M331.3 165.2h0M345.8 176.4h0M346.5 165.7h0M346.6 168.0h0M344.9 167.0h0M319.0 171.8h0M336.0 167.1h0M333.9 172.3h0M334.2 169.9h0M347.8 174.7h0M342.0 174.8h0M345.3 171.7h0M332.2 164.4h0M348.0 178.2h0M333.1 171.8h0M319.3 161.9h0M343.4 163.3h0M333.4 171.8h0M328.1 169.3h0M342.9 166.3h0M325.0 165.0h0M347.5 169.1h0M342.6 176.0h0M342.8 173.7h0M348.0 170.7h0M323.7 166.7h0M339.5 164.1h0M345.2 167.8h0M348.1 177.2h0M345.8 166.9h0M342.5 163.5h0M339.8 162.2h0M341.8 165.9h0M347.3 167.6h0M332.3 171.2h0M332.6 169.9h0M331.0 173.2h0M347.1 176.1h0M331.1 173.1h0M346.9 167.7h0M345.9 172.8h0M346.0 172.9h0M340.6 163.7h0M339.8 164.1h0M336.6 167.8h0M339.3 167.5h0M344.2 176.8h0M346.4 175.3h0M338.3 174.9h0M341.4 176.7h0M346.0 168.4h0M307.0 168.1h0M332.0 162.8h0M334.0 174.4h0M342.2 166.9h0M336.1 170.3h0M326.4 172.7h0M335.6 174.8h0M333.1 171.3h0M329.7 171.4h0M340.6 167.1h0M344.9 163.0h0M312.9 162.7h0M345.7 176.4h0M326.9 164.3h0M321.2 169.3h0M340.0 164.0h0M343.2 171.7h0M343.1 173.5h0M341.3 176.5h0M342.3 176.9h0M344.9 172.2h0M328.6 163.1h0M343.3 170.3h0M347.4 172.7h0M338.3 173.4h0M342.7 174.3h0M338.7 163.1h0M317.0 162.3h0M345.2 176.2h0M341.5 168.5h0M324.5 167.8h0M344.2 162.4h0M319.8 167.3h0M325.2 166.1h0M332.2 164.9h0M342.5 163.9h0M347.2 171.8h0M347.4 177.8h0M341.3 176.5h0M313.5 168.0h0M321.6 170.2h0M328.0 168.4h0M344.3 162.8h0M343.8 178.0h0M337.4 167.0h0M336.7 165.3h0M344.8 177.4h0M347.8 169.9h0M329.9 168.8h0M340.0 168.1h0M336.7 168.9h0M343.1 172.6h0M316.1 167.2h0M345.7 177.8h0M327.5 169.7h0M327.8 168.3h0M329.5 169.8h0M329.6 173.1h0M316.9 166.4h0M343.8 173.7h0M310.0 164.6h0M327.3 171.1h0M325.8 170.3h0M345.9 162.4h0M340.7 171.6h0M342.1 164.6h0M320.1 163.1h0M345.7 173.3h0M345.3 174.3h0M334.8 175.2h0M316.3 171.3h0M342.6 168.2h0M343.7 171.8h0M345.9 169.1h0M328.4 165.6h0M343.2 176.8h0M340.7 168.0h0M332.8 172.7h0M334.3 163.9h0M341.0 172.5h0M330.3 172.6h0M343.8 171.5h0" stroke="#8F9AAD" stroke-width="2.2" stroke-linecap="round" fill="none"/><path d="M379.0 167.1h0M391.8 170.7h0M378.3 170.7h0M374.0 169.8h0M376.8 175.3h0M382.5 162.1h0M380.9 164.9h0M392.6 169.9h0M376.0 162.2h0M378.6 165.7h0M373.8 176.3h0M375.8 175.4h0M372.2 169.0h0M372.1 162.2h0M375.9 173.3h0M381.8 163.6h0M380.8 173.8h0M381.2 171.3h0M385.1 172.9h0M372.7 164.3h0M376.0 164.6h0M381.1 174.3h0M373.3 166.0h0M385.5 161.9h0M377.1 167.6h0M372.7 173.0h0M373.7 163.2h0M390.0 165.8h0M378.3 167.0h0M374.8 169.6h0M375.2 172.9h0M375.1 175.3h0M378.7 163.5h0M389.6 165.5h0M374.9 172.9h0M381.0 164.5h0M379.9 171.6h0M386.8 168.3h0M390.3 164.6h0M379.5 163.3h0M380.3 164.1h0M372.7 161.9h0M384.9 165.8h0M372.3 177.6h0M379.8 169.2h0M380.7 164.5h0M382.6 165.5h0M379.4 166.7h0M382.8 165.4h0M374.0 169.6h0M395.2 163.8h0M374.9 175.0h0M383.4 164.3h0M372.3 171.5h0M382.7 164.1h0M372.5 163.7h0M377.9 162.1h0M380.7 169.0h0M373.4 161.8h0M372.6 173.1h0M375.9 163.6h0M390.7 162.6h0M373.3 166.7h0M373.0 170.1h0M395.3 161.9h0M381.0 164.3h0M373.1 166.3h0M380.1 162.6h0M372.5 175.7h0M386.1 170.8h0M378.4 163.7h0M385.8 161.9h0M386.9 162.8h0M373.0 173.7h0M378.6 163.2h0M372.3 165.6h0M384.6 170.1h0M371.9 171.1h0M383.5 166.4h0M379.8 171.8h0M391.0 164.1h0M373.2 168.7h0M393.8 162.8h0M375.0 176.3h0M379.5 162.2h0M378.2 172.6h0M373.7 172.5h0M391.0 171.2h0M394.5 170.1h0M379.4 168.9h0M372.2 169.8h0M390.4 170.7h0M386.6 166.4h0M379.8 163.6h0M374.6 164.3h0M378.2 168.4h0M376.9 173.0h0M379.2 171.7h0M379.8 167.7h0M379.8 169.2h0M372.5 171.6h0M372.4 168.8h0M378.7 162.0h0M376.6 175.7h0M377.5 172.5h0M381.8 173.7h0M392.2 163.2h0M380.1 166.2h0M377.6 162.9h0M385.2 171.1h0" stroke="#8F9AAD" stroke-width="2.2" stroke-linecap="round" fill="none"/><path d="M373.7 166.5h0M363.8 163.4h0M352.7 168.4h0M369.7 166.3h0M348.4 162.7h0M369.7 173.0h0M352.5 177.3h0M373.9 167.4h0M344.5 162.7h0M364.3 174.2h0M378.5 170.3h0M342.6 175.0h0M362.6 180.8h0M352.3 178.2h0M370.9 164.3h0M346.3 165.9h0M366.2 167.0h0M365.9 163.6h0M386.1 173.1h0M366.0 165.3h0M364.2 164.4h0M372.6 170.8h0M359.7 170.2h0M343.5 172.0h0M366.0 178.4h0M349.0 172.8h0M349.7 178.9h0M364.5 167.6h0M370.7 166.0h0M367.0 174.9h0M342.2 170.7h0M364.9 176.2h0M352.5 167.4h0M365.8 170.0h0M355.4 175.8h0M354.2 171.2h0M365.9 164.3h0M360.7 176.4h0M356.1 165.6h0M348.6 177.7h0M358.6 180.0h0M366.2 162.9h0M361.2 180.0h0M372.9 174.9h0M368.3 180.0h0M357.6 178.7h0M351.5 175.7h0M364.8 161.8h0M384.1 167.3h0M357.3 179.2h0M342.2 168.5h0M359.8 173.3h0M366.4 166.3h0M369.3 180.5h0M382.5 167.4h0M351.2 168.0h0M361.5 180.8h0M364.3 163.6h0M363.2 171.6h0M359.5 176.6h0M382.4 171.2h0M358.6 178.5h0M344.5 166.0h0M365.4 173.7h0M363.3 177.9h0M353.7 167.3h0M359.6 169.9h0M349.8 167.0h0M371.6 178.1h0M357.5 179.6h0M366.9 180.1h0M364.2 163.3h0M355.8 177.0h0M373.1 173.9h0M355.9 162.8h0M355.1 170.1h0M365.2 171.4h0M363.9 166.2h0M358.9 175.6h0M356.1 178.1h0M379.5 172.1h0M349.3 164.3h0M353.4 164.0h0M346.7 177.3h0M353.8 171.7h0M354.6 163.2h0M375.2 163.5h0M347.0 167.2h0M363.4 175.4h0M363.2 175.4h0M363.8 161.8h0M369.1 177.0h0M348.4 163.3h0M345.7 177.2h0M353.1 169.8h0M346.5 173.2h0M353.0 167.4h0M363.9 164.4h0M346.2 164.3h0M349.4 177.8h0M363.5 176.2h0M364.7 178.9h0M353.7 167.2h0M351.8 165.4h0M378.2 166.2h0M366.1 161.9h0M347.1 174.2h0M359.0 180.4h0M365.8 170.0h0M351.4 165.9h0M362.0 177.5h0M354.0 169.7h0M356.8 166.9h0M369.0 180.1h0M359.2 172.3h0M373.3 177.9h0M356.4 176.5h0M369.6 176.1h0M341.4 163.4h0M365.6 162.8h0M364.7 161.8h0M369.5 180.0h0M365.9 162.1h0M362.0 178.8h0M344.5 161.8h0M367.1 165.0h0M373.7 165.3h0M364.1 173.1h0M354.1 163.5h0M368.3 179.6h0M365.2 164.9h0M375.3 175.0h0M378.6 170.4h0M364.9 170.5h0M365.5 162.8h0M375.3 176.5h0M367.9 173.3h0M351.1 175.3h0M368.6 180.5h0M357.6 175.0h0M374.7 166.5h0M339.9 172.3h0M371.4 173.4h0M373.4 178.2h0M350.7 180.1h0M381.9 173.2h0M372.2 179.8h0M348.0 172.2h0M341.9 173.2h0M370.4 176.4h0M364.0 180.2h0M365.2 161.9h0M349.5 168.4h0M367.7 166.8h0M364.3 162.4h0M381.0 164.4h0M377.0 166.3h0M371.3 169.1h0M366.3 176.2h0M355.0 172.2h0M368.8 170.4h0M336.8 175.3h0M347.2 163.3h0M359.0 180.4h0M372.1 171.8h0M366.5 171.4h0M364.0 162.8h0M363.4 179.7h0M363.2 163.6h0M377.0 164.1h0M351.4 165.0h0M369.1 176.6h0M370.8 163.4h0M352.5 179.7h0M363.0 172.3h0M384.5 173.5h0M359.4 169.8h0M365.4 180.7h0M380.2 163.8h0M377.6 165.4h0M374.3 173.5h0M357.7 166.6h0M347.8 170.7h0M350.5 171.0h0M359.2 179.9h0M372.6 166.1h0M366.6 178.4h0M366.8 165.0h0M365.9 170.6h0M354.3 167.1h0M360.3 175.2h0M343.5 168.0h0M365.4 173.4h0M338.9 165.5h0M364.9 166.1h0M360.5 177.2h0M352.3 177.8h0M349.0 163.9h0M351.7 168.6h0M347.6 166.3h0M360.8 179.2h0M354.1 171.5h0M359.5 172.4h0M353.5 177.9h0M364.5 166.3h0M365.7 168.6h0M348.8 173.5h0M362.5 179.6h0M347.0 167.9h0M376.2 166.9h0M369.8 174.8h0M339.3 167.6h0M369.2 177.4h0M375.3 177.7h0M365.3 170.3h0M351.1 176.9h0M356.8 176.5h0M347.8 167.6h0M367.0 172.3h0M353.4 180.0h0M369.6 165.0h0M353.3 178.7h0M363.8 166.1h0M355.4 179.1h0M362.1 175.9h0M356.6 176.7h0M355.5 177.2h0M382.3 163.1h0M348.0 164.4h0M376.6 163.1h0M354.0 171.3h0M364.1 164.1h0M360.1 174.4h0M342.5 175.0h0M364.9 169.4h0M369.6 170.4h0M355.7 166.3h0M354.9 169.3h0M371.5 166.2h0M343.8 174.9h0M370.4 171.9h0M351.8 176.9h0M359.6 176.3h0M358.1 164.4h0M337.2 174.0h0M354.9 175.4h0M358.4 162.6h0M346.9 168.0h0M368.3 165.3h0M350.9 162.4h0M364.6 162.9h0M379.2 172.5h0M364.5 176.8h0M363.5 172.2h0M370.1 173.8h0M370.6 171.6h0M345.7 167.7h0M357.1 170.9h0M351.7 179.1h0M353.2 173.2h0M367.0 166.6h0M373.7 170.1h0M356.1 174.4h0M349.3 169.3h0M368.3 172.7h0M384.3 170.3h0M352.2 176.0h0M357.6 170.7h0M354.1 173.4h0M376.3 168.9h0M373.0 179.6h0M379.9 168.1h0M350.2 166.6h0M366.3 179.0h0M366.8 173.4h0M354.5 168.7h0M365.9 180.7h0M344.4 163.7h0M362.4 177.6h0M363.9 180.3h0M362.5 177.2h0M381.3 170.6h0M360.3 178.0h0M355.8 178.4h0M366.5 180.4h0M356.1 178.2h0M369.1 165.2h0M338.9 167.6h0M372.7 174.1h0M341.5 170.6h0M366.7 177.2h0M347.1 169.0h0M370.8 167.3h0M354.1 171.4h0M364.4 166.0h0M364.1 178.8h0M360.3 174.6h0M357.2 170.8h0M365.9 169.0h0M350.1 162.0h0M357.5 167.9h0M361.9 175.1h0M359.3 172.3h0M359.9 174.3h0M356.5 167.1h0M358.4 164.3h0M362.5 177.1h0M351.8 165.7h0M360.0 179.9h0M382.1 166.7h0M357.3 172.7h0M371.2 173.1h0M373.1 161.8h0M376.9 172.4h0M376.2 170.3h0M345.8 176.7h0M352.7 168.7h0M366.7 165.4h0M364.9 171.4h0M362.4 175.9h0M356.5 168.1h0M365.3 178.9h0M359.0 164.0h0M349.3 174.4h0M368.5 167.2h0M351.9 180.5h0M354.0 169.1h0M358.4 167.1h0M385.7 165.2h0M366.0 164.2h0M370.0 168.7h0M371.6 172.6h0M365.4 166.6h0M367.5 164.5h0M354.7 175.3h0M354.1 170.4h0M372.3 168.4h0M370.5 175.2h0M354.2 163.6h0M378.4 177.9h0M367.8 176.7h0M344.9 170.0h0M372.4 164.9h0M337.6 162.6h0M353.0 178.4h0M378.6 166.8h0M352.2 164.6h0M358.9 174.5h0M366.0 170.6h0M374.8 178.7h0M363.9 169.2h0M378.0 170.3h0M384.0 169.8h0M378.2 166.2h0M355.4 168.6h0M348.3 163.1h0M346.7 167.0h0M369.2 169.3h0M366.6 162.2h0M346.2 176.8h0M369.2 162.5h0M357.1 175.5h0M354.3 164.5h0M351.1 162.2h0M348.1 165.3h0M367.5 179.6h0M371.7 170.9h0M364.7 176.2h0M359.4 180.0h0M348.1 164.5h0M365.6 170.3h0M366.7 164.4h0M342.9 177.4h0M363.6 177.5h0M360.0 178.6h0M354.9 170.3h0M376.9 173.5h0M364.6 164.6h0M363.4 180.3h0M358.8 176.0h0M347.1 170.3h0M349.6 162.9h0M363.4 166.1h0M350.1 172.4h0M370.2 165.5h0M351.8 172.6h0M377.0 174.3h0M349.1 165.6h0M374.7 178.2h0M355.7 162.5h0M363.9 175.0h0M358.3 162.7h0M355.6 168.0h0M356.7 168.0h0M352.3 168.6h0M369.5 178.9h0M354.3 178.8h0M371.4 163.7h0M353.9 164.8h0M358.3 176.1h0M363.5 171.0h0M349.3 163.9h0M339.9 175.2h0M372.3 168.5h0M359.9 175.9h0M353.1 161.9h0M355.0 171.3h0M355.5 164.4h0M346.9 164.4h0M364.1 174.6h0M362.6 173.0h0M356.4 166.6h0M366.2 174.5h0M360.6 176.0h0M368.6 168.4h0M383.1 167.9h0M342.5 166.9h0M383.8 174.9h0M349.4 166.4h0M353.4 166.7h0M368.1 170.6h0M379.7 162.0h0M368.1 174.6h0M336.4 168.7h0M371.5 175.6h0M365.7 163.8h0M368.5 168.7h0M369.5 164.0h0M368.5 165.9h0M367.4 179.9h0M361.1 178.9h0M340.2 163.5h0M355.0 162.9h0M381.2 173.8h0M370.2 165.2h0M370.9 165.2h0M370.1 164.8h0M370.4 171.9h0M373.5 168.0h0M384.1 162.3h0M367.5 180.4h0M376.8 165.7h0M348.4 169.2h0M365.4 162.2h0M371.1 175.9h0M355.9 178.6h0M366.5 167.8h0M357.5 164.4h0M365.6 165.8h0M352.7 177.3h0M358.4 180.2h0M363.9 175.1h0M353.4 172.6h0M362.4 179.9h0M374.6 166.2h0M351.0 165.7h0M345.0 166.6h0M345.4 178.2h0M359.3 167.2h0M341.5 164.1h0M342.7 174.7h0M347.0 178.7h0M354.4 173.4h0M361.1 180.2h0M365.1 163.4h0M355.1 162.3h0M367.4 163.2h0M361.3 180.8h0M355.7 168.1h0M356.9 174.9h0M351.5 162.7h0M370.3 170.8h0M356.2 163.1h0M358.7 171.6h0M366.3 174.4h0M357.2 176.0h0M364.3 175.4h0M350.9 165.3h0M354.7 173.1h0M371.1 162.9h0M354.1 175.8h0M354.8 176.5h0M378.3 172.5h0M345.8 172.2h0M369.6 180.3h0M355.8 171.7h0M365.3 174.2h0M369.1 174.0h0M350.4 166.9h0M347.7 166.7h0M343.6 170.2h0M358.7 166.6h0M356.4 172.9h0M379.6 164.9h0M355.2 170.9h0M342.8 166.6h0M359.1 172.7h0M356.7 180.8h0M374.0 173.0h0M357.4 170.6h0M351.9 162.1h0M357.9 167.8h0M356.0 177.2h0M369.1 171.7h0M372.2 178.6h0M366.3 173.3h0M355.9 164.0h0M379.0 167.5h0M351.6 180.1h0M373.9 178.6h0M368.9 164.9h0M344.6 175.6h0M373.4 176.7h0M374.2 165.8h0M371.6 164.3h0M339.3 167.6h0M378.2 172.0h0M381.6 175.6h0M368.1 167.1h0M362.9 171.4h0M368.1 176.3h0M353.7 164.9h0M355.7 176.1h0M351.9 162.3h0M342.6 177.3h0M356.0 167.2h0M359.4 171.0h0M358.9 174.6h0M363.8 176.2h0M359.6 171.9h0M362.5 168.8h0M355.5 170.6h0M364.2 168.6h0M369.4 174.7h0M382.8 167.2h0M362.9 178.9h0M338.8 169.5h0M353.3 167.4h0M357.3 175.9h0M357.9 173.4h0M364.7 177.3h0M373.1 162.6h0M358.4 180.2h0M360.8 176.3h0M376.7 173.8h0M371.5 169.0h0M352.9 175.2h0M353.3 170.6h0M367.0 167.7h0M345.1 172.1h0M374.6 167.7h0M352.7 164.5h0M357.9 166.5h0M349.1 171.9h0M374.0 172.1h0M357.8 170.5h0M368.8 173.2h0M356.4 167.9h0M366.0 176.9h0M357.0 172.9h0M355.3 172.2h0M385.2 165.6h0M353.0 172.0h0M365.0 162.7h0M367.4 174.3h0M368.2 172.9h0M368.6 180.7h0M356.9 173.9h0M357.2 166.6h0M355.5 169.7h0M366.6 176.9h0M371.7 171.2h0M365.8 177.7h0M367.0 179.9h0M366.2 171.0h0M360.8 177.0h0M385.3 175.1h0M343.9 168.6h0M354.8 167.3h0M350.8 179.9h0M357.3 176.9h0M375.9 174.9h0M369.1 178.7h0M358.9 171.9h0M353.6 175.8h0M350.7 166.0h0M373.6 179.6h0M364.1 180.4h0M367.0 166.9h0M358.4 165.8h0M349.0 164.6h0M359.1 176.9h0M374.3 177.2h0M347.4 178.1h0M348.3 179.2h0M366.9 169.8h0M352.3 169.1h0M362.2 170.2h0M341.8 176.3h0M357.8 167.6h0" stroke="#8F9AAD" stroke-width="2.2" stroke-linecap="round" fill="none"/><path d="M352.5 130.7L352.5 161.7L348.1 161.7L349.9 173.6L354.2 179.5L357.6 181.4L364.6 181.4L368.0 179.5L372.3 173.6L373.6 161.7L369.8 161.7L369.8 124.8L366.8 124.8L366.5 127.7L365.6 140.3L362.8 155.5L362.4 161.3L361.1 173.6L359.4 161.3L358.7 155.5L357.0 140.3L355.7 130.7Z" fill="#8F9AAD"/><path d="M358.0 156.3h0M359.9 172.3h0M356.2 142.8h0M354.0 131.7h0M356.7 147.9h0M355.5 142.4h0M358.3 168.3h0M357.1 147.2h0M356.9 157.6h0M358.7 166.9h0M357.3 158.3h0M354.4 130.5h0M357.2 151.1h0M355.8 137.1h0M356.4 152.0h0M356.0 146.8h0M358.4 160.4h0M354.1 132.9h0M356.9 158.9h0M353.5 124.6h0M358.2 159.5h0M356.7 163.6h0M358.9 167.5h0M359.0 166.1h0M358.8 168.4h0M352.8 121.3h0M356.1 153.0h0M356.5 146.4h0M353.2 120.2h0M356.4 145.6h0M352.7 121.3h0M356.7 147.1h0M359.6 171.6h0M358.7 164.7h0M357.9 158.8h0M355.9 147.7h0M354.2 132.6h0M355.3 143.8h0M356.6 144.9h0M359.4 169.9h0M353.7 130.8h0M356.3 144.0h0M355.7 141.7h0M356.6 156.9h0M353.8 125.2h0M358.8 164.3h0M352.0 116.4h0M355.5 147.3h0M353.9 132.6h0M359.6 170.5h0M354.7 130.3h0M353.0 125.9h0M355.5 136.7h0M356.9 147.0h0M357.6 155.9h0M350.6 117.4h0M356.2 144.7h0M353.4 125.9h0M354.0 128.5h0M355.2 133.9h0M352.2 118.9h0M355.6 142.4h0M354.5 130.0h0M359.0 170.6h0M352.8 125.8h0M354.1 134.1h0M357.3 153.3h0M351.4 116.5h0M355.9 141.4h0M357.0 156.3h0M356.0 137.9h0M353.6 122.9h0M351.7 116.0h0M357.5 153.7h0M355.3 138.5h0M356.6 153.0h0M357.7 152.7h0M354.4 134.5h0M353.2 121.3h0M356.5 144.9h0M355.4 137.2h0M354.1 130.6h0M352.1 122.3h0M358.2 160.8h0M356.9 149.3h0M356.4 146.6h0M353.5 130.3h0M356.2 145.9h0M359.0 166.4h0M358.2 166.7h0M358.7 164.6h0M352.3 123.1h0M355.3 137.6h0M357.6 165.0h0M359.6 171.9h0M359.6 173.0h0M355.3 134.6h0M353.1 128.3h0M358.9 163.3h0M358.3 158.6h0M356.3 144.8h0M356.1 150.4h0M353.9 125.8h0M356.9 155.9h0M352.8 121.5h0M355.2 134.5h0M354.1 132.5h0M366.1 146.5h0M364.5 160.6h0M363.3 160.5h0M365.3 155.4h0M366.0 143.4h0M367.1 129.0h0M366.9 133.1h0M365.6 157.8h0M363.6 169.1h0M368.0 130.3h0M368.9 114.0h0M366.8 140.5h0M365.3 149.7h0M366.8 143.6h0M363.5 158.7h0M367.3 137.5h0M362.6 166.1h0M363.1 168.9h0M368.1 119.1h0M367.1 131.2h0M368.9 112.5h0M368.6 115.4h0M367.3 133.3h0M366.5 143.8h0M364.3 167.2h0M368.6 118.6h0M369.2 118.5h0M367.9 132.3h0M363.5 159.6h0M365.5 148.0h0M364.1 157.0h0M362.6 168.2h0M364.0 159.1h0M362.1 171.6h0M362.8 169.8h0M369.7 114.0h0M364.0 160.9h0M367.0 139.9h0M366.7 136.7h0M367.9 124.6h0M365.4 145.0h0M366.7 141.0h0M363.5 160.3h0M367.9 128.9h0M367.3 131.3h0M362.9 168.2h0M368.0 119.6h0M368.1 133.5h0M364.7 153.2h0M366.1 142.4h0M368.8 112.4h0M363.6 166.2h0M366.2 143.7h0M363.2 172.0h0M365.6 147.6h0M364.6 158.4h0M368.3 119.4h0M362.6 172.0h0M364.3 151.8h0M369.1 112.1h0M369.3 114.4h0M369.2 121.8h0M367.9 127.2h0M369.1 114.7h0M362.5 168.8h0M362.5 168.2h0M363.0 164.7h0M368.1 119.5h0M367.8 131.0h0M365.0 150.0h0M363.6 167.2h0M363.1 166.6h0M364.9 154.4h0M365.3 152.7h0M365.7 145.3h0M369.4 110.1h0M363.6 164.8h0M365.5 149.3h0M362.7 167.9h0M368.5 115.6h0M367.6 135.2h0M366.2 141.2h0M365.7 146.3h0M367.8 124.2h0M368.0 119.9h0M363.9 163.2h0M362.5 167.9h0M365.7 147.2h0M363.7 156.0h0M367.7 124.0h0M367.5 124.3h0M364.9 148.2h0M365.3 149.8h0M369.9 111.8h0M366.6 141.0h0M363.8 168.5h0M367.5 138.9h0M369.9 118.3h0M364.8 151.4h0M366.6 139.6h0M366.8 137.8h0M366.9 136.8h0M366.8 135.0h0M362.0 172.8h0M367.1 136.9h0M363.4 165.2h0M369.6 113.5h0M366.3 143.6h0M365.2 148.8h0M369.3 110.6h0M363.9 164.2h0M365.0 148.9h0M365.1 152.2h0" stroke="#8F9AAD" stroke-width="2.2" stroke-linecap="round" fill="none"/><path d="M409.6 172.1h0M404.0 171.3h0M395.0 171.5h0M401.9 171.9h0M394.9 170.8h0M406.7 172.1h0M402.4 170.8h0M411.4 172.3h0M401.6 172.0h0M407.1 171.7h0M404.8 171.3h0M411.1 171.8h0M407.2 171.2h0M398.4 171.6h0M410.9 171.6h0M407.7 171.5h0M403.8 171.7h0M397.9 171.7h0M417.3 164.3h0M406.5 167.7h0M400.0 166.2h0" stroke="#8F9AAD" stroke-width="2.2" stroke-linecap="round" fill="none"/><path d="M348.0 158.7h0M346.7 120.3h0M334.3 158.6h0M343.6 158.3h0M350.7 145.1h0M339.1 147.8h0M341.2 145.9h0M339.9 150.6h0M344.5 143.4h0M351.8 153.6h0M349.3 142.3h0M340.4 160.1h0M350.4 156.8h0M343.6 138.3h0M349.3 141.3h0M342.9 151.3h0M316.1 149.1h0M351.1 159.0h0M346.9 125.1h0M346.1 150.6h0M346.5 154.8h0M347.8 139.1h0M335.7 127.7h0M347.7 143.6h0M348.3 132.5h0M351.7 147.9h0M332.2 146.1h0M343.2 161.3h0M347.9 141.0h0M351.6 158.6h0M342.1 146.1h0M349.2 156.1h0M342.8 132.1h0M350.1 153.2h0M351.8 130.9h0M327.5 131.6h0M348.2 147.9h0M347.5 142.4h0M340.6 156.7h0M350.6 156.7h0M348.7 159.5h0M350.9 125.8h0M340.7 155.1h0M335.4 135.2h0M344.3 153.7h0M350.7 137.6h0M334.3 117.0h0M342.1 158.8h0M346.1 139.1h0M345.6 155.2h0M328.5 158.3h0M351.6 149.4h0M347.6 153.1h0M350.3 150.5h0M345.0 156.8h0M334.3 138.3h0M320.0 160.2h0M347.3 158.1h0M346.0 146.4h0M351.3 121.2h0M322.7 153.2h0M350.7 160.9h0M344.9 142.1h0M333.3 160.1h0M351.0 134.7h0M341.3 144.7h0M348.6 150.3h0M340.0 157.4h0M326.3 109.1h0M321.8 156.3h0M344.3 154.0h0M306.0 141.2h0M346.0 149.8h0M349.3 145.3h0M328.6 160.8h0M341.4 147.5h0M333.4 160.4h0M338.4 122.5h0M349.9 135.4h0M349.3 156.0h0M351.4 132.4h0M348.4 142.8h0M337.0 152.8h0M351.6 160.7h0M349.7 145.0h0M351.6 146.9h0M334.2 154.1h0M351.8 143.2h0M348.9 140.8h0M351.4 129.3h0M347.7 134.2h0M319.6 133.9h0M345.1 143.0h0M333.5 158.3h0M334.4 143.7h0M350.3 134.3h0M333.1 159.4h0M351.7 135.7h0M343.1 137.3h0M347.4 155.1h0M336.4 161.5h0M337.3 161.4h0M344.9 136.6h0M311.6 154.7h0M351.4 152.8h0M340.6 143.8h0M346.1 138.9h0M348.5 143.1h0M348.1 135.9h0M306.9 150.4h0M351.0 156.5h0M340.6 145.3h0M345.9 126.3h0M319.4 126.9h0M347.2 111.2h0M343.5 160.5h0M339.4 139.6h0M333.4 156.3h0M332.7 112.2h0M349.4 123.2h0M350.6 148.9h0M351.2 145.3h0M351.3 132.0h0M347.4 152.8h0M350.2 140.1h0M350.2 131.5h0M351.0 150.4h0M351.8 150.0h0M351.6 142.3h0M343.8 154.4h0M345.3 109.9h0M347.0 141.3h0M349.7 158.2h0M343.4 106.3h0M342.9 155.7h0M345.0 146.3h0M342.0 141.8h0M350.1 159.7h0M347.6 155.9h0M351.7 153.2h0M351.3 115.9h0M350.7 141.5h0M343.1 148.0h0M349.1 149.9h0M350.2 143.2h0M338.3 161.6h0M341.0 156.4h0M348.6 143.7h0M344.0 158.3h0M350.1 135.2h0M346.5 150.5h0M333.2 156.2h0M351.3 148.3h0M345.5 135.0h0M339.6 151.1h0M351.1 144.7h0M339.6 148.3h0M343.8 133.6h0M343.7 137.9h0M340.7 155.0h0M322.0 149.6h0M342.5 151.3h0M341.9 153.6h0M346.9 161.2h0M332.8 147.1h0M349.5 150.8h0M336.2 160.3h0M343.1 145.0h0M308.9 151.1h0M349.0 133.3h0M340.9 136.6h0M335.7 150.8h0M321.6 144.7h0M330.9 144.6h0M351.1 140.5h0M344.4 159.4h0M329.8 131.8h0M347.6 151.1h0M334.6 156.4h0M345.2 150.3h0M314.7 156.8h0M349.5 153.6h0M345.6 152.2h0M346.4 149.2h0M350.5 153.8h0M351.7 130.8h0M349.1 150.9h0M341.7 150.3h0M344.7 139.4h0M348.0 141.3h0M343.0 159.3h0M337.2 143.5h0M349.1 129.1h0M326.6 156.1h0M350.5 124.6h0M351.5 142.8h0M349.6 153.9h0M349.0 111.6h0M347.4 112.7h0M351.8 157.7h0M351.3 148.3h0M341.4 149.9h0M348.0 154.7h0M318.1 153.5h0M347.6 136.5h0M347.6 157.8h0M335.0 154.9h0M325.0 144.4h0M348.6 151.8h0M343.9 154.7h0M351.8 134.6h0M344.7 132.8h0M340.6 158.0h0M350.2 151.0h0M337.1 149.5h0M351.7 143.9h0M349.5 134.4h0M347.5 141.9h0M350.9 149.4h0M347.4 150.3h0M350.6 147.3h0M347.4 139.8h0M324.4 158.8h0M350.1 133.7h0M343.6 151.6h0M336.1 145.9h0M348.9 154.3h0M350.9 120.3h0M345.4 145.3h0M347.9 159.1h0M348.2 145.2h0M349.9 151.8h0M334.1 160.3h0M332.7 126.2h0M327.9 149.3h0M351.8 151.2h0M350.8 158.8h0M332.0 158.0h0M334.8 158.7h0M347.0 153.8h0M351.6 156.4h0M349.7 144.1h0M317.3 146.0h0M323.1 145.6h0M341.8 141.6h0M350.4 157.5h0M340.4 137.2h0M350.2 160.4h0M329.3 150.3h0M348.2 129.4h0M347.0 150.9h0M347.4 155.7h0M330.9 151.0h0M346.8 149.1h0M347.9 157.5h0M345.1 157.8h0M339.8 160.4h0M349.4 120.2h0M351.5 142.3h0M347.9 154.6h0M351.1 146.0h0M336.9 118.2h0M347.9 158.7h0M346.0 141.0h0M334.5 149.2h0M332.5 157.2h0M336.6 157.7h0M350.0 142.9h0M339.9 133.1h0M321.7 160.0h0M337.6 159.7h0M345.6 137.4h0M340.5 159.0h0M346.1 139.5h0M343.5 137.3h0M347.4 127.5h0M348.3 132.7h0M340.5 137.5h0M339.8 113.4h0M347.4 136.5h0M341.6 145.8h0M344.1 146.8h0M348.2 154.9h0M348.7 160.1h0M346.9 137.7h0M343.6 151.3h0M342.7 148.9h0M351.6 133.6h0M344.2 149.5h0M351.1 125.9h0M349.2 131.6h0M334.2 159.1h0M349.1 159.0h0M335.1 138.6h0M346.1 160.4h0M350.9 157.8h0M341.5 148.0h0M306.4 146.1h0M330.3 138.0h0M346.4 151.7h0M338.3 150.6h0M349.3 136.3h0M327.3 157.7h0M344.2 137.1h0M345.1 142.7h0M337.3 144.2h0M351.9 133.2h0M349.2 158.9h0M346.8 148.4h0M351.0 124.4h0M350.2 132.4h0M348.1 137.6h0M347.4 132.3h0M347.8 157.2h0M350.8 160.8h0M333.3 147.5h0M349.0 145.1h0M349.2 134.1h0M350.9 145.9h0M347.2 146.4h0M351.3 155.1h0M346.4 159.5h0M343.4 137.3h0M351.3 153.0h0M351.6 155.5h0M338.9 160.7h0M339.1 145.9h0M348.5 144.2h0M351.0 155.4h0M348.9 160.7h0M348.6 133.9h0M338.8 157.9h0M346.5 136.0h0M350.7 132.7h0M349.2 114.5h0M318.0 151.8h0M341.3 158.5h0M339.8 146.7h0M350.3 155.8h0M337.8 150.6h0M339.9 136.8h0M347.2 158.4h0M349.9 132.1h0M342.6 117.5h0M349.6 152.1h0M349.8 144.7h0M349.9 129.3h0M341.7 148.8h0M337.1 161.3h0M351.7 151.3h0M342.5 128.6h0M348.6 143.6h0M347.8 125.6h0M333.1 131.4h0M345.2 152.4h0M351.9 145.4h0M344.3 146.0h0M344.0 112.1h0M337.0 135.7h0M340.2 156.0h0M348.6 160.2h0M351.7 145.2h0M351.6 151.7h0M350.6 138.0h0M347.0 141.3h0M343.1 155.8h0M337.5 158.3h0M324.7 158.0h0M348.0 157.3h0M326.8 152.5h0M339.9 142.8h0M339.0 129.6h0M351.4 130.0h0M347.5 149.6h0M322.5 147.7h0M340.5 122.4h0M350.1 154.6h0M345.4 151.0h0M341.9 136.1h0M349.6 155.3h0M316.0 155.4h0M351.3 147.4h0M318.9 154.2h0M348.4 143.6h0M315.1 147.5h0M341.9 159.5h0M348.6 153.3h0M344.1 139.7h0M339.8 159.4h0M348.3 142.2h0M338.5 156.0h0M349.6 131.7h0M306.9 148.8h0M350.0 124.9h0M335.4 151.9h0M332.7 130.5h0M348.8 138.5h0M329.2 147.9h0M341.4 156.9h0M339.6 145.6h0M340.4 158.9h0M345.7 160.1h0M347.6 160.5h0M327.9 115.1h0M342.2 147.4h0M346.7 146.7h0M347.6 138.0h0M344.6 153.8h0M309.8 154.7h0M346.6 160.0h0M351.5 160.2h0M328.5 146.1h0M350.1 160.3h0M345.2 141.6h0M335.8 152.3h0M345.3 133.2h0M350.6 130.0h0M351.8 139.0h0M349.4 153.8h0M321.5 150.1h0" stroke="#F8575A" stroke-width="2.2" stroke-linecap="round" fill="none"/><path d="M371.0 147.5h0M372.8 142.6h0M387.5 121.8h0M376.5 161.4h0M370.6 157.9h0M396.2 132.2h0M388.3 161.0h0M375.0 100.9h0M372.5 119.3h0M371.3 142.4h0M378.3 120.0h0M373.2 139.5h0M379.8 115.0h0M389.0 138.2h0M379.0 128.2h0M380.6 109.6h0M373.0 127.7h0M372.5 154.8h0M370.9 124.5h0M399.5 160.0h0M372.5 144.7h0M375.4 134.4h0M375.5 151.2h0M372.5 128.3h0M372.8 157.6h0M372.2 129.7h0M373.3 101.2h0M371.8 136.5h0M377.4 137.3h0M372.8 101.0h0M371.3 127.4h0M372.2 150.9h0M375.9 137.2h0M375.4 147.3h0M376.9 146.7h0M375.6 115.3h0M370.8 101.2h0M375.1 140.9h0M371.6 159.2h0M371.3 159.0h0M382.1 150.3h0M376.2 139.4h0M372.4 161.5h0M402.5 128.7h0M388.3 134.4h0M378.4 123.3h0M375.2 151.7h0M376.9 150.5h0M373.1 126.5h0M385.4 150.3h0M373.5 144.3h0M374.0 116.5h0M372.3 125.5h0M386.7 133.8h0M377.4 161.0h0M371.6 147.4h0M377.7 112.8h0M370.9 156.0h0M390.9 118.9h0M371.2 119.8h0M377.5 151.5h0M372.9 114.7h0M375.2 154.2h0M381.2 147.3h0M378.7 109.7h0M371.8 147.6h0M374.4 145.0h0M370.8 158.0h0M372.4 154.2h0M375.4 152.2h0M371.9 155.1h0M371.4 142.4h0M371.3 150.3h0M375.8 133.0h0M370.9 116.3h0M372.2 136.8h0M373.1 148.3h0M375.2 145.8h0M374.0 149.7h0M376.9 144.3h0M382.9 151.1h0M392.0 111.7h0M375.3 143.9h0M370.3 143.8h0M379.8 125.3h0M375.7 123.1h0M392.3 160.4h0M371.3 134.8h0M389.6 113.8h0M371.0 105.1h0M371.8 153.7h0M371.1 136.7h0M370.3 143.3h0M370.6 152.9h0M374.3 122.5h0M378.3 121.0h0M371.3 160.6h0M383.6 145.9h0M374.5 137.6h0M374.6 117.3h0M388.4 152.6h0M374.1 119.0h0M372.6 116.5h0M370.9 108.0h0M380.2 141.4h0M377.5 129.0h0M375.6 138.8h0M375.8 157.7h0M375.6 158.5h0M374.6 151.8h0M381.5 159.4h0M372.0 134.5h0M380.3 131.1h0M371.0 138.0h0M385.1 137.3h0M375.0 118.9h0M370.8 146.9h0M374.1 139.6h0M380.8 159.4h0M374.1 154.8h0M372.2 131.2h0M373.6 142.2h0M382.4 108.2h0M371.2 151.8h0M374.0 149.2h0M374.8 145.7h0M379.1 124.5h0M376.5 129.0h0M371.2 124.2h0M374.8 109.5h0M377.8 134.7h0M374.6 140.0h0M371.9 155.8h0M375.2 140.8h0M370.5 161.4h0M371.6 137.3h0M383.2 139.2h0M385.9 152.6h0M372.4 155.3h0M371.8 150.2h0M372.2 108.6h0M406.1 158.5h0M370.8 144.9h0M370.7 150.5h0M379.3 127.5h0M370.7 149.6h0M370.4 108.1h0M375.4 131.0h0M376.4 159.4h0M378.1 121.6h0M375.7 161.5h0M373.8 104.2h0M394.4 158.9h0M373.9 145.2h0M371.1 114.3h0M372.7 159.6h0M378.4 123.6h0M370.3 114.1h0M371.7 152.6h0M376.8 145.5h0M370.3 159.7h0M377.3 139.6h0M380.0 132.2h0M378.1 155.0h0M372.7 152.2h0M392.9 157.7h0M370.9 155.3h0M373.5 158.4h0M379.1 155.4h0M380.8 159.8h0M391.2 142.6h0M371.7 117.8h0M378.7 138.4h0M370.7 103.5h0M371.4 126.9h0M389.8 151.0h0M371.8 111.6h0M375.1 151.8h0M371.3 149.9h0M375.1 157.2h0M372.7 148.0h0M384.1 121.5h0M371.0 136.0h0M372.8 161.1h0M371.9 129.9h0M396.3 150.3h0M373.4 151.3h0M373.3 152.9h0M370.3 114.2h0M404.6 155.1h0M374.8 161.5h0M375.2 127.4h0M372.8 122.6h0M375.6 136.8h0M378.7 156.1h0M384.4 113.7h0M384.8 117.3h0M371.1 152.4h0M375.5 139.2h0M398.7 158.3h0M378.4 118.7h0M375.5 134.5h0M372.0 131.3h0M378.1 148.6h0M370.9 135.5h0M374.2 150.4h0M381.6 113.1h0M391.1 114.8h0M370.4 113.9h0M370.6 109.1h0M372.7 130.3h0M370.4 149.5h0M370.7 157.2h0M395.2 150.8h0M372.9 127.8h0M371.9 154.8h0M373.8 149.7h0M375.2 147.5h0M370.8 160.7h0M375.6 140.8h0M378.1 145.7h0M372.0 147.9h0M391.3 160.5h0M373.3 159.4h0M375.7 140.2h0M372.3 137.5h0M383.9 157.0h0M390.4 144.3h0M383.2 116.5h0M380.8 144.5h0M383.1 123.8h0M376.9 155.5h0M375.2 144.3h0M370.4 157.3h0M370.3 153.8h0M375.9 158.2h0M370.8 143.3h0M371.2 114.7h0M378.5 151.7h0M381.5 142.6h0M371.9 158.5h0M374.0 121.4h0M372.4 156.2h0M373.0 135.7h0M376.5 132.1h0M371.0 101.5h0M401.9 150.1h0M370.6 148.3h0M371.6 100.7h0M370.8 148.5h0M382.0 131.6h0M371.4 138.9h0M372.7 156.4h0M378.8 103.4h0M374.3 132.6h0M384.8 159.1h0M371.6 159.0h0M384.9 102.7h0M380.2 158.5h0M374.7 150.7h0M378.8 137.4h0M377.7 141.3h0M370.4 160.1h0M374.5 106.8h0M372.0 157.4h0M382.4 148.1h0M373.2 156.7h0M382.4 150.5h0M376.9 160.3h0M377.9 149.2h0M371.1 155.9h0M373.9 142.8h0M388.6 148.5h0M386.0 106.3h0M381.2 160.4h0M370.6 110.2h0M372.5 111.6h0M374.3 142.6h0M378.8 153.1h0M373.6 116.8h0M372.9 145.8h0M375.2 160.8h0M374.5 105.6h0M371.9 135.7h0M378.9 120.2h0M390.4 140.8h0M371.2 136.3h0M371.9 130.7h0M388.0 150.6h0M377.7 117.2h0M371.0 148.1h0M381.9 149.7h0M371.6 154.8h0M373.7 115.6h0M372.0 147.4h0M377.5 157.4h0M371.6 156.2h0M372.1 160.9h0M389.0 149.7h0M372.2 157.3h0M370.3 147.1h0M378.6 130.1h0M381.5 150.6h0M371.2 152.3h0M387.4 148.9h0M371.8 123.7h0M372.3 140.4h0M399.3 119.5h0M376.2 141.2h0M373.2 138.0h0M372.9 105.8h0M376.9 117.5h0M372.8 158.6h0M380.7 156.4h0M372.1 155.7h0M391.0 159.9h0M396.3 140.1h0M374.6 148.5h0M372.5 154.1h0M372.9 120.8h0M372.3 144.5h0M377.5 125.9h0M379.4 145.0h0M370.7 157.3h0M389.5 152.4h0M373.0 115.0h0M379.2 128.2h0M379.7 155.6h0M378.3 138.9h0M378.3 154.7h0M372.0 126.1h0M379.5 101.5h0M380.7 136.8h0M372.2 160.2h0M391.9 131.2h0M377.3 107.9h0M371.9 154.3h0M371.9 125.0h0M381.0 152.6h0M375.6 150.7h0M381.8 109.9h0M392.4 125.7h0M371.7 145.8h0M370.6 148.9h0M371.9 155.8h0M375.2 142.5h0M370.7 161.5h0M375.2 138.1h0M382.1 161.2h0M375.1 160.1h0M370.9 127.9h0M385.7 160.7h0M374.5 142.3h0M376.3 155.2h0M374.6 108.1h0M370.8 134.1h0M377.7 132.0h0M380.8 132.1h0M395.8 130.7h0M382.2 103.8h0M382.7 145.2h0M394.0 114.8h0M371.4 119.0h0M373.4 150.3h0M370.3 128.5h0M370.3 104.5h0M373.5 160.9h0M384.2 104.7h0M370.9 126.0h0M373.7 110.7h0M374.2 157.0h0M404.8 158.6h0M371.3 161.7h0M379.1 160.6h0M371.6 149.3h0M375.5 132.8h0M372.3 127.4h0M370.7 145.1h0M374.3 129.8h0M373.4 124.0h0M381.5 151.7h0M370.4 150.7h0M376.2 132.1h0M379.8 150.2h0" stroke="#5A8DF5" stroke-width="2.2" stroke-linecap="round" fill="none"/><path d="M374.9 82.4h0M377.5 85.5h0" stroke="#5A8DF5" stroke-width="2.2" stroke-linecap="round" fill="none"/></g>
<g><path d="M346.8 408.6h0M331.3 406.2h0M335.3 402.6h0M345.0 407.3h0M346.0 404.4h0M347.0 415.6h0M319.8 407.0h0M344.5 405.5h0M344.1 406.4h0M345.5 415.4h0M344.6 403.3h0M343.6 413.5h0M328.7 406.3h0M329.5 412.5h0M332.6 409.8h0M336.1 407.7h0M319.2 408.0h0M343.4 411.0h0M334.4 404.5h0M336.6 404.8h0M338.5 406.2h0M342.7 406.8h0M330.8 403.9h0M312.1 402.1h0M337.9 403.2h0M347.5 406.8h0M344.2 402.1h0M335.4 405.3h0M328.8 410.7h0M347.8 418.9h0M323.9 404.1h0M321.2 408.5h0M338.5 402.8h0M327.1 411.8h0M330.5 409.0h0M312.4 403.0h0M346.9 418.3h0M344.3 411.2h0M324.5 410.8h0M345.6 402.5h0M344.7 414.5h0M311.7 405.3h0M325.5 408.7h0M336.4 409.7h0M330.1 407.7h0M346.9 413.0h0M344.6 411.7h0M337.4 409.8h0M312.0 405.0h0M340.9 407.7h0M341.7 406.8h0M347.9 411.9h0M326.3 406.7h0M345.9 409.2h0M346.4 413.9h0M347.8 415.9h0M329.2 409.0h0M348.0 411.0h0M341.5 403.5h0M328.8 412.4h0" stroke="#8F9AAD" stroke-width="2.2" stroke-linecap="round" fill="none"/><path d="M382.0 412.6h0M379.7 404.5h0M374.4 418.3h0M386.4 405.3h0M386.1 411.2h0M385.4 414.4h0M374.4 411.1h0M386.7 402.9h0M398.4 406.6h0M395.9 405.2h0M381.0 408.7h0M376.4 409.1h0M392.8 408.2h0M392.0 402.7h0M382.2 408.9h0M385.4 408.4h0M380.9 414.4h0M398.9 403.7h0M381.6 406.1h0M374.7 402.9h0M384.0 405.7h0M390.9 412.8h0M375.1 404.1h0M386.1 405.0h0M393.1 402.7h0M381.0 406.9h0M380.3 411.4h0M391.8 405.2h0M374.5 416.2h0M383.2 415.2h0M378.1 415.4h0M385.9 405.3h0M375.6 403.7h0M379.5 412.4h0M385.8 404.2h0M384.0 406.5h0M386.7 411.4h0M390.0 412.1h0M376.8 412.8h0M376.0 416.9h0M386.0 411.6h0M387.3 405.8h0M388.3 407.4h0M392.1 402.7h0M398.7 404.8h0M379.0 406.2h0M395.4 406.0h0M379.5 413.8h0M382.2 410.5h0M376.2 411.4h0M398.6 408.0h0M385.7 408.8h0M376.6 408.9h0M389.1 402.3h0M382.7 415.5h0M379.8 407.7h0M388.9 404.0h0M384.5 409.2h0M398.2 408.9h0M379.2 405.4h0M376.2 412.3h0M386.1 415.0h0M384.8 414.7h0M395.8 406.1h0M381.0 407.0h0M375.1 407.9h0M374.3 412.1h0M383.5 408.5h0M392.1 406.5h0M379.8 410.9h0M382.9 409.2h0M378.9 405.8h0M398.1 404.6h0M380.2 411.7h0M377.8 415.4h0M399.6 402.6h0M374.7 411.0h0M399.2 405.2h0M392.2 408.9h0M374.5 415.2h0" stroke="#8F9AAD" stroke-width="2.2" stroke-linecap="round" fill="none"/><path d="M341.0 404.8h0M372.9 419.0h0M372.1 411.5h0M346.3 414.6h0M352.7 411.0h0M359.3 408.1h0M357.1 418.7h0M385.8 403.5h0M348.5 415.2h0M357.3 420.3h0M356.3 410.4h0M371.1 420.0h0M365.4 409.6h0M357.9 412.3h0M341.3 409.6h0M367.1 415.3h0M362.1 408.3h0M349.8 412.5h0M356.9 416.8h0M362.8 420.4h0M354.5 420.6h0M371.2 404.7h0M358.1 404.9h0M354.9 417.5h0M365.4 418.8h0M358.5 408.8h0M356.1 421.2h0M374.4 413.8h0M356.2 411.3h0M369.6 413.0h0M382.5 407.4h0M368.9 416.5h0M355.0 419.3h0M356.4 416.8h0M368.8 402.9h0M349.4 408.2h0M391.4 402.8h0M354.4 409.9h0M364.7 421.0h0M346.8 406.8h0M349.4 416.4h0M367.6 413.9h0M347.2 417.2h0M357.9 411.4h0M366.6 404.6h0M355.7 407.2h0M354.5 412.1h0M366.1 415.2h0M363.2 416.1h0M363.3 411.9h0M359.8 418.8h0M359.1 406.1h0M352.8 406.2h0M369.2 403.5h0M371.7 410.0h0M362.2 406.3h0M357.3 420.7h0M376.4 412.2h0M365.3 417.1h0M355.9 416.8h0M365.6 413.0h0M372.5 402.6h0M354.3 417.3h0M366.9 408.8h0M357.3 413.8h0M334.4 402.3h0M349.2 405.6h0M346.5 410.1h0M351.2 403.2h0M354.3 419.6h0M361.7 412.8h0M363.7 402.4h0M365.6 407.4h0M373.4 408.9h0M357.9 418.6h0M356.3 409.7h0M355.3 416.2h0M364.8 405.8h0M356.9 403.2h0M367.3 414.5h0M360.6 418.7h0M367.6 403.7h0M368.0 419.4h0M377.9 412.4h0M362.7 415.7h0M358.1 415.5h0M331.4 406.6h0M359.1 402.5h0M365.6 406.9h0M357.0 403.6h0M366.9 407.7h0M342.9 409.3h0M338.6 413.4h0M364.9 414.0h0M369.0 405.4h0M343.4 414.1h0M364.8 412.6h0M371.7 404.4h0M368.6 408.1h0M355.6 414.0h0M364.9 419.9h0M358.5 421.1h0M343.7 405.8h0M356.6 409.6h0M358.7 411.4h0M381.7 411.4h0M358.8 404.1h0M359.7 406.1h0M369.2 416.8h0M355.4 406.5h0M365.1 414.4h0M355.1 417.4h0M367.2 407.6h0M357.7 418.0h0M365.2 412.3h0M362.7 414.7h0M356.9 414.8h0M337.1 414.5h0M353.9 411.9h0M380.6 404.1h0M349.0 411.6h0M356.1 415.2h0M378.1 409.1h0M360.4 415.3h0M370.3 411.0h0M377.0 405.2h0M375.8 417.6h0M344.7 406.2h0M366.1 406.4h0M364.5 402.2h0M346.7 406.7h0M372.1 418.3h0M361.5 415.1h0M363.2 417.3h0M359.5 409.8h0M350.9 406.7h0M351.3 420.1h0M362.1 411.7h0M361.2 416.0h0M364.9 404.1h0M368.5 407.1h0M370.5 418.7h0M372.9 412.8h0M363.6 418.7h0M342.1 408.4h0M360.2 415.1h0M363.2 407.5h0M355.9 405.4h0M363.8 404.1h0M353.6 412.4h0M336.4 408.1h0M368.9 404.9h0M368.8 409.8h0M376.3 407.5h0M361.5 417.7h0M364.9 403.1h0M348.5 413.2h0M370.2 409.4h0M362.4 411.8h0M331.5 405.9h0M362.4 409.6h0M363.2 417.9h0M351.6 404.8h0M372.1 414.5h0M357.5 403.1h0M356.1 407.9h0M365.1 402.4h0M356.5 407.7h0M379.0 402.9h0M360.3 412.4h0M366.6 408.3h0M356.3 410.6h0M362.9 405.1h0M375.4 417.6h0M348.1 410.8h0M358.9 419.7h0M354.2 407.1h0M352.3 406.6h0M365.0 421.3h0M362.2 416.6h0M356.0 403.2h0M375.1 406.6h0M352.4 415.9h0M349.4 403.9h0M348.2 409.7h0M372.7 418.8h0M378.7 410.7h0M366.0 405.6h0M341.4 414.6h0M355.9 409.4h0M363.2 407.4h0M357.2 409.1h0M358.6 409.2h0M364.4 412.0h0M361.3 418.8h0M343.6 407.5h0M369.4 406.5h0M358.4 406.9h0M365.0 416.5h0M364.6 413.6h0M362.7 402.3h0M367.2 402.8h0M362.4 414.2h0M371.1 416.6h0M338.2 403.7h0M354.8 404.2h0M362.2 415.5h0M365.3 412.9h0M357.3 407.9h0M354.4 415.0h0M331.1 408.2h0M362.6 410.9h0M361.8 417.1h0M378.8 417.3h0M365.3 418.0h0M343.9 404.9h0M358.3 416.7h0M376.3 413.1h0M358.2 405.7h0M368.7 403.3h0M352.7 409.3h0M381.9 415.9h0M359.0 413.4h0M373.1 419.1h0M357.4 418.2h0M362.9 406.0h0M355.4 405.8h0M371.9 416.7h0M364.8 403.1h0M366.1 420.6h0M347.2 417.5h0M354.1 411.1h0M376.2 404.2h0M381.2 405.5h0M367.0 420.0h0M359.1 403.5h0M354.9 405.0h0M368.0 407.9h0M370.4 408.4h0M363.4 409.1h0M364.1 414.7h0M361.3 415.2h0M336.6 407.4h0M363.1 402.2h0M366.5 406.5h0M359.3 420.3h0M382.6 411.7h0M373.2 415.0h0M369.5 414.7h0M356.4 418.8h0M371.8 406.7h0M367.0 415.0h0M362.5 420.1h0M357.9 405.5h0M357.8 411.4h0M359.6 404.8h0M354.0 413.2h0M362.8 403.2h0M374.3 419.1h0M352.8 410.6h0M340.1 414.7h0M373.9 411.3h0M370.2 405.3h0M359.4 411.4h0M383.9 413.5h0M353.6 420.0h0M348.1 410.1h0M330.3 405.3h0M368.0 411.8h0M353.4 416.5h0M358.8 409.2h0M357.3 402.6h0M360.0 418.6h0M346.6 403.3h0M361.0 417.1h0M368.4 420.4h0M374.1 402.4h0M377.5 413.0h0M376.5 403.9h0M352.0 407.9h0M347.6 415.8h0M352.3 404.2h0M375.1 404.9h0M349.6 412.4h0M362.8 406.6h0M348.3 407.2h0M357.0 411.1h0M368.9 403.4h0M366.5 404.2h0M357.3 418.9h0M384.4 406.8h0M369.0 403.6h0M367.6 407.1h0M358.3 417.9h0M350.7 405.4h0M386.6 404.6h0M361.1 414.4h0M353.3 413.2h0M351.2 407.7h0M362.7 413.0h0M362.2 412.9h0M352.3 403.1h0M353.2 412.0h0M373.4 419.1h0M360.6 420.3h0M380.1 402.7h0M353.1 410.3h0M358.9 419.3h0M358.5 406.9h0M357.3 403.3h0M365.7 403.6h0M370.8 406.9h0M384.2 407.8h0M349.2 413.9h0M358.9 404.4h0M364.6 412.6h0M357.6 405.3h0M359.4 406.0h0M374.1 408.4h0M372.5 411.1h0M353.4 417.8h0M350.4 414.3h0M344.1 415.3h0M359.2 405.4h0M358.6 402.9h0M378.2 404.2h0M363.1 416.8h0M359.6 420.6h0M340.2 409.7h0M385.5 407.6h0M359.6 409.4h0M370.8 414.1h0M368.0 419.9h0M359.1 414.0h0M357.1 418.4h0M374.1 408.7h0M346.3 407.8h0M347.6 411.8h0M346.3 402.4h0M359.7 409.0h0M364.8 420.9h0M383.3 413.6h0M338.9 409.4h0M362.8 405.1h0M358.4 411.3h0M361.3 415.7h0M361.5 420.0h0M362.6 420.8h0M353.2 403.7h0M367.5 415.6h0M363.9 415.5h0M352.7 413.8h0M341.2 410.3h0M351.0 410.6h0M362.6 406.1h0M381.4 406.7h0M367.8 406.3h0M369.3 408.3h0M363.5 404.0h0M365.0 404.4h0M366.6 419.1h0M368.8 406.0h0M359.3 409.6h0M359.2 402.2h0M359.4 408.0h0M350.5 417.7h0M357.0 415.7h0M364.4 414.0h0M367.5 414.1h0M366.0 412.0h0M358.2 418.4h0M359.4 414.0h0M343.0 407.9h0M347.5 414.6h0M357.4 405.1h0M358.5 421.1h0M361.1 417.1h0M351.6 403.6h0M347.4 415.7h0M348.7 415.5h0M339.6 409.0h0M367.0 412.8h0M363.7 405.3h0M363.2 418.6h0M368.7 402.4h0M392.5 409.4h0M370.6 416.0h0M356.7 413.5h0M364.4 414.3h0M356.5 415.0h0M339.8 408.0h0M363.8 412.8h0M382.7 405.2h0M358.1 410.0h0M361.2 417.6h0M358.8 408.5h0M358.4 418.2h0M358.7 417.3h0M357.5 420.0h0M361.6 413.3h0M356.6 408.3h0M372.9 412.9h0M357.5 407.1h0M367.1 416.0h0M359.3 419.1h0M367.6 411.2h0M371.9 412.1h0M357.7 404.0h0M360.0 410.8h0M359.4 407.2h0M367.4 407.2h0M357.9 411.4h0M353.0 419.7h0M343.4 405.4h0M364.5 408.1h0M363.7 411.9h0M367.2 418.2h0M363.8 414.9h0M350.0 407.6h0M372.5 417.6h0M348.4 410.2h0M360.5 419.8h0M355.5 411.2h0M351.5 409.9h0M347.2 407.8h0M363.3 406.8h0M374.3 403.0h0M367.4 410.1h0M365.1 410.8h0M365.3 409.4h0M362.7 418.9h0M367.0 417.4h0M367.3 403.3h0M335.5 403.6h0M356.9 419.0h0M359.6 417.9h0M357.7 417.2h0M376.0 404.1h0M355.4 410.7h0M369.6 417.5h0M360.1 419.6h0M347.2 414.7h0M349.2 403.4h0M366.2 419.0h0M364.1 402.8h0M359.0 415.2h0M365.0 402.9h0M362.9 413.5h0M350.5 415.6h0M354.2 403.0h0" stroke="#8F9AAD" stroke-width="2.2" stroke-linecap="round" fill="none"/><path d="M352.5 335.5L352.5 402.1L346.0 402.1L348.1 412.4L351.6 419.1L354.6 421.3L361.1 421.9L367.6 421.3L370.6 419.1L374.1 412.4L376.2 402.1L369.8 402.1L369.8 340.0L366.6 340.0L365.9 349.3L363.3 375.5L362.2 396.5L361.1 410.9L360.0 396.5L358.7 375.5L356.0 349.3L354.3 335.5L354.3 335.5Z" fill="#8F9AAD"/><path d="M354.2 343.1h0M358.8 409.0h0M357.3 381.9h0M353.5 335.1h0M359.3 397.2h0M356.6 362.0h0M359.9 407.2h0M357.4 386.5h0M359.0 407.4h0M357.0 368.4h0M353.3 336.0h0M356.4 382.1h0M357.1 373.4h0M356.0 365.9h0M358.2 393.6h0M355.6 353.5h0M358.9 397.7h0M353.2 334.3h0M355.0 352.1h0M359.6 410.5h0M357.7 378.8h0M352.7 328.1h0M358.4 397.5h0M358.5 399.5h0M359.7 405.7h0M358.8 401.8h0M359.0 393.3h0M359.9 409.3h0M354.9 347.6h0M355.5 351.9h0M352.4 331.0h0M353.3 336.9h0M351.6 325.8h0M357.9 397.2h0M359.1 398.7h0M353.1 335.7h0M353.9 339.5h0M352.7 334.4h0M357.7 378.8h0M358.0 390.2h0M353.9 341.6h0M358.7 394.7h0M357.3 369.2h0M358.6 388.1h0M356.9 368.1h0M358.5 390.5h0M359.6 410.3h0M358.2 397.6h0M358.2 379.8h0M353.1 333.2h0M359.7 407.7h0M351.6 328.1h0M359.1 407.0h0M352.8 337.7h0M355.9 359.5h0M355.4 349.8h0M355.1 355.6h0M355.4 351.7h0M356.5 363.2h0M354.6 355.1h0M358.9 390.7h0M357.6 387.2h0M358.7 401.3h0M359.3 409.1h0M356.3 374.3h0M355.0 355.4h0M354.0 338.5h0M351.5 328.1h0M357.8 375.0h0M357.6 374.4h0M359.4 399.4h0M359.0 393.0h0M354.2 343.7h0M354.6 357.2h0M358.0 384.0h0M356.9 374.9h0M356.1 368.4h0M357.7 384.2h0M357.1 366.5h0M355.8 360.1h0M358.0 375.4h0M357.3 383.8h0M352.8 333.4h0M356.1 360.7h0M357.9 391.7h0M357.5 373.7h0M355.9 360.1h0M352.2 327.4h0M357.1 367.3h0M358.5 384.6h0M357.2 373.3h0M358.8 401.1h0M353.6 338.6h0M353.2 331.7h0M358.8 397.3h0M353.9 341.5h0M353.8 345.3h0M352.8 335.8h0M353.2 335.6h0M353.1 338.5h0M356.6 369.0h0M354.5 346.9h0M358.1 380.6h0M357.4 374.0h0M357.3 372.6h0M354.0 342.9h0M356.0 369.4h0M360.0 408.3h0M358.5 386.3h0M358.8 394.9h0M354.6 344.3h0M353.8 340.0h0M357.6 376.1h0M359.5 401.7h0M353.3 333.4h0M358.9 396.0h0M353.2 340.3h0M358.7 399.1h0M353.1 341.2h0M358.4 381.5h0M354.2 348.5h0M358.7 399.5h0M356.5 372.3h0M354.3 350.5h0M357.2 376.8h0M359.0 404.1h0M356.4 364.2h0M357.8 382.6h0M358.6 404.5h0M353.7 337.6h0M358.8 406.5h0M358.2 404.9h0M359.1 392.9h0M357.1 372.8h0M356.8 376.5h0M354.8 355.3h0M354.3 341.8h0M351.9 330.7h0M356.7 368.0h0M357.3 391.0h0M359.2 407.6h0M353.3 333.4h0M358.9 390.3h0M359.3 398.1h0M352.8 333.4h0M353.0 334.8h0M352.5 329.2h0M358.5 410.5h0M358.7 388.1h0M358.3 401.6h0M357.6 371.6h0M359.8 408.2h0M359.2 409.9h0M352.5 330.5h0M359.4 402.3h0M355.8 370.0h0M363.6 387.5h0M368.3 347.2h0M363.0 404.6h0M362.6 405.7h0M366.2 353.2h0M363.1 404.6h0M364.6 379.9h0M366.9 344.3h0M363.8 390.5h0M366.7 353.1h0M367.1 349.3h0M365.5 363.1h0M366.0 363.8h0M363.3 396.0h0M369.9 333.7h0M364.4 391.6h0M367.5 340.9h0M369.0 335.3h0M367.8 356.3h0M364.0 402.4h0M363.9 387.4h0M367.1 350.2h0M366.7 356.9h0M367.6 337.6h0M364.4 378.2h0M363.8 399.7h0M366.7 348.3h0M364.4 398.3h0M363.4 390.0h0M364.2 390.8h0M364.1 380.1h0M366.7 352.6h0M364.5 376.7h0M368.0 341.9h0M363.1 393.2h0M362.4 404.0h0M363.4 391.1h0M369.7 333.1h0M363.2 409.3h0M363.8 382.6h0M367.8 342.0h0M365.9 380.7h0M367.2 360.6h0M365.1 373.8h0M366.5 355.4h0M367.7 337.1h0M367.4 363.1h0M366.2 368.1h0M363.5 389.3h0M363.7 394.0h0M363.8 396.5h0M366.9 346.8h0M366.1 363.0h0M367.9 349.0h0M366.7 352.1h0M368.6 338.6h0M368.2 347.7h0M366.2 359.2h0M363.2 406.7h0M368.4 334.3h0M367.5 343.2h0M367.4 354.9h0M366.9 359.1h0M367.8 336.3h0M364.3 400.1h0M364.9 372.3h0M363.5 387.5h0M365.3 374.0h0M363.0 402.3h0M362.9 407.1h0M363.4 402.3h0M367.2 351.1h0M367.0 351.9h0M363.3 399.3h0M367.0 347.7h0M364.7 376.2h0M362.7 398.3h0M364.3 384.1h0M368.4 338.1h0M364.4 377.4h0M366.0 364.9h0M367.2 355.3h0M364.2 404.0h0M363.8 378.4h0M366.5 363.3h0M368.4 347.2h0M362.7 399.3h0M367.2 343.8h0M367.7 345.5h0M365.2 377.9h0M367.9 342.5h0M368.5 335.0h0M364.6 370.7h0M363.5 391.2h0M367.3 345.0h0M365.4 364.8h0M364.7 380.7h0M365.4 366.1h0M364.1 396.5h0M366.5 353.3h0M367.7 346.0h0M364.7 380.4h0M363.8 385.1h0M367.2 352.0h0M364.0 383.8h0M367.1 348.9h0M365.3 373.7h0M364.5 380.6h0M368.5 335.3h0M364.8 382.8h0M364.2 387.0h0M364.3 374.9h0M367.5 342.9h0M365.0 367.6h0M369.3 332.8h0M365.7 371.5h0M364.2 384.7h0M364.0 397.3h0M363.3 399.9h0M363.2 406.3h0M366.6 358.8h0M368.2 337.7h0M364.3 377.5h0M364.0 387.2h0M367.9 340.8h0M366.8 350.7h0M369.3 335.2h0M367.9 342.6h0M363.8 384.1h0M363.6 392.7h0M364.4 373.5h0M364.1 388.4h0M366.2 358.4h0M369.2 333.0h0M364.6 368.7h0M365.0 392.0h0M366.7 360.4h0M364.8 367.8h0M363.8 393.3h0M368.0 342.8h0M363.5 399.3h0M364.9 373.5h0M362.7 410.9h0M366.5 352.9h0M364.2 378.7h0M366.0 355.1h0M367.1 349.0h0M363.4 396.2h0M366.1 357.7h0M366.0 359.6h0M363.3 399.0h0M364.9 371.7h0M367.7 347.0h0M367.6 335.6h0M362.5 409.9h0M367.7 338.5h0M364.4 393.0h0M365.4 372.6h0M362.4 409.2h0M368.3 334.5h0M365.7 370.4h0M362.8 405.4h0M368.6 344.5h0M367.5 344.5h0M365.1 374.1h0M365.2 368.5h0M364.6 373.7h0M363.3 403.0h0M363.7 401.4h0" stroke="#8F9AAD" stroke-width="2.2" stroke-linecap="round" fill="none"/><path d="M350.2 396.4h0M344.2 394.3h0M327.1 341.4h0M342.5 368.3h0M331.6 356.3h0M344.1 358.2h0M344.0 353.0h0M348.3 336.6h0M351.3 367.3h0M347.4 393.7h0M349.9 384.6h0M347.5 398.9h0M339.7 381.5h0M349.1 384.6h0M344.0 378.8h0M338.9 364.0h0M323.4 350.1h0M345.8 353.0h0M350.9 401.4h0M338.5 396.5h0M349.4 309.7h0M337.4 388.9h0M348.8 399.6h0M347.3 344.3h0M347.6 375.7h0M346.5 396.1h0M347.6 382.1h0M338.6 349.8h0M351.2 401.5h0M322.1 368.9h0M325.8 388.4h0M338.1 380.5h0M339.9 344.3h0M346.7 377.6h0M341.4 312.1h0M330.8 378.8h0M348.9 364.9h0M336.6 372.4h0M350.4 315.8h0M348.6 369.2h0M338.6 360.1h0M338.0 375.9h0M349.4 367.6h0M322.1 382.3h0M340.4 393.0h0M344.9 374.9h0M343.2 383.7h0M349.2 307.4h0M349.1 384.8h0M349.6 356.1h0M348.9 345.9h0M326.9 400.6h0M338.2 324.5h0M334.9 373.1h0M340.4 343.9h0M342.3 335.9h0M350.6 335.6h0M344.0 343.8h0M344.1 386.4h0M341.0 375.9h0M347.1 385.9h0M349.4 376.6h0M343.6 324.8h0M340.8 363.1h0M346.9 387.3h0M346.3 399.5h0M344.1 348.4h0M338.9 365.0h0M346.4 387.7h0M348.0 361.0h0M342.3 350.8h0M332.9 371.7h0M345.3 391.5h0M345.9 324.7h0M335.0 362.7h0M350.1 400.6h0M336.5 398.0h0M350.3 374.3h0M349.2 373.8h0M349.4 330.2h0M344.2 376.4h0M351.1 371.2h0M347.5 397.5h0M339.5 375.3h0M350.6 343.4h0M339.7 369.8h0M348.7 379.4h0M340.6 314.7h0M340.2 383.0h0M344.2 354.8h0M344.5 327.6h0M345.1 333.1h0M342.7 389.2h0M339.7 401.2h0M336.9 346.9h0M340.8 376.6h0M350.4 331.0h0M336.1 364.0h0M350.8 390.3h0M346.4 392.4h0M344.5 375.1h0M345.7 334.7h0M351.2 400.0h0M338.6 396.7h0M351.7 385.3h0M348.6 399.9h0M347.1 398.2h0M331.2 357.5h0M344.4 353.1h0M349.3 361.9h0M325.5 355.4h0M340.3 381.4h0M349.9 382.2h0M346.1 399.3h0M351.9 354.0h0M346.3 347.0h0M328.9 388.6h0M341.3 327.1h0M337.3 400.3h0M323.4 390.0h0M343.9 399.3h0M329.9 398.6h0M344.4 321.5h0M349.0 398.2h0M344.6 370.3h0M346.9 391.1h0M343.8 304.5h0M337.3 384.1h0M337.0 389.7h0M350.4 338.4h0M346.3 396.1h0M348.8 358.5h0M351.1 349.1h0M346.0 377.1h0M345.2 366.6h0M348.0 367.9h0M330.6 379.1h0M348.3 311.9h0M346.8 369.3h0M332.0 366.6h0M345.7 372.6h0M349.5 341.4h0M351.6 357.0h0M345.7 381.4h0M341.6 347.7h0M350.2 389.7h0M351.6 357.3h0M325.4 397.2h0M350.2 345.7h0M350.8 382.5h0M328.6 370.3h0M346.9 335.7h0M351.7 401.1h0M350.6 341.3h0M340.0 324.4h0M343.6 356.7h0M344.5 357.3h0M342.8 396.9h0M344.8 376.5h0M350.8 357.2h0M339.6 341.4h0M349.6 366.7h0M345.6 402.0h0M332.7 323.4h0M350.9 387.9h0M344.4 382.2h0M327.9 367.4h0M340.8 376.6h0M342.3 390.7h0M342.8 381.3h0M341.5 331.1h0M342.9 341.0h0M341.9 393.1h0M331.6 395.2h0M345.3 330.9h0M346.3 317.5h0M337.3 398.2h0M325.1 359.8h0M331.7 377.1h0M349.6 385.1h0M346.8 378.7h0M348.9 355.0h0M347.5 399.4h0M344.0 357.3h0M345.0 394.2h0M340.9 390.8h0M348.0 369.3h0M348.1 394.0h0M326.6 376.3h0M330.3 331.2h0M345.5 365.5h0M335.0 371.2h0M347.5 350.8h0M342.6 394.6h0M341.3 338.5h0M350.7 347.1h0M338.9 376.6h0M350.4 378.8h0M343.0 344.5h0M347.1 363.8h0M351.2 391.6h0M350.0 393.4h0M346.0 401.5h0M348.3 357.0h0M349.3 318.0h0M323.4 362.6h0M347.7 376.7h0M343.2 378.7h0M338.5 374.0h0M350.4 389.4h0M342.3 389.3h0M324.7 385.0h0M350.1 371.5h0M342.0 357.0h0M344.7 377.0h0M345.8 385.8h0M342.2 350.8h0M351.9 374.5h0M345.6 340.8h0M343.6 394.1h0M332.1 394.3h0M336.8 381.4h0M351.4 377.3h0M345.5 362.3h0M345.5 380.5h0M350.2 391.6h0M337.0 366.5h0M343.9 326.1h0M344.4 391.7h0M342.9 302.7h0M347.6 363.3h0M349.0 399.8h0M331.8 400.9h0M351.4 328.9h0M346.1 384.6h0M346.5 396.5h0M351.9 336.6h0M347.3 382.3h0M351.6 373.8h0M350.8 374.9h0M344.6 303.7h0M344.1 378.9h0M342.8 380.0h0M350.8 373.1h0M348.9 376.0h0M351.5 389.2h0M347.6 326.4h0M348.5 368.2h0M344.3 343.6h0M348.1 375.3h0M343.2 386.6h0M349.8 358.0h0M343.5 393.6h0M339.4 347.6h0M346.4 349.9h0M345.7 354.9h0M350.4 395.2h0M342.4 387.6h0M336.5 382.2h0M340.5 395.3h0M343.7 344.3h0M336.1 371.0h0M351.8 367.9h0M321.3 374.1h0M349.3 397.0h0M344.3 382.1h0M333.5 380.4h0M345.6 373.9h0M342.7 398.7h0M349.4 397.8h0M347.5 376.7h0M336.9 397.6h0M342.6 334.5h0M349.9 377.4h0M338.2 342.3h0M337.6 389.8h0M347.2 331.8h0M347.3 395.2h0M350.5 359.7h0M350.2 341.7h0M349.4 381.9h0M343.4 377.1h0M334.5 386.9h0M342.1 399.2h0M338.8 353.7h0M351.6 363.4h0M349.4 387.9h0M348.0 382.0h0M339.3 365.0h0M344.3 338.3h0M335.4 400.7h0M325.6 394.7h0M340.3 355.1h0M330.7 352.0h0M324.9 370.6h0M351.8 402.0h0M351.8 384.8h0M351.0 317.3h0M334.5 354.0h0M325.7 398.5h0M343.8 369.2h0M351.5 400.6h0M346.8 389.8h0M349.7 360.6h0M342.9 344.9h0M349.6 394.2h0M349.9 385.3h0M350.6 349.0h0M347.6 356.4h0M346.1 320.1h0M348.2 332.6h0M339.3 391.0h0M339.4 397.8h0M346.3 338.3h0M350.4 366.5h0M346.5 364.6h0M351.8 374.5h0M332.2 379.9h0M351.6 357.5h0M335.7 342.3h0M344.1 356.6h0M346.8 339.1h0M351.3 380.6h0M351.3 336.6h0M344.0 370.2h0M336.7 306.3h0M328.3 395.3h0M346.8 331.6h0M349.3 371.8h0M345.9 367.6h0M339.0 310.7h0M347.8 338.9h0M349.1 357.4h0M349.6 371.8h0M349.2 349.4h0M348.8 393.6h0M341.9 335.5h0M349.1 335.8h0M346.4 388.1h0M345.1 392.2h0M348.1 322.5h0M344.2 394.6h0M347.1 355.5h0M344.0 358.3h0M328.9 399.2h0M335.2 367.3h0M350.5 372.9h0M340.4 393.5h0M346.5 398.9h0M335.1 368.2h0M329.9 377.8h0M350.3 399.8h0M340.6 353.4h0M348.8 357.9h0M347.9 380.8h0M332.7 361.5h0M350.0 396.3h0M350.6 337.6h0M333.3 397.1h0M325.0 399.9h0M346.9 401.7h0M321.8 385.1h0M347.4 383.3h0M351.2 336.1h0M347.9 325.8h0M343.9 354.2h0M350.2 345.5h0M326.1 395.8h0M349.2 327.0h0M322.2 401.4h0M341.9 363.6h0M349.4 325.9h0M351.2 380.7h0M335.1 372.1h0M349.9 372.8h0M351.4 398.3h0M347.8 375.6h0M338.1 401.5h0M337.8 398.6h0M347.9 346.7h0M346.0 350.9h0M348.2 336.5h0M341.3 376.8h0M345.6 396.1h0M346.0 371.1h0M337.4 374.1h0M339.7 388.6h0M349.1 385.2h0M349.9 341.7h0M341.9 363.7h0M336.1 360.7h0M349.3 377.9h0M346.9 370.0h0M350.1 340.4h0M346.2 372.9h0M350.6 393.0h0M343.2 360.3h0M347.3 346.7h0M348.4 359.9h0M346.6 401.5h0M351.1 347.7h0M351.9 392.8h0M351.4 392.9h0M351.5 381.6h0M340.9 346.6h0M322.2 363.3h0M351.0 308.9h0M339.8 342.7h0M351.7 398.4h0M351.0 357.1h0M340.9 388.2h0M347.3 395.2h0M348.0 368.1h0M351.3 385.8h0M349.7 382.8h0M350.6 373.1h0M335.8 399.2h0M345.4 396.6h0M338.9 380.2h0M328.1 361.9h0M350.9 334.5h0M345.0 385.5h0M344.4 400.2h0M349.2 366.3h0M342.1 363.1h0M344.2 396.1h0M343.9 368.3h0M344.3 340.1h0M350.0 314.2h0M346.4 384.1h0M332.4 381.3h0M342.0 353.0h0M346.9 398.2h0M336.3 336.7h0M348.4 362.2h0M330.8 360.1h0M323.9 354.6h0M347.1 393.5h0M351.8 348.7h0M351.9 386.6h0M345.3 384.4h0M344.5 388.5h0M338.2 394.8h0M341.1 324.6h0M340.3 345.8h0M347.7 320.5h0M339.6 355.4h0M347.5 400.7h0M338.1 381.6h0M346.9 388.1h0M339.8 373.6h0M349.7 364.8h0M342.0 336.1h0M325.0 400.7h0M343.0 398.0h0M346.0 365.4h0M349.5 390.3h0M339.3 365.1h0M347.2 398.7h0M347.9 393.8h0M343.2 365.7h0M343.6 354.8h0M347.2 386.3h0M347.1 384.9h0M349.8 378.0h0M349.1 346.4h0M345.1 378.1h0M348.0 383.2h0M345.4 380.2h0M336.6 400.4h0M351.9 362.7h0M339.7 347.2h0M349.6 359.8h0M349.8 336.2h0M335.2 348.7h0M340.6 339.7h0M338.3 385.7h0M341.2 396.5h0M350.2 361.1h0M351.2 374.7h0M341.3 372.2h0M343.6 357.2h0M347.5 393.9h0M350.6 363.3h0M342.8 392.1h0M330.8 377.6h0M338.3 387.4h0M333.1 381.0h0M347.8 366.5h0M348.2 341.8h0M345.9 395.3h0M339.1 306.3h0M349.2 350.8h0M328.3 390.6h0M351.2 335.3h0M320.4 372.4h0M348.0 396.9h0M347.8 371.3h0M342.5 367.2h0M350.5 378.7h0M338.7 371.3h0M351.1 353.2h0M347.8 348.3h0M343.8 398.3h0M334.8 342.2h0M342.4 395.9h0M347.4 385.5h0M349.7 335.3h0M347.8 397.1h0M351.7 344.8h0M350.3 311.9h0M340.8 345.9h0M349.4 378.8h0M342.3 359.6h0M337.4 367.2h0M348.4 375.8h0M320.8 365.5h0M337.7 381.8h0M334.6 392.6h0M348.6 379.4h0M351.8 312.2h0M320.6 400.4h0M344.9 345.2h0M325.0 372.1h0M340.8 360.1h0M344.3 389.7h0M341.5 392.0h0M351.6 337.9h0M339.7 376.5h0M350.9 391.5h0M329.0 336.1h0M347.0 363.0h0M349.7 362.5h0M349.4 399.7h0M350.6 381.1h0M351.9 356.1h0M350.8 338.7h0M346.6 336.3h0M351.8 394.7h0M346.6 395.6h0M350.0 399.5h0M348.9 365.4h0M337.6 384.7h0M348.6 394.4h0M345.5 304.6h0M347.3 366.2h0M324.8 371.7h0M347.6 356.0h0M344.1 384.0h0M351.8 396.8h0M337.0 392.3h0M344.7 381.4h0M350.0 330.3h0M336.3 361.1h0M345.4 351.7h0M348.4 349.2h0M343.0 390.0h0M334.9 378.6h0M342.6 393.7h0M340.9 364.6h0M338.9 368.6h0M348.0 386.5h0M344.6 333.6h0M332.5 379.2h0M343.4 390.1h0M347.0 335.1h0M348.8 382.1h0M346.1 329.4h0M344.4 357.5h0M339.3 367.4h0M340.5 400.4h0M349.3 347.3h0M340.3 395.0h0M347.3 367.1h0M343.5 388.5h0M350.2 393.4h0M348.6 385.3h0M349.9 375.9h0M347.2 372.3h0M349.4 334.1h0M351.7 389.6h0M338.2 357.9h0M344.9 356.2h0M344.7 361.1h0M350.3 364.9h0M342.7 349.6h0M343.6 345.0h0M339.4 368.5h0M344.0 343.2h0M348.3 384.7h0M348.2 367.7h0M348.8 385.3h0M342.2 390.3h0M340.6 395.1h0M340.4 378.3h0M346.9 395.6h0M320.2 370.5h0M346.8 381.0h0M329.2 353.3h0M351.4 355.3h0M345.3 367.8h0M328.9 391.7h0M322.9 389.1h0M345.8 391.3h0M351.6 397.9h0M325.7 345.7h0M347.4 361.1h0M347.4 334.8h0M345.6 401.2h0M339.4 385.4h0M350.6 395.0h0M351.6 329.5h0M349.9 342.8h0M347.8 392.3h0M343.2 367.2h0M346.7 363.0h0M343.0 379.6h0M347.6 399.4h0M350.9 341.6h0M347.8 386.3h0M348.0 389.8h0M349.7 389.3h0M334.3 360.2h0M351.8 383.1h0M346.7 355.0h0M342.9 361.3h0M351.8 313.0h0M347.7 390.0h0M343.6 322.2h0M334.0 386.9h0M351.8 348.1h0M339.3 396.8h0M343.2 387.9h0M342.4 388.0h0M341.8 345.4h0M338.4 390.4h0M325.1 396.4h0M343.3 399.4h0M348.1 368.7h0M342.9 396.5h0M346.3 386.2h0M351.8 388.2h0M329.9 378.3h0M348.7 376.9h0M342.3 365.3h0M350.4 400.2h0M335.8 307.4h0M325.2 383.8h0M336.6 339.3h0M350.4 343.7h0M349.9 354.1h0M350.0 401.3h0M329.3 332.6h0M332.8 381.9h0M348.0 380.9h0M351.1 401.1h0M349.4 375.7h0M346.3 341.1h0M350.1 378.8h0M348.0 323.2h0M343.9 371.5h0M343.8 358.1h0M350.9 371.3h0M336.1 392.8h0M350.7 389.8h0M348.7 337.7h0M350.6 346.6h0M337.6 394.4h0M348.3 360.3h0M348.3 366.0h0M351.8 352.9h0M347.9 345.5h0M351.8 388.1h0M343.2 349.9h0M337.3 370.9h0M351.1 352.7h0M351.7 331.6h0M349.9 355.7h0M340.5 384.0h0M344.5 384.0h0M349.4 388.4h0M350.5 349.0h0M347.5 373.5h0M341.4 340.8h0M351.3 361.7h0M344.2 370.2h0M344.9 360.6h0M334.7 384.6h0M348.1 355.9h0M341.7 302.3h0M347.4 336.1h0M341.6 346.6h0M349.7 365.8h0M342.7 343.2h0M346.3 320.1h0M338.2 397.5h0M345.1 336.0h0M351.9 353.9h0M341.4 386.4h0M347.7 389.2h0M346.6 346.9h0M337.7 368.5h0M341.2 356.7h0M348.3 376.9h0M347.2 356.2h0M346.0 352.6h0M337.9 349.1h0M336.5 367.4h0M340.0 389.0h0M335.1 369.0h0M339.5 383.9h0M346.1 364.1h0M347.5 339.4h0M351.1 372.3h0M351.7 399.7h0M348.4 395.6h0M347.1 347.1h0M350.3 373.4h0M323.6 371.3h0M327.5 394.2h0M341.6 401.3h0M328.2 378.1h0M344.4 398.2h0M345.8 356.4h0M337.6 342.2h0M347.5 388.4h0M350.8 375.1h0M333.7 374.4h0M338.4 316.2h0M349.5 380.1h0M347.4 362.9h0M343.2 373.5h0M351.5 400.9h0M349.7 348.8h0M346.3 385.1h0M343.5 401.0h0M347.5 390.2h0M348.3 376.9h0M348.4 342.3h0M338.1 385.3h0M335.4 358.6h0M350.4 348.2h0M348.5 358.2h0M341.4 386.4h0M338.7 318.8h0M339.9 324.6h0M350.9 363.0h0M348.7 387.4h0M336.6 391.1h0M340.5 383.8h0M349.1 352.3h0M351.5 338.1h0M350.1 381.9h0M347.1 348.9h0M346.2 358.2h0M346.6 392.7h0M337.6 396.3h0M336.2 384.5h0M337.1 359.7h0M330.2 326.1h0M350.2 373.9h0M345.8 376.2h0M335.7 362.2h0M348.8 376.0h0M351.4 368.8h0M351.0 369.3h0M328.4 356.4h0M346.6 391.0h0M328.6 380.2h0M335.3 383.6h0M338.6 352.5h0M343.8 398.0h0M348.1 389.3h0M349.0 375.6h0M346.9 361.1h0M341.8 384.9h0M339.7 384.4h0M351.2 394.1h0M345.2 350.0h0M346.8 365.0h0" stroke="#F8575A" stroke-width="2.2" stroke-linecap="round" fill="none"/><path d="M305.7 383.7h0M314.0 328.9h0M332.6 280.8h0M323.9 283.8h0M338.2 285.2h0M341.6 298.5h0" stroke="#F8575A" stroke-width="2.2" stroke-linecap="round" fill="none"/><path d="M372.4 347.9h0M388.8 361.0h0M390.2 328.1h0M381.5 396.9h0M384.2 393.9h0M381.4 393.9h0M382.9 330.8h0M389.2 334.7h0M419.0 333.0h0M370.7 385.4h0M394.7 376.1h0M375.2 323.7h0M372.3 328.9h0M373.7 351.3h0M376.1 376.5h0M390.9 348.0h0M393.9 328.0h0M407.3 386.6h0M375.5 333.7h0M392.0 381.2h0M376.4 358.6h0M374.6 351.4h0M396.0 367.9h0M380.5 393.9h0M387.4 392.0h0M371.8 379.3h0M370.3 356.3h0M374.5 380.6h0M374.4 383.2h0M388.7 351.8h0M381.1 348.2h0M373.4 398.2h0M378.3 399.7h0M421.9 394.0h0M381.5 320.0h0M377.5 333.8h0M376.4 357.2h0M382.0 395.2h0M390.9 358.0h0M380.8 389.7h0M376.9 360.8h0M423.2 343.7h0M380.5 388.1h0M376.7 358.2h0M394.2 378.1h0M379.9 368.1h0M370.7 320.1h0M388.8 348.8h0M382.2 370.9h0M416.7 343.1h0M371.6 355.2h0M416.6 387.4h0M393.9 325.7h0M370.8 330.2h0M371.1 384.3h0M373.2 399.0h0M419.5 366.3h0M374.1 362.7h0M377.1 367.7h0M372.9 320.4h0M380.2 399.6h0M380.3 383.4h0M370.9 367.0h0M370.7 389.3h0M382.7 368.2h0M384.9 397.8h0M387.5 363.5h0M377.4 330.8h0M379.4 325.5h0M384.7 360.1h0M388.2 366.9h0M371.0 323.2h0M390.6 322.7h0M376.9 394.1h0M371.7 333.7h0M410.0 345.5h0M370.9 353.8h0M372.7 375.4h0M377.0 394.2h0M372.1 351.5h0M373.5 385.7h0M382.9 371.2h0M395.7 318.9h0M370.4 367.1h0M377.1 338.6h0M412.8 376.7h0M390.9 353.9h0M371.8 372.3h0M389.7 392.6h0M391.2 324.2h0M372.1 335.5h0M380.5 350.6h0M413.2 369.7h0M390.1 324.0h0M376.4 329.6h0M383.2 327.0h0M371.2 400.0h0M400.7 402.0h0M376.8 362.6h0M375.0 389.0h0M370.5 389.1h0M373.1 316.8h0M379.7 390.7h0M381.2 301.2h0M402.3 365.5h0M376.2 348.4h0M386.4 334.7h0M375.1 372.4h0M377.7 371.7h0M400.3 381.8h0M380.8 374.2h0M387.3 341.7h0M375.1 317.3h0M372.5 355.9h0M403.5 352.9h0M382.1 390.9h0M401.6 340.8h0M377.1 396.1h0M376.6 363.3h0M398.3 394.1h0M378.9 359.5h0M371.2 322.4h0M376.3 397.0h0M400.5 366.7h0M413.8 370.1h0M372.9 335.8h0M380.3 329.3h0M393.5 333.5h0M371.2 359.1h0M399.0 324.2h0M393.3 400.3h0M373.7 359.5h0M393.4 367.8h0M387.6 322.2h0M395.8 363.2h0M387.5 364.2h0M392.3 375.0h0M381.9 351.4h0M383.1 383.8h0M380.0 373.5h0M373.9 362.9h0M374.6 341.0h0M375.1 380.3h0M389.2 399.3h0M376.5 383.8h0M371.6 383.1h0M390.7 386.1h0M370.5 373.1h0M386.3 397.8h0M381.0 385.2h0M371.5 343.4h0M382.3 381.3h0M377.2 312.3h0M412.4 396.4h0M385.0 337.2h0M395.0 383.5h0M381.6 372.1h0M391.7 313.4h0M396.2 368.1h0M382.1 400.6h0M374.7 379.7h0M375.0 395.8h0M381.1 395.2h0M373.9 379.7h0M377.3 373.9h0M376.3 305.4h0M386.1 390.5h0M376.1 341.1h0M382.0 317.5h0M390.7 375.3h0M380.1 369.0h0M411.7 334.6h0M371.8 333.4h0M374.3 336.4h0M374.3 398.3h0M423.1 381.2h0M380.9 398.9h0M401.8 394.0h0M372.5 382.1h0M395.8 387.1h0M394.4 335.0h0M371.5 334.9h0M378.5 340.0h0M376.5 378.5h0M370.9 343.8h0M379.1 386.2h0M379.9 326.6h0M373.9 374.5h0M373.7 334.4h0M411.8 401.7h0M371.5 381.5h0M372.2 343.8h0M386.1 392.7h0M373.0 294.7h0M378.4 382.3h0M396.4 345.9h0M375.9 386.0h0M374.5 390.8h0M375.9 309.3h0M380.6 341.4h0M395.5 365.2h0M393.1 366.0h0M378.5 386.1h0M374.1 367.1h0M384.1 360.0h0M374.0 401.9h0M372.0 395.6h0M372.9 383.2h0M382.5 393.3h0M392.7 357.0h0M375.4 393.6h0M371.9 383.5h0M422.1 391.0h0M378.0 372.4h0M376.6 388.2h0M389.7 381.0h0M394.3 322.5h0M395.8 396.6h0M378.3 373.2h0M379.0 299.9h0M374.2 322.6h0M377.0 351.2h0M372.7 393.8h0M376.8 382.6h0M374.4 349.4h0M412.8 386.2h0M390.1 401.6h0M404.3 350.4h0M390.8 352.2h0M387.4 310.0h0M377.1 402.0h0M380.1 345.6h0M372.9 363.7h0M384.6 339.0h0M373.2 383.9h0M375.3 352.4h0M375.5 391.5h0M382.9 336.5h0M395.5 306.1h0M371.1 368.1h0M380.6 400.1h0M387.1 318.8h0M371.9 373.4h0M375.6 377.3h0M387.4 383.5h0M384.8 326.4h0M379.3 332.7h0M378.6 359.9h0M396.6 362.9h0M377.4 366.4h0M419.0 368.2h0M372.5 327.4h0M379.5 352.0h0M376.4 327.0h0M371.9 349.8h0M420.0 382.6h0M386.7 367.8h0M387.5 349.7h0M371.4 379.3h0M378.1 346.2h0M372.1 349.7h0M393.2 356.6h0M381.5 336.2h0M382.7 365.4h0M402.7 396.5h0M378.8 373.3h0M398.8 331.2h0M387.8 358.0h0M415.8 362.5h0M372.9 370.6h0M374.3 347.6h0M383.9 358.6h0M372.5 375.1h0M404.7 377.7h0M392.7 328.5h0M372.3 374.6h0M375.9 379.2h0M375.8 351.6h0M397.6 395.6h0M390.3 341.9h0M370.6 351.5h0M372.7 356.2h0M413.4 396.2h0M387.3 319.5h0M402.0 380.1h0M376.0 367.2h0M375.7 399.0h0M394.2 399.7h0M376.5 395.3h0M418.6 356.6h0M386.9 317.3h0M372.1 370.4h0M390.9 401.1h0M373.7 398.7h0M394.0 312.6h0M378.8 356.7h0M372.6 377.8h0M389.0 316.8h0M386.5 336.4h0M390.5 350.8h0M372.4 359.8h0M395.4 385.9h0M398.1 358.9h0M375.0 381.9h0M373.3 387.2h0M418.9 360.5h0M381.4 333.6h0M393.9 400.6h0M381.5 300.2h0M395.8 357.3h0M374.8 401.2h0M375.9 345.1h0M374.7 394.7h0M380.1 347.4h0M374.5 370.3h0M372.8 387.3h0M376.8 327.5h0M371.8 396.3h0M405.8 328.3h0M374.8 400.2h0M375.8 359.0h0M423.1 389.9h0M370.9 391.1h0M379.8 387.3h0M372.4 334.0h0M374.2 309.7h0M382.4 343.8h0M370.5 350.1h0M419.6 397.9h0M393.6 377.1h0M406.3 328.5h0M383.0 362.4h0M371.4 375.4h0M386.4 383.7h0M384.1 335.3h0M385.8 359.8h0M405.2 347.2h0M387.9 389.0h0M370.8 321.5h0M374.5 382.4h0M371.9 401.3h0M397.3 380.7h0M377.6 338.6h0M382.6 398.0h0M401.2 395.8h0M372.5 325.6h0M372.7 351.8h0M401.8 377.2h0M371.4 343.8h0M417.9 364.9h0M376.2 376.8h0M375.7 360.8h0M375.7 381.1h0M382.4 400.1h0M381.9 363.0h0M388.9 343.1h0M370.6 392.2h0M387.2 367.2h0M378.2 384.2h0M380.0 348.2h0M376.0 360.5h0M370.5 388.0h0M376.8 330.6h0M392.9 389.8h0M371.5 322.8h0M372.4 345.1h0M371.1 355.8h0M375.2 334.8h0M424.3 357.3h0M381.4 348.8h0M386.5 369.8h0M370.4 337.2h0M372.4 328.5h0M424.1 362.8h0M389.3 376.6h0M401.9 313.8h0M401.2 349.0h0M371.0 378.8h0M372.1 378.4h0M395.1 382.4h0M380.6 360.3h0M376.0 389.9h0M378.1 330.5h0M373.7 390.9h0M385.2 393.4h0M371.0 360.5h0M374.6 396.3h0M391.6 329.7h0M379.6 387.0h0M370.5 321.8h0M374.9 325.7h0M374.9 391.5h0M380.9 331.8h0M378.1 401.5h0M413.2 360.7h0M374.9 338.0h0M370.7 364.6h0M373.2 336.5h0M379.0 357.7h0M381.6 366.3h0M371.7 366.4h0M390.7 382.3h0M377.8 320.0h0M372.0 320.9h0M379.4 332.5h0M397.6 324.9h0M386.8 364.1h0M374.7 363.7h0M418.0 390.0h0M374.1 401.9h0M418.4 361.9h0M374.0 370.3h0M371.7 365.0h0M403.1 323.5h0M380.9 341.1h0M372.2 363.1h0M416.1 388.6h0M373.4 391.1h0M374.6 393.6h0M380.3 394.8h0M374.3 320.4h0M394.8 362.3h0M385.3 346.4h0M378.8 331.7h0M372.6 363.8h0M373.5 324.7h0M379.1 379.0h0M398.9 339.0h0M371.9 345.0h0M410.3 369.1h0M382.4 369.6h0M377.7 330.5h0M381.0 315.5h0M381.6 394.5h0M371.6 359.7h0M393.5 354.4h0M373.4 347.2h0M374.1 339.9h0M372.9 359.0h0M382.6 396.8h0M376.1 352.9h0M370.3 391.3h0M384.5 325.7h0M395.6 377.3h0M377.4 359.0h0M377.6 393.6h0M371.6 324.6h0M376.1 374.5h0M375.6 357.8h0M377.2 401.1h0M371.1 351.1h0M373.8 305.5h0M384.9 323.7h0M386.3 306.8h0M380.1 400.4h0M378.1 352.0h0M372.4 396.1h0M376.1 344.3h0M374.8 390.3h0M370.8 370.9h0M387.6 328.7h0M375.0 334.5h0M398.7 390.0h0M382.6 385.2h0M370.4 400.9h0M371.7 313.9h0M407.7 361.6h0M411.2 398.3h0M375.4 371.6h0M383.0 357.4h0M425.5 347.3h0M370.6 395.6h0M379.2 316.4h0M374.8 397.1h0M377.5 372.5h0M377.9 385.9h0M380.6 388.2h0M402.6 382.2h0M372.1 341.0h0M404.8 398.4h0M379.3 394.2h0M379.6 325.2h0M370.5 383.2h0M380.0 318.1h0M410.9 375.5h0M373.4 393.0h0M378.4 349.1h0M373.6 346.2h0M420.7 317.2h0M388.9 365.9h0M385.2 378.6h0M393.4 337.0h0M376.5 383.0h0M381.9 398.3h0M377.3 386.4h0M372.7 381.2h0M372.7 394.9h0M383.5 379.2h0M386.3 332.2h0M386.2 383.8h0M373.4 355.8h0M411.4 390.4h0M375.5 395.1h0M383.9 317.3h0M374.6 372.3h0M383.3 338.0h0M380.1 355.2h0M385.3 328.8h0M389.2 325.9h0M377.9 340.6h0M377.7 350.4h0M390.7 354.3h0M395.4 384.1h0M387.5 361.1h0M374.2 398.8h0M383.9 399.9h0M372.9 384.7h0M385.9 316.3h0M388.6 387.3h0M372.1 331.0h0M372.2 365.2h0M397.4 325.4h0M371.2 390.5h0M379.9 320.7h0M410.2 374.2h0M371.8 378.2h0M417.2 330.4h0M372.8 322.1h0M376.9 311.0h0M390.1 376.8h0M411.5 371.6h0M384.4 319.2h0M375.6 353.4h0M370.8 385.8h0M379.5 343.4h0M370.9 325.0h0M371.6 391.7h0M398.8 319.2h0M385.4 398.1h0M393.3 337.8h0M376.9 296.9h0M401.8 398.8h0M370.7 396.7h0M379.1 378.9h0M371.0 384.5h0M408.3 344.8h0M389.1 340.9h0M374.7 390.3h0M376.1 384.8h0M378.6 326.7h0M375.4 332.9h0M370.3 349.0h0M412.3 363.4h0M371.7 345.9h0M405.5 386.2h0M386.3 385.4h0M373.6 392.3h0M386.1 362.1h0M390.6 390.4h0M376.0 392.2h0M384.1 348.6h0M393.1 379.4h0M412.5 343.9h0M393.8 375.5h0M393.4 363.6h0M380.5 356.2h0M375.3 337.4h0M373.6 389.0h0M409.0 364.4h0M375.7 389.3h0M384.4 342.8h0M372.1 344.7h0M372.9 342.9h0M385.4 351.6h0M374.4 302.5h0M375.2 345.1h0M423.7 348.8h0M395.5 378.3h0M388.3 340.9h0M378.3 309.5h0M385.1 347.0h0M378.9 346.7h0M414.0 399.2h0M376.6 372.3h0M377.6 396.3h0M377.0 395.8h0M399.2 399.6h0M403.2 393.3h0M373.8 378.2h0M380.4 383.5h0M374.0 319.6h0M371.4 330.1h0M396.7 382.2h0M372.4 377.1h0M375.0 376.7h0M373.4 345.0h0M378.4 376.3h0M408.6 336.2h0M379.0 320.8h0M381.9 393.1h0M370.3 343.3h0M376.3 323.0h0M384.2 395.8h0M394.1 342.0h0M378.7 318.8h0M395.9 372.6h0M403.9 364.2h0M375.2 319.0h0M381.0 393.8h0M374.3 347.1h0M377.7 384.5h0M381.9 331.2h0M377.2 369.1h0M394.7 334.7h0M379.9 370.1h0M400.1 372.8h0M379.8 362.7h0M390.9 351.9h0M370.3 352.3h0M421.5 353.6h0M380.5 387.5h0M373.0 313.7h0M421.5 367.4h0M385.9 388.8h0M373.6 339.7h0M383.8 394.1h0M391.3 380.4h0M379.0 376.6h0M370.8 352.5h0M383.2 372.6h0M373.6 382.5h0M382.5 355.0h0M396.5 378.0h0M377.2 347.5h0M371.4 358.9h0M371.4 365.3h0M372.8 350.3h0M400.8 391.8h0M382.2 318.8h0M401.2 344.3h0M372.3 397.9h0M374.0 344.8h0M400.7 392.8h0M372.3 331.1h0M374.1 393.4h0M377.4 335.9h0M373.8 381.6h0M375.3 395.6h0M402.8 388.4h0M396.5 343.3h0M378.5 371.5h0M380.2 331.2h0M387.5 369.1h0M370.6 392.8h0M371.5 341.9h0M381.4 389.1h0M370.3 351.5h0M372.3 326.2h0M402.8 359.1h0M384.6 389.8h0M377.6 320.8h0M380.2 384.9h0M370.4 395.4h0M373.2 383.9h0M371.3 305.4h0M381.9 345.9h0M385.4 398.9h0M391.8 393.2h0M391.8 346.6h0M372.4 337.8h0M378.5 310.3h0M370.7 331.4h0M386.5 343.8h0M403.2 354.2h0M397.1 401.6h0M373.8 375.2h0M405.7 372.6h0M371.9 330.5h0M405.8 360.7h0M393.1 360.0h0M376.3 362.0h0M377.5 370.0h0M400.9 381.5h0M412.0 399.6h0M370.5 369.7h0M388.8 347.3h0M374.3 356.5h0M393.1 393.0h0M379.9 342.7h0M376.3 392.4h0M379.5 368.2h0M380.2 350.1h0M374.2 329.1h0M393.2 371.3h0M376.5 379.0h0M389.3 393.9h0M409.8 335.9h0M374.7 342.4h0M401.2 398.9h0M394.3 378.0h0M372.1 386.1h0M371.8 382.8h0M375.4 395.4h0M386.8 356.1h0M380.3 367.9h0M415.5 386.3h0M386.1 389.4h0M372.7 369.3h0M383.1 381.6h0M374.8 333.5h0M372.7 343.5h0M371.1 343.1h0M376.3 401.5h0M372.6 354.3h0M371.5 397.0h0M381.2 334.8h0M371.0 378.6h0M370.3 342.3h0M401.9 387.5h0M371.7 361.4h0M373.7 372.9h0M389.7 381.2h0M373.8 358.9h0M377.6 370.9h0M389.4 325.1h0M395.2 339.8h0M390.3 327.7h0M372.8 371.3h0M418.4 338.1h0M397.5 327.1h0M413.1 331.7h0M378.7 347.1h0M388.7 392.6h0M403.2 380.5h0M373.6 312.7h0M373.2 369.5h0M406.7 382.6h0M372.2 393.9h0M381.2 346.6h0M409.1 387.7h0M374.6 397.7h0M379.0 400.5h0M371.3 374.2h0M376.1 340.2h0M386.9 367.0h0M374.3 325.6h0M372.5 398.2h0M395.4 338.3h0M402.7 341.5h0M393.0 363.6h0M383.3 324.5h0M383.8 399.6h0M377.7 379.3h0M387.6 325.7h0M381.0 392.6h0M408.9 398.0h0M382.3 384.0h0M389.0 352.3h0M374.9 391.7h0M371.3 381.2h0M373.4 353.6h0M418.2 353.1h0M372.1 305.5h0M397.1 395.0h0M378.2 399.1h0M390.7 401.1h0M417.0 348.3h0M373.6 400.0h0M411.1 377.1h0M407.7 375.1h0M397.0 398.2h0M409.5 388.1h0M384.7 385.6h0M408.7 378.8h0M372.0 334.0h0M378.3 313.7h0M383.1 396.2h0M373.6 369.3h0M397.7 331.2h0M403.9 307.9h0M372.9 388.8h0M377.3 394.9h0M370.4 389.4h0M398.8 320.0h0M371.8 399.0h0M390.2 337.3h0M385.1 355.2h0M395.9 323.8h0M389.9 401.4h0M394.3 355.1h0M377.9 358.2h0M425.9 368.5h0M386.0 369.0h0M371.2 399.1h0M378.8 339.4h0M387.3 358.6h0M392.9 356.6h0M400.7 337.9h0M376.9 389.9h0M395.3 327.4h0M380.1 380.4h0M371.6 329.6h0M388.2 394.1h0M374.6 384.8h0M376.7 389.6h0M403.0 399.5h0M372.2 303.5h0M412.7 397.0h0M373.8 395.7h0M380.3 344.7h0M377.0 337.7h0M391.3 361.1h0M382.6 310.0h0M380.9 381.1h0M398.8 350.9h0M404.5 322.0h0M404.4 346.1h0M374.2 363.5h0M404.6 375.5h0M386.0 342.4h0M384.6 392.8h0M408.0 326.9h0M382.5 351.4h0M392.4 390.1h0M381.5 364.5h0M372.2 354.4h0M371.5 384.3h0M371.0 302.1h0M389.1 356.8h0M372.9 330.2h0M383.4 393.1h0M382.5 378.4h0M372.3 392.6h0M371.9 392.8h0M378.6 355.7h0M374.0 387.1h0M372.2 391.9h0M382.7 356.9h0M385.6 313.0h0M418.1 378.1h0M372.8 326.7h0M372.4 318.7h0M403.6 344.3h0M376.8 396.1h0M375.3 334.2h0M371.9 361.7h0M381.7 322.2h0M372.3 400.2h0M384.7 309.7h0M378.8 365.3h0M378.4 331.9h0M372.1 382.6h0M372.3 349.7h0M382.3 361.0h0M393.3 387.8h0M372.3 386.4h0M379.3 320.0h0M378.0 388.4h0M377.5 394.6h0M381.3 352.4h0M394.2 342.2h0M388.6 393.4h0M384.6 373.2h0M371.5 343.7h0M397.1 321.1h0M425.1 391.8h0M387.2 316.4h0M396.9 355.3h0M371.3 335.5h0M380.0 371.2h0M411.1 333.1h0M370.7 375.3h0M395.3 374.9h0M377.3 373.9h0M382.2 381.2h0M373.7 327.4h0M371.6 389.0h0M376.6 377.8h0M382.6 339.0h0M373.1 376.7h0M400.8 389.8h0M378.5 386.8h0M378.3 398.4h0M375.2 314.1h0M377.4 364.8h0M392.3 333.2h0M410.2 352.5h0M385.2 398.3h0M376.5 360.1h0M385.1 385.2h0M373.7 365.1h0M372.2 376.4h0M377.6 355.1h0M373.2 390.4h0M400.3 356.5h0M373.4 328.1h0M380.4 390.5h0M376.0 304.1h0M401.2 345.0h0M373.7 383.5h0M391.4 380.4h0M370.8 377.5h0M371.4 341.8h0M370.6 356.2h0M378.5 393.5h0M392.6 317.0h0M408.6 348.0h0M400.2 344.1h0M373.3 323.3h0M382.6 365.2h0M422.8 392.5h0M388.2 384.4h0M370.9 358.1h0M379.9 372.5h0M374.4 370.6h0M389.6 374.3h0M375.1 361.8h0M371.2 324.2h0M402.6 339.8h0M395.3 382.3h0M384.3 344.7h0M381.0 353.0h0M391.5 320.4h0M390.9 351.8h0M384.2 392.0h0M371.4 312.6h0M388.3 369.5h0M370.9 342.8h0M370.6 397.0h0M372.3 371.6h0M405.1 327.3h0M373.9 332.2h0M374.9 334.3h0M388.6 388.2h0M371.0 393.2h0M373.4 321.0h0M412.1 347.6h0M396.2 401.8h0M401.0 340.1h0M379.0 316.1h0M387.1 401.0h0M396.7 397.8h0M373.0 388.5h0M371.6 328.4h0M402.6 386.3h0M380.3 323.0h0M373.1 331.5h0M377.8 339.5h0M386.5 393.7h0M379.5 337.2h0M374.5 386.9h0M381.3 397.5h0M380.1 399.8h0M405.2 328.2h0M372.7 386.6h0M401.8 306.9h0M380.3 380.8h0M389.8 395.5h0M409.1 303.2h0M370.3 360.6h0M420.5 363.3h0M385.1 356.9h0M376.8 400.3h0M372.7 399.3h0M383.7 351.0h0M372.5 335.2h0M388.1 310.8h0M386.6 369.5h0M370.3 389.9h0M385.8 378.8h0M374.6 397.0h0M401.2 374.5h0M383.5 379.3h0M398.9 365.4h0M374.2 397.8h0M404.5 367.9h0M378.4 401.1h0M398.9 335.8h0M370.5 346.4h0M370.9 346.8h0M399.3 378.6h0M396.3 324.4h0M382.9 331.9h0M387.0 337.8h0M382.3 327.8h0M419.7 372.1h0M374.2 395.6h0M396.1 389.5h0M395.7 375.0h0M375.1 386.2h0M383.0 382.3h0M374.3 355.8h0M380.1 400.4h0M371.2 334.0h0M401.5 356.3h0M411.3 353.7h0M398.8 394.6h0M376.0 349.9h0M373.4 338.3h0M375.7 399.4h0M372.2 391.6h0M399.6 394.0h0M372.9 371.7h0M373.5 388.3h0M377.1 353.8h0M380.2 379.0h0M395.6 389.2h0M400.8 334.2h0M371.9 326.3h0M392.1 388.0h0M374.3 379.6h0M384.5 394.1h0M372.0 342.3h0M378.1 358.6h0M371.1 339.3h0M380.5 323.3h0M376.8 320.3h0M382.0 364.1h0M372.8 331.3h0M370.7 364.2h0M384.5 342.9h0M409.4 342.7h0M371.9 349.3h0M386.6 346.1h0M395.1 346.3h0M378.9 383.2h0M383.8 321.0h0M373.7 351.8h0M375.7 399.4h0M376.7 399.0h0M374.5 396.0h0M371.6 353.4h0M372.0 326.2h0M384.9 396.1h0M388.6 375.8h0M371.7 391.8h0M397.7 328.9h0M384.1 320.9h0M409.8 358.9h0M378.6 331.4h0M383.8 340.2h0M408.6 365.4h0M370.6 347.9h0M425.4 321.5h0M392.3 321.1h0M375.2 373.8h0M373.3 387.1h0M390.7 393.3h0M376.5 393.0h0M387.6 396.4h0M404.9 299.2h0M379.9 369.6h0M379.0 366.8h0M370.9 365.5h0M419.9 383.8h0M375.4 333.5h0M377.7 344.7h0M393.8 387.1h0M384.0 364.3h0M379.1 385.6h0M377.2 398.8h0M375.3 381.9h0M397.2 352.1h0M388.7 345.7h0M412.4 340.4h0M372.0 379.1h0M377.9 324.7h0M373.9 390.3h0M404.1 398.8h0M373.8 364.1h0M420.5 317.1h0M373.9 390.4h0M391.7 350.4h0M370.4 319.6h0M372.6 351.5h0M371.3 348.3h0M370.5 397.8h0M374.1 331.4h0M382.1 363.1h0M385.0 394.3h0M392.4 348.8h0M375.9 368.6h0M386.1 394.7h0M401.6 398.4h0M413.1 376.8h0M400.8 391.2h0M389.6 333.6h0M395.0 319.2h0M378.7 353.5h0M371.2 390.5h0M375.7 327.4h0M387.2 393.4h0M383.4 369.3h0M381.9 370.7h0M374.0 400.1h0M392.0 384.0h0M412.4 391.7h0M385.1 348.7h0M374.3 337.2h0M388.8 346.3h0M396.3 381.6h0M402.2 335.8h0M371.4 401.1h0M376.7 350.7h0M381.2 357.8h0M373.3 355.2h0M377.8 351.9h0M378.9 357.0h0M374.3 376.1h0M370.4 322.3h0M412.2 399.9h0M390.3 366.1h0M402.6 352.7h0M370.3 308.2h0M379.7 351.1h0M378.8 350.4h0M380.9 400.5h0M380.8 393.9h0M382.0 326.8h0M371.0 332.4h0M374.1 377.2h0M400.0 392.9h0M415.2 400.1h0M386.4 381.7h0M383.5 375.6h0M378.5 350.5h0M373.3 401.6h0M373.1 331.6h0M386.4 390.1h0M377.7 385.4h0M382.1 361.3h0M370.5 324.7h0M377.3 377.3h0M372.3 365.3h0M406.2 385.6h0M370.6 380.3h0M393.1 371.0h0M381.7 351.2h0M378.8 332.8h0M401.9 391.2h0M377.4 376.1h0M376.5 380.8h0M372.9 351.8h0M379.9 391.2h0M385.5 398.0h0M371.8 383.2h0M379.4 384.6h0M379.6 392.0h0M399.9 363.6h0M379.5 371.9h0M387.7 315.7h0M398.5 396.4h0M376.0 341.1h0M389.3 355.1h0M399.6 329.8h0M380.9 344.5h0M381.2 327.7h0M377.0 348.8h0M382.2 372.8h0M373.0 376.8h0M385.1 380.3h0M380.0 392.9h0M416.4 384.5h0M406.3 307.0h0M370.7 385.1h0M403.8 364.8h0M391.0 338.3h0M391.3 345.6h0M421.9 375.3h0M417.2 394.4h0M389.0 386.5h0M387.6 363.9h0M378.9 371.9h0M371.0 355.2h0M373.6 385.0h0M423.0 384.0h0M409.8 395.2h0M404.1 369.6h0M393.4 369.3h0M374.5 361.6h0M380.6 348.7h0M373.7 328.4h0M396.5 382.6h0M382.3 380.4h0M371.2 369.0h0M417.9 386.7h0M377.6 368.0h0M382.3 394.4h0M396.2 355.6h0M373.3 353.6h0M382.9 374.8h0M407.7 382.2h0M377.5 378.7h0M373.6 381.3h0M370.9 390.6h0M381.9 357.6h0M372.7 363.0h0M379.7 385.2h0M374.3 345.6h0M394.0 392.5h0M371.3 373.4h0M414.1 382.3h0M377.8 320.8h0M375.7 342.4h0M412.0 354.3h0M403.9 389.5h0M417.0 376.4h0M397.1 341.7h0M372.8 398.7h0M373.8 304.4h0M372.3 371.8h0M380.5 364.5h0M393.3 381.7h0M383.7 390.1h0M370.4 389.1h0M375.5 376.4h0M379.5 321.6h0M371.6 344.7h0M374.8 364.2h0M379.2 360.3h0M374.5 378.4h0M400.3 345.2h0M370.8 382.7h0M375.2 352.5h0M378.5 396.7h0M377.7 365.6h0M381.7 348.8h0M419.5 344.2h0M393.4 397.9h0M374.9 330.9h0M371.2 362.0h0M385.3 369.3h0M371.0 336.7h0M397.0 362.8h0M382.7 389.1h0M381.9 383.0h0M415.7 391.7h0M372.6 363.4h0M376.0 397.2h0M373.6 330.2h0M379.9 361.0h0M395.6 401.9h0M399.0 388.5h0M370.3 363.3h0M383.6 334.3h0M379.9 396.0h0M370.4 383.3h0M384.3 316.1h0M370.9 332.3h0M379.0 369.3h0M420.7 345.6h0M383.2 399.1h0M371.6 367.3h0M394.3 383.5h0M379.4 359.6h0M371.6 400.6h0M375.6 326.1h0M380.0 375.0h0M371.3 360.2h0M405.1 398.1h0M397.6 387.8h0M371.2 318.2h0M389.1 361.5h0M380.4 387.7h0M377.5 364.5h0M380.5 366.5h0M419.6 386.4h0M378.4 365.0h0M382.8 401.4h0M380.1 328.1h0M372.2 304.2h0M420.3 343.7h0M386.2 361.4h0M374.1 363.5h0M395.1 377.3h0M379.2 364.0h0M399.0 397.3h0M371.4 384.1h0M386.7 367.4h0M421.6 354.1h0M374.7 372.1h0M370.3 400.5h0M373.9 346.6h0M380.0 334.8h0M392.9 377.4h0M416.6 323.9h0M388.5 317.8h0M392.6 373.7h0M370.4 392.0h0M415.9 339.6h0M401.2 396.7h0M382.4 331.0h0M420.7 358.9h0M371.1 322.5h0M390.5 357.9h0M376.1 360.8h0M371.5 377.3h0M375.4 321.4h0M371.9 365.9h0M371.7 317.0h0M397.2 383.2h0M393.9 361.9h0M379.3 374.0h0M387.6 384.6h0M371.1 366.7h0M395.8 329.3h0M370.8 311.1h0M403.4 377.0h0M387.3 377.4h0M372.2 347.6h0M374.5 320.2h0M371.6 387.1h0M377.1 356.1h0M377.0 365.0h0M371.2 341.6h0M389.0 384.2h0M372.8 357.2h0M370.9 348.0h0M388.7 398.3h0M375.9 319.8h0M392.4 369.4h0M376.0 360.5h0M383.5 352.7h0M381.6 324.4h0M371.7 348.2h0M381.5 391.7h0M386.1 391.7h0M373.7 373.8h0M372.3 344.2h0M371.4 362.7h0M381.7 377.4h0M371.5 399.6h0M391.6 372.9h0M384.3 397.5h0M373.5 329.7h0M382.1 377.8h0M374.6 304.0h0M382.0 370.1h0M371.3 369.8h0M370.6 301.4h0M375.5 351.2h0M375.6 358.0h0M384.4 362.9h0M381.8 387.8h0M391.3 376.4h0M395.4 339.8h0M414.2 343.6h0M381.4 394.3h0M387.8 396.4h0M373.3 341.6h0M373.5 374.6h0M395.3 327.2h0M372.2 388.8h0M376.2 400.0h0M375.7 319.2h0M383.1 319.3h0M370.5 364.1h0M392.9 335.2h0M375.9 396.9h0M375.6 396.7h0M374.0 380.4h0M376.6 391.4h0M401.5 337.7h0M383.5 334.7h0M414.4 357.3h0M374.3 320.1h0M385.0 367.1h0M370.6 307.5h0M372.7 336.1h0M377.6 296.1h0M424.0 378.0h0M375.5 396.2h0M395.4 379.7h0M372.8 400.4h0M388.3 344.8h0M422.7 346.4h0M416.8 339.6h0M402.4 399.3h0M386.3 386.5h0M374.4 401.5h0M373.8 391.6h0M398.8 349.2h0M389.6 379.8h0M384.9 384.6h0M377.6 346.1h0M370.8 368.4h0M388.2 376.0h0M378.9 387.5h0M373.6 371.0h0M390.0 328.1h0M377.7 322.4h0M374.4 374.1h0M370.3 381.5h0M376.8 314.0h0M379.9 380.4h0M373.3 388.0h0M385.8 398.0h0M372.1 330.4h0M375.1 383.2h0M399.7 385.1h0M382.1 338.9h0M386.0 360.6h0M376.3 386.5h0M381.9 362.3h0M423.8 369.3h0M373.3 335.5h0M382.1 391.7h0M394.2 326.0h0M375.1 325.1h0M403.1 333.2h0M374.2 369.6h0M381.8 341.1h0M378.9 338.8h0M376.6 325.5h0M371.0 385.9h0M378.8 323.2h0M390.4 376.3h0M371.7 326.1h0M374.8 349.1h0M371.1 363.8h0M370.8 392.1h0M376.9 328.1h0M396.1 376.7h0M372.5 384.7h0M373.4 389.9h0M373.1 321.6h0M373.4 355.9h0M413.7 328.1h0M370.9 399.2h0M374.0 389.4h0M377.5 320.1h0M381.1 356.9h0M371.9 320.7h0M377.9 340.5h0M384.0 378.1h0M388.5 346.1h0M374.1 335.5h0M415.3 392.7h0M405.8 331.3h0M381.7 365.8h0M371.9 377.5h0M370.7 364.3h0M379.1 384.6h0M377.2 314.0h0M371.0 360.3h0M392.1 397.3h0M402.5 367.1h0M425.1 342.9h0M381.8 324.6h0M372.0 362.4h0M376.5 371.8h0M373.6 395.1h0M371.8 322.1h0M372.6 399.3h0M389.5 320.4h0M372.7 390.1h0M396.7 386.9h0M411.7 361.9h0M423.5 337.0h0M374.9 364.4h0M399.1 378.1h0M424.3 362.1h0M396.6 370.3h0M376.7 359.3h0M384.9 297.3h0M380.8 352.8h0M377.0 341.5h0M376.2 399.5h0M371.8 349.8h0M376.9 399.8h0M372.2 330.3h0M405.5 385.3h0M374.6 339.8h0M414.8 372.8h0M373.6 399.2h0M389.7 365.2h0M384.1 402.0h0M396.8 320.0h0M382.7 384.7h0M380.4 400.2h0M401.3 388.8h0M392.0 369.5h0M386.6 371.3h0M402.4 364.3h0M404.0 360.1h0M402.2 386.5h0M374.7 329.7h0M388.7 393.1h0M404.6 347.3h0M371.7 318.5h0M382.9 367.5h0M377.3 378.3h0M371.8 330.9h0M384.6 390.4h0M385.9 315.3h0M415.1 371.4h0M376.9 343.5h0M375.4 376.1h0M382.7 344.1h0M371.3 343.5h0M410.5 389.8h0M372.8 333.4h0M373.3 400.9h0M390.4 327.8h0M379.9 333.7h0M372.1 355.9h0M389.4 298.9h0M383.2 400.8h0M378.5 391.9h0M404.5 356.5h0M414.3 388.6h0M372.1 366.7h0M392.4 369.8h0M376.8 382.9h0M376.0 380.3h0M395.3 329.8h0M382.6 377.5h0M371.3 331.9h0M394.5 312.1h0M371.4 390.0h0M377.3 366.5h0M373.6 400.4h0M370.5 351.4h0M387.1 397.0h0M372.1 396.4h0M384.3 396.0h0M374.2 306.2h0M375.6 351.0h0M370.9 362.3h0M388.8 377.9h0M382.0 350.4h0M382.7 350.5h0M372.1 363.4h0M371.2 378.2h0M372.7 398.4h0M378.2 359.8h0M375.0 375.0h0M370.6 377.2h0M372.9 401.4h0M385.9 390.1h0M377.9 328.6h0M380.7 325.9h0M393.4 328.3h0M419.3 335.6h0M376.2 393.3h0M387.1 398.9h0M395.6 307.3h0M371.5 299.3h0M373.4 340.7h0M370.5 354.7h0M377.9 367.7h0M381.5 383.8h0M378.3 351.2h0M373.8 393.6h0M373.5 401.6h0M408.5 368.3h0M387.1 381.9h0M376.3 319.5h0M370.6 351.2h0M374.1 364.2h0M396.5 382.8h0M378.2 351.4h0M385.8 341.1h0M374.3 339.3h0M371.8 346.6h0M374.9 384.0h0M371.6 361.8h0M378.5 319.8h0M378.5 378.2h0M376.3 367.7h0M407.2 335.1h0M411.7 347.6h0M371.7 355.3h0M375.7 393.4h0M388.9 390.3h0M374.7 385.7h0M382.5 398.6h0M379.0 388.2h0M413.4 336.7h0M381.3 372.9h0" stroke="#5A8DF5" stroke-width="2.2" stroke-linecap="round" fill="none"/><path d="M386.0 280.8h0M416.5 288.2h0M432.0 311.9h0M438.1 329.6h0M443.3 355.6h0M439.0 396.2h0" stroke="#5A8DF5" stroke-width="2.2" stroke-linecap="round" fill="none"/></g>
<g><path d="M560.2 182.5L610.4 182.5L610.4 179.4L560.2 179.4Z" fill="#8F9AAD"/><path d="M610.4 182.2L630.7 182.2L630.7 179.7L610.4 179.7Z" fill="#8F9AAD"/><path d="M532.3 180.7h0M533.9 180.7h0M536.0 180.7h0M537.5 180.7h0M539.7 180.7h0M541.3 180.7h0M542.5 180.7h0M544.7 180.7h0M546.1 180.7h0M548.1 180.7h0M549.8 180.7h0M551.1 180.7h0M553.2 180.7h0M554.9 180.7h0M556.9 180.7h0M558.2 180.7h0M588.7 180.2h0M591.1 180.2h0M603.2 180.8h0M617.6 180.4h0M613.2 180.6h0M577.4 180.4h0M568.5 180.4h0M609.4 180.7h0M622.0 180.8h0M590.4 180.3h0M589.6 180.4h0M607.6 180.2h0M637.0 180.4h0M622.8 180.9h0M615.4 180.2h0M591.3 180.5h0M597.3 180.1h0M584.8 180.6h0M560.3 180.6h0M609.1 180.2h0M631.7 180.7h0M636.7 180.8h0M623.9 180.9h0M591.6 180.9h0M626.6 180.3h0M571.0 180.5h0M580.2 180.6h0M603.0 180.9h0M627.1 180.8h0M594.8 180.9h0M560.4 180.8h0M586.6 180.2h0M629.1 180.6h0M595.4 180.4h0M626.7 180.7h0M621.6 180.6h0M606.2 180.3h0M599.0 180.4h0M614.2 181.0h0M563.2 180.9h0M576.7 180.8h0M564.0 180.8h0M606.7 180.2h0M587.2 180.7h0M592.5 180.4h0M621.0 180.2h0M589.3 180.4h0M586.6 180.3h0M578.0 180.2h0M599.3 180.4h0M601.6 180.7h0M598.5 181.0h0M563.5 180.5h0M597.1 180.3h0M561.7 180.5h0M598.2 180.5h0M616.7 180.5h0M603.8 180.6h0M607.8 180.8h0M603.0 180.4h0M547.6 177.4h0M577.7 176.6h0M582.5 177.0h0M581.4 178.0h0M595.7 178.0h0M597.8 177.3h0M600.0 177.0h0M602.1 177.4h0M604.3 177.7h0M606.9 178.3h0M614.3 176.6h0M615.6 176.1h0M616.8 177.3h0M618.1 178.0h0M626.4 178.8h0M630.7 177.4h0M542.0 179.5h0M570.1 179.5h0M622.0 179.5h0" stroke="#8F9AAD" stroke-width="2.2" stroke-linecap="round" fill="none"/></g>
<g><path d="M568.6 405.3h0M542.2 412.6h0M565.5 404.5h0M556.2 404.4h0M568.6 412.1h0M559.1 407.0h0M541.0 404.4h0M561.7 404.4h0M559.1 411.4h0M568.1 410.4h0M554.6 409.0h0M551.7 407.4h0M566.6 404.3h0M567.1 405.6h0M554.8 407.3h0M544.8 407.8h0M553.9 405.5h0M542.9 407.1h0M562.8 413.3h0M569.2 406.8h0M564.4 415.3h0M552.6 407.7h0M569.5 405.0h0M562.3 414.3h0M543.6 407.8h0M563.2 408.8h0M564.5 406.8h0M563.6 412.2h0M563.9 412.9h0M566.5 410.5h0M567.2 414.0h0M563.8 405.1h0M554.7 408.8h0M543.0 407.9h0M551.6 404.1h0M568.1 404.6h0M552.3 405.1h0M560.6 412.8h0M569.3 412.7h0M555.3 406.3h0M567.6 407.6h0M566.7 403.9h0M548.7 408.0h0M567.6 405.3h0M562.9 407.1h0M568.5 409.8h0M556.9 406.6h0M564.0 415.6h0M557.5 406.3h0M543.5 408.9h0M567.1 406.7h0M564.8 405.1h0M565.0 405.3h0M557.6 410.4h0M540.4 404.8h0" stroke="#8F9AAD" stroke-width="2.2" stroke-linecap="round" fill="none"/><path d="M631.3 410.9h0M609.7 410.6h0M605.9 408.7h0M636.9 405.5h0M606.3 406.5h0M614.6 403.9h0M621.5 409.0h0M619.2 410.3h0M621.4 403.6h0M622.6 406.1h0M605.0 403.5h0M616.9 416.0h0M643.2 409.6h0M625.4 405.3h0M623.2 409.7h0M632.1 405.2h0M621.8 415.8h0M612.1 415.1h0M630.1 404.2h0M620.3 413.7h0M609.1 408.7h0M621.5 415.3h0M613.6 404.8h0M612.2 409.2h0M607.9 407.8h0M621.6 406.1h0M625.0 404.2h0M607.9 403.7h0M628.6 413.6h0M608.3 405.4h0M620.2 414.8h0M611.0 405.4h0M616.1 410.9h0M635.8 413.1h0M605.2 414.0h0M606.7 406.4h0M606.2 413.0h0M636.2 403.9h0M605.6 405.0h0M606.1 411.2h0M610.5 410.0h0M618.9 405.0h0M616.5 411.9h0M630.0 409.4h0M608.0 416.3h0M627.6 404.6h0M620.6 407.6h0M605.9 414.1h0M608.0 406.4h0M628.9 406.4h0M620.9 411.9h0M612.1 404.7h0M612.8 416.1h0M627.8 415.4h0M628.9 409.9h0M623.7 414.0h0M622.9 413.0h0M623.6 415.8h0M610.5 405.3h0M609.1 416.4h0M629.2 413.1h0M623.8 405.5h0M610.7 413.9h0M617.6 414.7h0M614.8 406.9h0" stroke="#8F9AAD" stroke-width="2.2" stroke-linecap="round" fill="none"/><path d="M586.2 416.5h0M595.3 420.3h0M583.7 408.0h0M597.2 419.6h0M580.2 404.4h0M604.9 414.7h0M579.7 415.5h0M584.6 404.1h0M593.2 404.9h0M592.8 414.8h0M602.3 406.0h0M599.9 417.9h0M577.3 405.4h0M577.5 409.3h0M572.4 414.6h0M585.2 411.7h0M585.6 416.1h0M579.2 405.2h0M581.4 420.8h0M585.9 420.4h0M594.1 405.4h0M591.5 408.9h0M587.6 413.7h0M576.2 408.2h0M603.9 409.5h0M585.7 410.3h0M592.2 416.4h0M570.5 409.9h0M584.8 420.4h0M612.1 411.6h0M594.7 413.1h0M592.5 411.7h0M573.1 405.9h0M578.0 412.3h0M593.7 415.1h0M579.4 406.6h0M578.0 406.2h0M599.3 413.5h0M592.9 405.3h0M582.0 416.6h0M597.7 408.5h0M586.2 409.1h0M591.0 414.7h0M589.2 419.0h0M587.1 410.5h0M595.5 406.3h0M594.5 415.6h0M589.8 418.1h0M598.5 406.0h0M594.2 412.0h0M592.2 405.9h0M585.5 405.4h0M585.5 408.6h0M608.5 415.7h0M586.6 408.9h0M592.2 418.4h0M594.2 411.1h0M573.4 413.2h0M576.6 418.1h0M591.8 410.9h0M591.3 419.9h0M577.5 413.4h0M592.4 419.2h0M582.4 415.1h0M593.0 416.0h0M581.3 403.8h0M605.8 417.3h0M607.1 406.1h0M598.3 408.3h0M581.9 404.1h0M582.0 413.6h0M598.7 414.6h0M577.6 404.7h0M589.4 417.2h0M580.0 405.7h0M593.1 416.6h0M587.0 412.9h0M605.9 416.9h0M606.5 404.6h0M577.5 408.5h0M600.2 409.6h0M582.5 411.2h0M587.0 408.9h0M587.2 409.1h0M579.7 410.8h0M600.5 416.9h0M593.8 412.0h0M591.3 413.1h0M602.4 411.6h0M592.2 409.5h0M582.1 412.8h0M585.1 420.5h0M595.9 408.2h0M579.8 416.8h0M597.2 408.1h0M595.9 417.9h0M593.9 413.9h0M583.3 412.1h0M578.4 414.4h0M584.6 415.5h0M582.7 408.4h0M590.9 413.8h0M593.7 421.0h0M577.4 407.4h0M591.4 410.2h0M579.7 410.5h0M576.3 405.8h0M601.5 408.7h0M594.0 403.7h0M594.4 412.6h0M590.1 415.6h0M608.9 412.4h0M589.9 417.7h0M599.9 405.0h0M581.2 405.0h0M589.0 417.0h0M587.0 417.9h0M565.8 411.7h0M576.3 414.2h0M581.5 415.1h0M592.5 403.4h0M586.0 412.0h0M587.7 417.1h0M581.0 409.2h0M587.5 417.9h0M575.3 414.8h0M587.4 414.2h0M603.9 414.2h0M596.0 411.2h0M595.8 415.5h0M583.3 415.4h0M582.3 413.7h0M592.9 405.7h0M601.5 410.4h0M606.5 411.3h0M602.6 408.6h0M592.6 409.1h0M575.1 410.8h0M599.4 420.4h0M586.4 419.5h0M605.8 412.0h0M594.0 414.7h0M597.6 410.8h0M596.1 420.1h0M592.1 419.0h0M581.1 412.9h0M600.4 414.1h0M585.8 409.1h0M594.2 407.3h0M587.6 421.0h0M588.5 417.1h0M582.9 408.9h0M593.8 415.2h0M605.2 405.8h0M579.4 412.7h0M583.0 405.1h0M604.9 410.2h0M602.1 406.0h0M606.6 411.8h0M590.1 418.9h0M572.5 413.7h0M590.1 418.1h0M589.1 419.9h0M608.0 418.0h0M596.6 412.2h0M582.6 414.6h0M592.2 412.1h0M596.2 412.4h0M576.4 409.0h0M595.0 411.7h0M585.8 410.8h0M585.5 418.2h0M602.5 415.8h0M609.0 406.5h0M584.9 414.9h0M585.0 409.9h0M585.8 414.1h0M590.2 420.7h0M592.6 404.5h0M600.1 408.5h0M607.7 405.4h0M590.4 419.1h0M583.4 410.1h0M581.0 409.9h0M579.9 406.5h0M589.9 420.1h0M590.8 415.6h0M598.5 416.1h0M581.1 412.9h0M577.3 414.8h0M595.8 412.6h0M581.8 415.8h0M598.9 408.7h0M596.1 416.4h0M578.8 413.1h0M581.0 417.5h0M593.6 420.1h0M575.2 419.1h0M598.1 419.3h0M581.2 404.7h0M588.9 421.0h0M579.9 403.9h0M587.0 413.1h0M592.4 415.4h0M591.0 413.7h0M591.3 411.3h0M576.4 404.6h0M580.7 408.7h0M586.3 420.8h0M592.5 420.0h0M585.2 407.1h0M595.2 417.3h0M577.5 417.5h0M567.8 414.2h0M583.2 406.0h0M574.7 406.7h0M600.4 412.3h0M586.4 416.1h0M591.7 411.6h0M593.6 417.8h0M581.5 415.5h0M595.5 415.1h0M575.1 407.0h0M584.6 418.8h0M593.3 412.3h0M612.5 413.7h0M604.5 404.4h0M599.1 414.2h0M601.6 414.0h0M569.8 416.0h0M569.0 414.4h0M588.0 414.2h0M592.0 408.9h0M596.9 403.9h0M586.6 416.2h0M595.7 412.7h0M580.1 404.3h0M591.1 416.3h0M600.7 409.5h0M597.5 418.5h0M583.9 410.1h0M600.6 407.9h0M586.7 410.5h0M582.9 408.7h0M581.1 410.2h0M594.2 406.2h0M600.9 417.5h0M589.7 421.2h0M584.3 419.4h0M585.2 404.7h0M583.1 419.3h0M593.9 419.9h0M573.4 415.0h0M599.7 419.5h0M591.7 419.7h0M567.4 414.9h0M594.6 409.1h0M594.6 412.3h0M585.6 413.6h0M577.7 414.5h0M596.4 417.3h0M578.2 409.5h0M573.3 411.0h0M582.1 416.5h0M573.9 408.2h0M604.0 413.9h0M580.7 406.3h0M577.6 405.0h0M585.5 407.6h0M591.4 409.8h0M593.2 420.0h0M596.6 410.3h0M592.9 408.5h0M579.1 417.8h0M601.5 408.1h0M587.8 416.3h0M586.5 410.1h0M577.1 414.2h0M593.1 410.7h0M575.6 419.6h0M581.9 412.9h0M581.0 416.4h0M591.5 412.7h0M580.9 410.4h0M596.9 411.7h0M598.9 418.1h0M582.9 417.8h0M587.4 419.3h0M581.2 409.3h0M573.6 414.4h0M584.1 416.6h0M583.8 418.0h0M591.9 406.9h0M589.0 417.7h0M585.8 403.3h0M599.0 409.4h0M595.6 406.0h0M581.7 405.1h0M587.3 417.6h0M596.3 414.5h0M593.1 414.4h0M596.3 417.2h0M596.6 411.3h0M583.3 411.0h0M588.4 420.1h0M593.7 412.5h0M596.2 419.9h0M586.5 410.3h0M593.1 414.8h0M591.5 413.4h0M603.7 408.5h0M602.2 404.1h0M592.0 411.0h0M583.5 416.2h0M590.4 415.6h0M591.8 418.8h0M569.2 409.2h0M588.2 420.8h0M596.8 404.1h0M613.4 405.0h0M604.7 418.9h0M585.6 418.0h0M585.8 407.1h0M593.0 419.9h0M603.8 413.5h0M579.6 414.0h0M570.9 410.7h0M582.8 406.7h0M584.4 410.1h0M595.4 405.5h0M595.7 420.2h0M581.0 416.1h0M604.0 412.1h0M585.4 417.1h0M588.4 415.3h0M579.7 407.8h0M608.6 410.2h0M585.6 421.1h0M587.1 419.6h0M575.8 415.5h0M587.8 413.0h0M592.9 416.6h0M592.9 412.4h0M595.2 411.3h0M606.8 414.5h0M581.8 411.8h0M600.1 409.4h0M582.5 417.6h0M603.5 407.4h0M587.2 412.7h0M597.8 411.1h0M606.2 406.8h0M589.5 420.6h0M577.6 410.6h0M584.0 406.0h0M594.1 417.4h0M594.0 407.5h0M568.5 409.5h0M579.1 413.8h0M587.4 420.6h0M606.5 407.3h0M586.7 409.4h0M593.1 411.2h0M600.6 407.0h0M584.0 407.4h0M593.2 406.0h0M582.9 410.7h0M600.7 407.9h0M584.4 420.1h0M595.9 406.0h0M605.2 418.1h0M600.4 407.6h0M584.3 417.9h0M586.2 410.9h0M592.2 410.6h0M585.8 410.6h0M583.6 410.2h0M586.3 419.4h0M585.8 406.7h0M610.1 412.1h0" stroke="#8F9AAD" stroke-width="2.2" stroke-linecap="round" fill="none"/><path d="M575.3 404.3L581.0 402.8L582.7 399.9L583.8 398.8L585.3 400.6L587.0 402.4L589.4 414.8L591.5 402.4L593.5 401.3L596.4 399.1L597.6 400.3L599.1 403.6L600.4 408.0L600.4 413.9L597.4 419.1L593.5 421.0L590.9 421.7L583.1 421.7L578.4 419.8L574.9 415.4L573.6 409.5Z" fill="#8F9AAD"/><path d="M593.9 388.9h0M597.4 395.9h0M585.7 395.9h0M582.7 384.3h0M582.9 387.3h0M584.0 393.2h0M592.2 397.6h0M596.1 398.4h0" stroke="#8F9AAD" stroke-width="2.2" stroke-linecap="round" fill="none"/><path d="M566.7 382.0h0M577.1 382.0h0M580.1 384.9h0M579.0 388.5h0M573.8 392.2h0M577.7 395.9h0M575.3 399.1h0M577.1 399.9h0M578.4 400.6h0M579.7 400.9h0M578.8 399.1h0M580.1 398.4h0M576.6 401.3h0M580.3 400.3h0M577.9 397.6h0M572.7 401.2h0M580.5 354.7h0" stroke="#F8575A" stroke-width="2.2" stroke-linecap="round" fill="none"/><path d="M609.1 372.0h0M605.2 388.9h0M606.0 396.3h0M601.7 399.9h0" stroke="#5A8DF5" stroke-width="2.2" stroke-linecap="round" fill="none"/></g>
<path d="M36.07 161.74H226.37" stroke="#262626" stroke-width="1.35" stroke-dasharray="5.82 5.82" fill="none"/>
<path d="M122.57 188.4V25.6" stroke="#262626" stroke-width="1.35" stroke-dasharray="5.82 5.82" fill="none"/>
<path d="M139.87 188.4V25.6" stroke="#262626" stroke-width="1.35" stroke-dasharray="5.82 5.82" fill="none"/>
<path d="M36.07 402.06H226.37" stroke="#262626" stroke-width="1.35" stroke-dasharray="5.82 5.82" fill="none"/>
<path d="M122.57 428.69V266" stroke="#262626" stroke-width="1.35" stroke-dasharray="5.82 5.82" fill="none"/>
<path d="M139.87 428.69V266" stroke="#262626" stroke-width="1.35" stroke-dasharray="5.82 5.82" fill="none"/>
<path d="M265.95 161.74H456.25" stroke="#262626" stroke-width="1.35" stroke-dasharray="5.82 5.82" fill="none"/>
<path d="M352.45 188.4V25.6" stroke="#262626" stroke-width="1.35" stroke-dasharray="5.82 5.82" fill="none"/>
<path d="M369.75 188.4V25.6" stroke="#262626" stroke-width="1.35" stroke-dasharray="5.82 5.82" fill="none"/>
<path d="M265.95 402.06H456.25" stroke="#262626" stroke-width="1.35" stroke-dasharray="5.82 5.82" fill="none"/>
<path d="M352.45 428.69V266" stroke="#262626" stroke-width="1.35" stroke-dasharray="5.82 5.82" fill="none"/>
<path d="M369.75 428.69V266" stroke="#262626" stroke-width="1.35" stroke-dasharray="5.82 5.82" fill="none"/>
<path d="M494.45 161.74H684.75" stroke="#262626" stroke-width="1.35" stroke-dasharray="5.82 5.82" fill="none"/>
<path d="M580.95 188.4V25.6" stroke="#262626" stroke-width="1.35" stroke-dasharray="5.82 5.82" fill="none"/>
<path d="M598.25 188.4V25.6" stroke="#262626" stroke-width="1.35" stroke-dasharray="5.82 5.82" fill="none"/>
<path d="M494.45 402.06H684.75" stroke="#262626" stroke-width="1.35" stroke-dasharray="5.82 5.82" fill="none"/>
<path d="M580.95 428.69V266" stroke="#262626" stroke-width="1.35" stroke-dasharray="5.82 5.82" fill="none"/>
<path d="M598.25 428.69V266" stroke="#262626" stroke-width="1.35" stroke-dasharray="5.82 5.82" fill="none"/>
<text x="0" y="9.6" font-size="13.33" text-anchor="start" font-weight="bold" fill="#000">A</text>
<text x="122.05" y="9.9" font-size="10.67" text-anchor="middle" font-weight="bold" fill="#000">G1 - UF</text>
<text x="74.3" y="20.7" font-size="10.67" text-anchor="middle" fill="#1a1a1a" stroke="#1a1a1a" stroke-width="0.2">1722</text>
<text x="170.5" y="20.7" font-size="10.67" text-anchor="middle" fill="#1a1a1a" stroke="#1a1a1a" stroke-width="0.2">1755</text>
<text x="44.12" y="200" font-size="10.67" text-anchor="middle" fill="#222" stroke="#222" stroke-width="0.2">−20</text>
<text x="87.37" y="200" font-size="10.67" text-anchor="middle" fill="#222" stroke="#222" stroke-width="0.2">−10</text>
<text x="130.62" y="200" font-size="10.67" text-anchor="middle" fill="#222" stroke="#222" stroke-width="0.2">0</text>
<text x="173.87" y="200" font-size="10.67" text-anchor="middle" fill="#222" stroke="#222" stroke-width="0.2">10</text>
<text x="217.12" y="200" font-size="10.67" text-anchor="middle" fill="#222" stroke="#222" stroke-width="0.2">20</text>
<text x="32.27" y="184.7" font-size="10.67" text-anchor="end" fill="#222" stroke="#222" stroke-width="0.2">0.0</text>
<text x="32.27" y="147.7" font-size="10.67" text-anchor="end" fill="#222" stroke="#222" stroke-width="0.2">2.5</text>
<text x="32.27" y="110.7" font-size="10.67" text-anchor="end" fill="#222" stroke="#222" stroke-width="0.2">5.0</text>
<text x="32.27" y="73.7" font-size="10.67" text-anchor="end" fill="#222" stroke="#222" stroke-width="0.2">7.5</text>
<text x="32.27" y="36.7" font-size="10.67" text-anchor="end" fill="#222" stroke="#222" stroke-width="0.2">10.0</text>
<text x="135.85" y="215.7" font-size="10.67" text-anchor="middle" fill="#1a1a1a" stroke="#1a1a1a" stroke-width="0.2">logFC</text>
<text x="9.6" y="102" font-size="11.05" text-anchor="middle" fill="#1a1a1a" stroke="#1a1a1a" stroke-width="0.2" transform="rotate(-90 9.6 102)">−log10 (FDR)</text>
<text x="0" y="241.3" font-size="13.33" text-anchor="start" font-weight="bold" fill="#000">D</text>
<text x="122.15" y="249.5" font-size="10.67" text-anchor="middle" font-weight="bold" fill="#000">G4 - G3</text>
<text x="74" y="263.7" font-size="10.67" text-anchor="middle" fill="#1a1a1a" stroke="#1a1a1a" stroke-width="0.2">1257</text>
<text x="170.1" y="263.7" font-size="10.67" text-anchor="middle" fill="#1a1a1a" stroke="#1a1a1a" stroke-width="0.2">678</text>
<text x="44.12" y="439.8" font-size="10.67" text-anchor="middle" fill="#222" stroke="#222" stroke-width="0.2">−20</text>
<text x="87.37" y="439.8" font-size="10.67" text-anchor="middle" fill="#222" stroke="#222" stroke-width="0.2">−10</text>
<text x="130.62" y="439.8" font-size="10.67" text-anchor="middle" fill="#222" stroke="#222" stroke-width="0.2">0</text>
<text x="173.87" y="439.8" font-size="10.67" text-anchor="middle" fill="#222" stroke="#222" stroke-width="0.2">10</text>
<text x="217.12" y="439.8" font-size="10.67" text-anchor="middle" fill="#222" stroke="#222" stroke-width="0.2">20</text>
<text x="32.27" y="425" font-size="10.67" text-anchor="end" fill="#222" stroke="#222" stroke-width="0.2">0.0</text>
<text x="32.27" y="388.02" font-size="10.67" text-anchor="end" fill="#222" stroke="#222" stroke-width="0.2">2.5</text>
<text x="32.27" y="351.05" font-size="10.67" text-anchor="end" fill="#222" stroke="#222" stroke-width="0.2">5.0</text>
<text x="32.27" y="314.07" font-size="10.67" text-anchor="end" fill="#222" stroke="#222" stroke-width="0.2">7.5</text>
<text x="32.27" y="277.1" font-size="10.67" text-anchor="end" fill="#222" stroke="#222" stroke-width="0.2">10.0</text>
<text x="135.85" y="456" font-size="10.67" text-anchor="middle" fill="#1a1a1a" stroke="#1a1a1a" stroke-width="0.2">logFC</text>
<text x="9.6" y="342" font-size="11.05" text-anchor="middle" fill="#1a1a1a" stroke="#1a1a1a" stroke-width="0.2" transform="rotate(-90 9.6 342)">−log10 (FDR)</text>
<text x="225.7" y="9.6" font-size="13.33" text-anchor="start" font-weight="bold" fill="#000">B</text>
<text x="360.5" y="9.9" font-size="10.67" text-anchor="middle" font-weight="bold" fill="#000">G2 - G1</text>
<text x="318.4" y="20.7" font-size="10.67" text-anchor="middle" fill="#1a1a1a" stroke="#1a1a1a" stroke-width="0.2">420</text>
<text x="414.6" y="20.7" font-size="10.67" text-anchor="middle" fill="#1a1a1a" stroke="#1a1a1a" stroke-width="0.2">386</text>
<text x="274" y="200" font-size="10.67" text-anchor="middle" fill="#222" stroke="#222" stroke-width="0.2">−20</text>
<text x="317.25" y="200" font-size="10.67" text-anchor="middle" fill="#222" stroke="#222" stroke-width="0.2">−10</text>
<text x="360.5" y="200" font-size="10.67" text-anchor="middle" fill="#222" stroke="#222" stroke-width="0.2">0</text>
<text x="403.75" y="200" font-size="10.67" text-anchor="middle" fill="#222" stroke="#222" stroke-width="0.2">10</text>
<text x="447" y="200" font-size="10.67" text-anchor="middle" fill="#222" stroke="#222" stroke-width="0.2">20</text>
<text x="262.15" y="184.7" font-size="10.67" text-anchor="end" fill="#222" stroke="#222" stroke-width="0.2">0.0</text>
<text x="262.15" y="147.7" font-size="10.67" text-anchor="end" fill="#222" stroke="#222" stroke-width="0.2">2.5</text>
<text x="262.15" y="110.7" font-size="10.67" text-anchor="end" fill="#222" stroke="#222" stroke-width="0.2">5.0</text>
<text x="262.15" y="73.7" font-size="10.67" text-anchor="end" fill="#222" stroke="#222" stroke-width="0.2">7.5</text>
<text x="262.15" y="36.7" font-size="10.67" text-anchor="end" fill="#222" stroke="#222" stroke-width="0.2">10.0</text>
<text x="367" y="215.7" font-size="10.67" text-anchor="middle" fill="#1a1a1a" stroke="#1a1a1a" stroke-width="0.2">logFC</text>
<text x="240.8" y="102" font-size="11.05" text-anchor="middle" fill="#1a1a1a" stroke="#1a1a1a" stroke-width="0.2" transform="rotate(-90 240.8 102)">−log10 (FDR)</text>
<text x="225.7" y="241.3" font-size="13.33" text-anchor="start" font-weight="bold" fill="#000">E</text>
<text x="361" y="249.5" font-size="10.67" text-anchor="middle" font-weight="bold" fill="#000">G5 - G4</text>
<text x="318.5" y="263.7" font-size="10.67" text-anchor="middle" fill="#1a1a1a" stroke="#1a1a1a" stroke-width="0.2">786</text>
<text x="415" y="263.7" font-size="10.67" text-anchor="middle" fill="#1a1a1a" stroke="#1a1a1a" stroke-width="0.2">1588</text>
<text x="274" y="439.8" font-size="10.67" text-anchor="middle" fill="#222" stroke="#222" stroke-width="0.2">−20</text>
<text x="317.25" y="439.8" font-size="10.67" text-anchor="middle" fill="#222" stroke="#222" stroke-width="0.2">−10</text>
<text x="360.5" y="439.8" font-size="10.67" text-anchor="middle" fill="#222" stroke="#222" stroke-width="0.2">0</text>
<text x="403.75" y="439.8" font-size="10.67" text-anchor="middle" fill="#222" stroke="#222" stroke-width="0.2">10</text>
<text x="447" y="439.8" font-size="10.67" text-anchor="middle" fill="#222" stroke="#222" stroke-width="0.2">20</text>
<text x="262.15" y="425" font-size="10.67" text-anchor="end" fill="#222" stroke="#222" stroke-width="0.2">0.0</text>
<text x="262.15" y="388.02" font-size="10.67" text-anchor="end" fill="#222" stroke="#222" stroke-width="0.2">2.5</text>
<text x="262.15" y="351.05" font-size="10.67" text-anchor="end" fill="#222" stroke="#222" stroke-width="0.2">5.0</text>
<text x="262.15" y="314.07" font-size="10.67" text-anchor="end" fill="#222" stroke="#222" stroke-width="0.2">7.5</text>
<text x="262.15" y="277.1" font-size="10.67" text-anchor="end" fill="#222" stroke="#222" stroke-width="0.2">10.0</text>
<text x="367" y="456" font-size="10.67" text-anchor="middle" fill="#1a1a1a" stroke="#1a1a1a" stroke-width="0.2">logFC</text>
<text x="240.8" y="342" font-size="11.05" text-anchor="middle" fill="#1a1a1a" stroke="#1a1a1a" stroke-width="0.2" transform="rotate(-90 240.8 342)">−log10 (FDR)</text>
<text x="454.6" y="9.6" font-size="13.33" text-anchor="start" font-weight="bold" fill="#000">C</text>
<text x="589.4" y="9.9" font-size="10.67" text-anchor="middle" font-weight="bold" fill="#000">G3 - G2</text>
<text x="502.5" y="200" font-size="10.67" text-anchor="middle" fill="#222" stroke="#222" stroke-width="0.2">−20</text>
<text x="545.75" y="200" font-size="10.67" text-anchor="middle" fill="#222" stroke="#222" stroke-width="0.2">−10</text>
<text x="589" y="200" font-size="10.67" text-anchor="middle" fill="#222" stroke="#222" stroke-width="0.2">0</text>
<text x="632.25" y="200" font-size="10.67" text-anchor="middle" fill="#222" stroke="#222" stroke-width="0.2">10</text>
<text x="675.5" y="200" font-size="10.67" text-anchor="middle" fill="#222" stroke="#222" stroke-width="0.2">20</text>
<text x="490.65" y="184.7" font-size="10.67" text-anchor="end" fill="#222" stroke="#222" stroke-width="0.2">0.0</text>
<text x="490.65" y="147.7" font-size="10.67" text-anchor="end" fill="#222" stroke="#222" stroke-width="0.2">2.5</text>
<text x="490.65" y="110.7" font-size="10.67" text-anchor="end" fill="#222" stroke="#222" stroke-width="0.2">5.0</text>
<text x="490.65" y="73.7" font-size="10.67" text-anchor="end" fill="#222" stroke="#222" stroke-width="0.2">7.5</text>
<text x="490.65" y="36.7" font-size="10.67" text-anchor="end" fill="#222" stroke="#222" stroke-width="0.2">10.0</text>
<text x="595.55" y="215.7" font-size="10.67" text-anchor="middle" fill="#1a1a1a" stroke="#1a1a1a" stroke-width="0.2">logFC</text>
<text x="470.7" y="102" font-size="11.05" text-anchor="middle" fill="#1a1a1a" stroke="#1a1a1a" stroke-width="0.2" transform="rotate(-90 470.7 102)">−log10 (FDR)</text>
<text x="454.6" y="241.3" font-size="13.33" text-anchor="start" font-weight="bold" fill="#000">F</text>
<text x="589.8" y="249.5" font-size="10.67" text-anchor="middle" font-weight="bold" fill="#000">G6 - G5</text>
<text x="546.9" y="263.7" font-size="10.67" text-anchor="middle" fill="#1a1a1a" stroke="#1a1a1a" stroke-width="0.2">17</text>
<text x="642.6" y="263.7" font-size="10.67" text-anchor="middle" fill="#1a1a1a" stroke="#1a1a1a" stroke-width="0.2">4</text>
<text x="502.5" y="439.8" font-size="10.67" text-anchor="middle" fill="#222" stroke="#222" stroke-width="0.2">−20</text>
<text x="545.75" y="439.8" font-size="10.67" text-anchor="middle" fill="#222" stroke="#222" stroke-width="0.2">−10</text>
<text x="589" y="439.8" font-size="10.67" text-anchor="middle" fill="#222" stroke="#222" stroke-width="0.2">0</text>
<text x="632.25" y="439.8" font-size="10.67" text-anchor="middle" fill="#222" stroke="#222" stroke-width="0.2">10</text>
<text x="675.5" y="439.8" font-size="10.67" text-anchor="middle" fill="#222" stroke="#222" stroke-width="0.2">20</text>
<text x="490.65" y="425" font-size="10.67" text-anchor="end" fill="#222" stroke="#222" stroke-width="0.2">0.0</text>
<text x="490.65" y="388.02" font-size="10.67" text-anchor="end" fill="#222" stroke="#222" stroke-width="0.2">2.5</text>
<text x="490.65" y="351.05" font-size="10.67" text-anchor="end" fill="#222" stroke="#222" stroke-width="0.2">5.0</text>
<text x="490.65" y="314.07" font-size="10.67" text-anchor="end" fill="#222" stroke="#222" stroke-width="0.2">7.5</text>
<text x="490.65" y="277.1" font-size="10.67" text-anchor="end" fill="#222" stroke="#222" stroke-width="0.2">10.0</text>
<text x="595.55" y="456" font-size="10.67" text-anchor="middle" fill="#1a1a1a" stroke="#1a1a1a" stroke-width="0.2">logFC</text>
<text x="470.7" y="342" font-size="11.05" text-anchor="middle" fill="#1a1a1a" stroke="#1a1a1a" stroke-width="0.2" transform="rotate(-90 470.7 342)">−log10 (FDR)</text>
</svg></body></html>
